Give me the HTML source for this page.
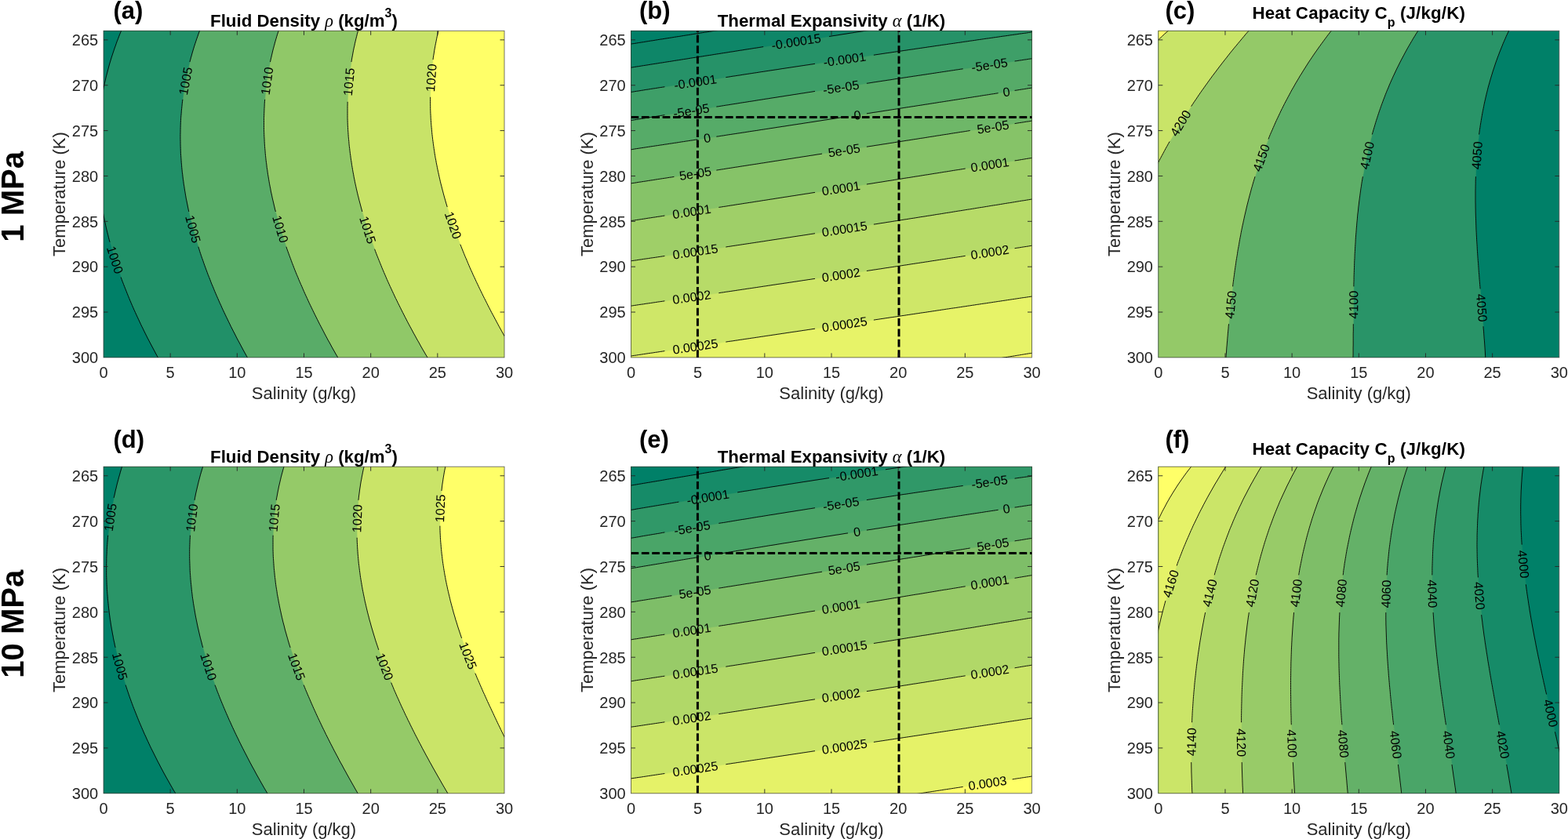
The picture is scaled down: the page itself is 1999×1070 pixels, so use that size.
<!DOCTYPE html>
<html><head><meta charset="utf-8"><title>Figure</title>
<style>html,body{margin:0;padding:0;background:#fff;overflow:hidden}svg{display:block}text{font-family:'Liberation Sans', Arial, Helvetica, sans-serif}</style>
</head><body>
<svg width="1999" height="1070" viewBox="0 0 1999 1070">
<rect width="1999" height="1070" fill="#fff"/>
<clipPath id="clipc00"><rect x="132.00" y="39.30" width="511.00" height="416.60"/></clipPath>
<g clip-path="url(#clipc00)">
<rect x="132.00" y="39.30" width="511.00" height="416.60" fill="#ffff68"/>
<path d="M560.9,31.3 L560.2,34.3 L559.4,37.3 L558.7,40.3 L558.0,43.2 L557.3,46.2 L556.7,49.2 L556.1,52.2 L555.5,55.2 L554.9,58.2 L554.4,61.1 L553.8,64.1 L553.4,67.1 L552.9,70.1 L552.4,73.1 L552.0,76.1 L551.6,79.0 L551.3,82.0 L550.9,85.0 L550.6,88.0 L550.3,91.0 L550.0,94.0 L549.8,96.9 L549.6,99.9 L549.4,102.9 L549.2,105.9 L549.0,108.9 L548.9,111.9 L548.8,114.8 L548.7,117.8 L548.6,120.8 L548.6,123.8 L548.6,126.8 L548.6,129.8 L548.6,132.7 L548.7,135.7 L548.7,138.7 L548.8,141.7 L548.9,144.7 L549.1,147.7 L549.2,150.6 L549.4,153.6 L549.6,156.6 L549.8,159.6 L550.1,162.6 L550.4,165.6 L550.6,168.5 L550.9,171.5 L551.3,174.5 L551.6,177.5 L552.0,180.5 L552.4,183.5 L552.8,186.4 L553.2,189.4 L553.7,192.4 L554.1,195.4 L554.6,198.4 L555.1,201.4 L555.7,204.3 L556.2,207.3 L556.8,210.3 L557.4,213.3 L558.0,216.3 L558.6,219.3 L559.3,222.2 L559.9,225.2 L560.6,228.2 L561.3,231.2 L562.0,234.2 L562.8,237.2 L563.5,240.1 L564.3,243.1 L565.1,246.1 L565.9,249.1 L566.7,252.1 L567.6,255.1 L568.4,258.0 L569.3,261.0 L570.2,264.0 L571.1,267.0 L572.1,270.0 L573.0,273.0 L574.0,275.9 L574.9,278.9 L575.9,281.9 L577.0,284.9 L578.0,287.9 L579.0,290.9 L580.1,293.8 L581.2,296.8 L582.3,299.8 L583.4,302.8 L584.5,305.8 L585.7,308.8 L586.8,311.7 L588.0,314.7 L589.2,317.7 L590.4,320.7 L591.6,323.7 L592.8,326.7 L594.1,329.6 L595.4,332.6 L596.6,335.6 L597.9,338.6 L599.2,341.6 L600.5,344.6 L601.9,347.5 L603.2,350.5 L604.6,353.5 L606.0,356.5 L607.4,359.5 L608.8,362.5 L610.2,365.4 L611.6,368.4 L613.1,371.4 L614.5,374.4 L616.0,377.4 L617.5,380.4 L619.0,383.3 L620.5,386.3 L622.0,389.3 L623.5,392.3 L625.1,395.3 L626.6,398.3 L628.2,401.2 L629.8,404.2 L631.4,407.2 L633.0,410.2 L634.6,413.2 L636.2,416.2 L637.8,419.1 L639.5,422.1 L641.1,425.1 L642.8,428.1 L644.5,431.1 L646.2,434.1 L647.9,437.0 L649.6,440.0 L651.3,443.0 L653.1,446.0 L654.8,449.0 L656.6,452.0 L658.3,454.9 L660.1,457.9 L661.9,460.9 L663.7,463.9 L72.0,463.9 L72.0,31.3 Z" fill="#c8e368" stroke="#c8e368" stroke-width="0.6"/>
<path d="M458.7,31.3 L457.9,34.3 L457.0,37.3 L456.2,40.3 L455.4,43.2 L454.7,46.2 L453.9,49.2 L453.2,52.2 L452.5,55.2 L451.9,58.2 L451.2,61.1 L450.6,64.1 L450.0,67.1 L449.5,70.1 L448.9,73.1 L448.4,76.1 L447.9,79.0 L447.5,82.0 L447.0,85.0 L446.6,88.0 L446.2,91.0 L445.8,94.0 L445.5,96.9 L445.1,99.9 L444.8,102.9 L444.6,105.9 L444.3,108.9 L444.1,111.9 L443.9,114.8 L443.7,117.8 L443.5,120.8 L443.4,123.8 L443.2,126.8 L443.1,129.8 L443.1,132.7 L443.0,135.7 L443.0,138.7 L443.0,141.7 L443.0,144.7 L443.0,147.7 L443.0,150.6 L443.1,153.6 L443.2,156.6 L443.3,159.6 L443.5,162.6 L443.6,165.6 L443.8,168.5 L444.0,171.5 L444.2,174.5 L444.5,177.5 L444.8,180.5 L445.0,183.5 L445.3,186.4 L445.7,189.4 L446.0,192.4 L446.4,195.4 L446.8,198.4 L447.2,201.4 L447.6,204.3 L448.1,207.3 L448.5,210.3 L449.0,213.3 L449.5,216.3 L450.0,219.3 L450.6,222.2 L451.1,225.2 L451.7,228.2 L452.3,231.2 L452.9,234.2 L453.6,237.2 L454.2,240.1 L454.9,243.1 L455.6,246.1 L456.3,249.1 L457.1,252.1 L457.8,255.1 L458.6,258.0 L459.4,261.0 L460.2,264.0 L461.0,267.0 L461.8,270.0 L462.7,273.0 L463.6,275.9 L464.4,278.9 L465.4,281.9 L466.3,284.9 L467.2,287.9 L468.2,290.9 L469.2,293.8 L470.2,296.8 L471.2,299.8 L472.2,302.8 L473.2,305.8 L474.3,308.8 L475.4,311.7 L476.5,314.7 L477.6,317.7 L478.7,320.7 L479.8,323.7 L481.0,326.7 L482.2,329.6 L483.4,332.6 L484.6,335.6 L485.8,338.6 L487.0,341.6 L488.3,344.6 L489.5,347.5 L490.8,350.5 L492.1,353.5 L493.4,356.5 L494.7,359.5 L496.1,362.5 L497.4,365.4 L498.8,368.4 L500.2,371.4 L501.6,374.4 L503.0,377.4 L504.4,380.4 L505.9,383.3 L507.3,386.3 L508.8,389.3 L510.3,392.3 L511.8,395.3 L513.3,398.3 L514.8,401.2 L516.3,404.2 L517.9,407.2 L519.4,410.2 L521.0,413.2 L522.6,416.2 L524.2,419.1 L525.8,422.1 L527.4,425.1 L529.1,428.1 L530.7,431.1 L532.4,434.1 L534.1,437.0 L535.7,440.0 L537.4,443.0 L539.1,446.0 L540.9,449.0 L542.6,452.0 L544.4,454.9 L546.1,457.9 L547.9,460.9 L549.7,463.9 L72.0,463.9 L72.0,31.3 Z" fill="#90c868" stroke="#90c868" stroke-width="0.6"/>
<path d="M357.8,31.3 L356.7,34.3 L355.7,37.3 L354.8,40.3 L353.8,43.2 L352.9,46.2 L352.0,49.2 L351.1,52.2 L350.3,55.2 L349.5,58.2 L348.7,61.1 L347.9,64.1 L347.2,67.1 L346.5,70.1 L345.8,73.1 L345.1,76.1 L344.5,79.0 L343.9,82.0 L343.3,85.0 L342.7,88.0 L342.2,91.0 L341.7,94.0 L341.2,96.9 L340.7,99.9 L340.3,102.9 L339.9,105.9 L339.5,108.9 L339.1,111.9 L338.8,114.8 L338.5,117.8 L338.2,120.8 L337.9,123.8 L337.7,126.8 L337.4,129.8 L337.2,132.7 L337.1,135.7 L336.9,138.7 L336.8,141.7 L336.7,144.7 L336.6,147.7 L336.5,150.6 L336.5,153.6 L336.5,156.6 L336.5,159.6 L336.5,162.6 L336.5,165.6 L336.6,168.5 L336.7,171.5 L336.8,174.5 L337.0,177.5 L337.1,180.5 L337.3,183.5 L337.5,186.4 L337.7,189.4 L338.0,192.4 L338.2,195.4 L338.5,198.4 L338.8,201.4 L339.1,204.3 L339.5,207.3 L339.9,210.3 L340.2,213.3 L340.7,216.3 L341.1,219.3 L341.5,222.2 L342.0,225.2 L342.5,228.2 L343.0,231.2 L343.5,234.2 L344.1,237.2 L344.7,240.1 L345.2,243.1 L345.8,246.1 L346.5,249.1 L347.1,252.1 L347.8,255.1 L348.5,258.0 L349.2,261.0 L349.9,264.0 L350.6,267.0 L351.4,270.0 L352.2,273.0 L353.0,275.9 L353.8,278.9 L354.6,281.9 L355.5,284.9 L356.3,287.9 L357.2,290.9 L358.1,293.8 L359.0,296.8 L360.0,299.8 L360.9,302.8 L361.9,305.8 L362.9,308.8 L363.9,311.7 L364.9,314.7 L365.9,317.7 L367.0,320.7 L368.1,323.7 L369.2,326.7 L370.3,329.6 L371.4,332.6 L372.5,335.6 L373.7,338.6 L374.8,341.6 L376.0,344.6 L377.2,347.5 L378.4,350.5 L379.7,353.5 L380.9,356.5 L382.2,359.5 L383.5,362.5 L384.8,365.4 L386.1,368.4 L387.4,371.4 L388.7,374.4 L390.1,377.4 L391.5,380.4 L392.8,383.3 L394.2,386.3 L395.6,389.3 L397.1,392.3 L398.5,395.3 L400.0,398.3 L401.4,401.2 L402.9,404.2 L404.4,407.2 L405.9,410.2 L407.4,413.2 L409.0,416.2 L410.5,419.1 L412.1,422.1 L413.6,425.1 L415.2,428.1 L416.8,431.1 L418.4,434.1 L420.1,437.0 L421.7,440.0 L423.3,443.0 L425.0,446.0 L426.7,449.0 L428.4,452.0 L430.1,454.9 L431.8,457.9 L433.5,460.9 L435.2,463.9 L72.0,463.9 L72.0,31.3 Z" fill="#59ac68" stroke="#59ac68" stroke-width="0.6"/>
<path d="M257.6,31.3 L256.4,34.3 L255.2,37.3 L254.1,40.3 L253.0,43.2 L252.0,46.2 L250.9,49.2 L249.9,52.2 L248.9,55.2 L247.9,58.2 L247.0,61.1 L246.1,64.1 L245.2,67.1 L244.4,70.1 L243.5,73.1 L242.7,76.1 L241.9,79.0 L241.2,82.0 L240.5,85.0 L239.8,88.0 L239.1,91.0 L238.4,94.0 L237.8,96.9 L237.2,99.9 L236.6,102.9 L236.1,105.9 L235.5,108.9 L235.0,111.9 L234.5,114.8 L234.1,117.8 L233.7,120.8 L233.3,123.8 L232.9,126.8 L232.5,129.8 L232.2,132.7 L231.9,135.7 L231.6,138.7 L231.3,141.7 L231.1,144.7 L230.8,147.7 L230.6,150.6 L230.5,153.6 L230.3,156.6 L230.2,159.6 L230.1,162.6 L230.0,165.6 L230.0,168.5 L229.9,171.5 L229.9,174.5 L229.9,177.5 L230.0,180.5 L230.0,183.5 L230.1,186.4 L230.2,189.4 L230.3,192.4 L230.4,195.4 L230.6,198.4 L230.8,201.4 L231.0,204.3 L231.2,207.3 L231.5,210.3 L231.7,213.3 L232.0,216.3 L232.3,219.3 L232.7,222.2 L233.0,225.2 L233.4,228.2 L233.8,231.2 L234.2,234.2 L234.7,237.2 L235.1,240.1 L235.6,243.1 L236.1,246.1 L236.6,249.1 L237.1,252.1 L237.7,255.1 L238.3,258.0 L238.9,261.0 L239.5,264.0 L240.1,267.0 L240.8,270.0 L241.4,273.0 L242.1,275.9 L242.8,278.9 L243.6,281.9 L244.3,284.9 L245.1,287.9 L245.9,290.9 L246.7,293.8 L247.5,296.8 L248.3,299.8 L249.2,302.8 L250.1,305.8 L251.0,308.8 L251.9,311.7 L252.8,314.7 L253.8,317.7 L254.7,320.7 L255.7,323.7 L256.7,326.7 L257.7,329.6 L258.8,332.6 L259.8,335.6 L260.9,338.6 L262.0,341.6 L263.1,344.6 L264.2,347.5 L265.3,350.5 L266.5,353.5 L267.7,356.5 L268.8,359.5 L270.0,362.5 L271.3,365.4 L272.5,368.4 L273.7,371.4 L275.0,374.4 L276.3,377.4 L277.6,380.4 L278.9,383.3 L280.2,386.3 L281.6,389.3 L282.9,392.3 L284.3,395.3 L285.7,398.3 L287.1,401.2 L288.5,404.2 L290.0,407.2 L291.4,410.2 L292.9,413.2 L294.3,416.2 L295.8,419.1 L297.3,422.1 L298.9,425.1 L300.4,428.1 L301.9,431.1 L303.5,434.1 L305.1,437.0 L306.7,440.0 L308.3,443.0 L309.9,446.0 L311.5,449.0 L313.2,452.0 L314.8,454.9 L316.5,457.9 L318.2,460.9 L319.9,463.9 L72.0,463.9 L72.0,31.3 Z" fill="#219068" stroke="#219068" stroke-width="0.6"/>
<path d="M157.9,31.3 L156.6,34.3 L155.3,37.3 L154.1,40.3 L152.9,43.2 L151.7,46.2 L150.6,49.2 L149.4,52.2 L148.3,55.2 L147.3,58.2 L146.2,61.1 L145.2,64.1 L144.2,67.1 L143.2,70.1 L142.2,73.1 L141.3,76.1 L140.4,79.0 L139.5,82.0 L138.7,85.0 L137.9,88.0 L137.1,91.0 L136.3,94.0 L135.5,96.9 L134.8,99.9 L134.1,102.9 L133.4,105.9 L132.8,108.9 L132.1,111.9 L131.5,114.8 L130.9,117.8 L130.4,120.8 L129.8,123.8 L129.3,126.8 L128.8,129.8 L128.4,132.7 L127.9,135.7 L127.5,138.7 L127.1,141.7 L126.7,144.7 L126.4,147.7 L126.1,150.6 L125.8,153.6 L125.5,156.6 L125.2,159.6 L125.0,162.6 L124.8,165.6 L124.6,168.5 L124.4,171.5 L124.3,174.5 L124.2,177.5 L124.1,180.5 L124.0,183.5 L123.9,186.4 L123.9,189.4 L123.9,192.4 L123.9,195.4 L124.0,198.4 L124.0,201.4 L124.1,204.3 L124.2,207.3 L124.3,210.3 L124.5,213.3 L124.6,216.3 L124.8,219.3 L125.0,222.2 L125.2,225.2 L125.5,228.2 L125.8,231.2 L126.1,234.2 L126.4,237.2 L126.7,240.1 L127.1,243.1 L127.4,246.1 L127.8,249.1 L128.2,252.1 L128.7,255.1 L129.1,258.0 L129.6,261.0 L130.1,264.0 L130.6,267.0 L131.2,270.0 L131.7,273.0 L132.3,275.9 L132.9,278.9 L133.5,281.9 L134.2,284.9 L134.8,287.9 L135.5,290.9 L136.2,293.8 L136.9,296.8 L137.7,299.8 L138.4,302.8 L139.2,305.8 L140.0,308.8 L140.8,311.7 L141.6,314.7 L142.5,317.7 L143.3,320.7 L144.2,323.7 L145.1,326.7 L146.1,329.6 L147.0,332.6 L148.0,335.6 L149.0,338.6 L150.0,341.6 L151.0,344.6 L152.0,347.5 L153.1,350.5 L154.1,353.5 L155.2,356.5 L156.3,359.5 L157.5,362.5 L158.6,365.4 L159.8,368.4 L161.0,371.4 L162.2,374.4 L163.4,377.4 L164.6,380.4 L165.8,383.3 L167.1,386.3 L168.4,389.3 L169.7,392.3 L171.0,395.3 L172.4,398.3 L173.7,401.2 L175.1,404.2 L176.5,407.2 L177.9,410.2 L179.3,413.2 L180.7,416.2 L182.2,419.1 L183.6,422.1 L185.1,425.1 L186.6,428.1 L188.1,431.1 L189.7,434.1 L191.2,437.0 L192.8,440.0 L194.4,443.0 L196.0,446.0 L197.6,449.0 L199.2,452.0 L200.8,454.9 L202.5,457.9 L204.2,460.9 L205.9,463.9 L72.0,463.9 L72.0,31.3 Z" fill="#008068" stroke="#008068" stroke-width="0.6"/>
<path d="M560.9,31.3 L560.2,34.3 L559.4,37.3 L558.7,40.3 L558.0,43.2 L557.3,46.2 L556.7,49.2 L556.1,52.2 L555.5,55.2 L554.9,58.2 L554.4,61.1 L553.8,64.1 L553.4,67.1 L552.9,70.1 L552.4,73.1 L552.0,76.1 M548.6,123.8 L548.6,126.8 L548.6,129.8 L548.6,132.7 L548.7,135.7 L548.7,138.7 L548.8,141.7 L548.9,144.7 L549.1,147.7 L549.2,150.6 L549.4,153.6 L549.6,156.6 L549.8,159.6 L550.1,162.6 L550.4,165.6 L550.6,168.5 L550.9,171.5 L551.3,174.5 L551.6,177.5 L552.0,180.5 L552.4,183.5 L552.8,186.4 L553.2,189.4 L553.7,192.4 L554.1,195.4 L554.6,198.4 L555.1,201.4 L555.7,204.3 L556.2,207.3 L556.8,210.3 L557.4,213.3 L558.0,216.3 L558.6,219.3 L559.3,222.2 L559.9,225.2 L560.6,228.2 L561.3,231.2 L562.0,234.2 L562.8,237.2 L563.5,240.1 L564.3,243.1 L565.1,246.1 L565.9,249.1 L566.7,252.1 L567.6,255.1 L568.4,258.0 L569.3,261.0 L570.2,264.0 M586.8,311.7 L588.0,314.7 L589.2,317.7 L590.4,320.7 L591.6,323.7 L592.8,326.7 L594.1,329.6 L595.4,332.6 L596.6,335.6 L597.9,338.6 L599.2,341.6 L600.5,344.6 L601.9,347.5 L603.2,350.5 L604.6,353.5 L606.0,356.5 L607.4,359.5 L608.8,362.5 L610.2,365.4 L611.6,368.4 L613.1,371.4 L614.5,374.4 L616.0,377.4 L617.5,380.4 L619.0,383.3 L620.5,386.3 L622.0,389.3 L623.5,392.3 L625.1,395.3 L626.6,398.3 L628.2,401.2 L629.8,404.2 L631.4,407.2 L633.0,410.2 L634.6,413.2 L636.2,416.2 L637.8,419.1 L639.5,422.1 L641.1,425.1 L642.8,428.1 L644.5,431.1 L646.2,434.1 L647.9,437.0 L649.6,440.0 L651.3,443.0 L653.1,446.0 L654.8,449.0 L656.6,452.0 L658.3,454.9 L660.1,457.9 L661.9,460.9 L663.7,463.9" fill="none" stroke="#000" stroke-width="0.9"/>
<path d="M458.7,31.3 L457.9,34.3 L457.0,37.3 L456.2,40.3 L455.4,43.2 L454.7,46.2 L453.9,49.2 L453.2,52.2 L452.5,55.2 L451.9,58.2 L451.2,61.1 L450.6,64.1 L450.0,67.1 L449.5,70.1 L448.9,73.1 L448.4,76.1 L447.9,79.0 M443.1,129.8 L443.1,132.7 L443.0,135.7 L443.0,138.7 L443.0,141.7 L443.0,144.7 L443.0,147.7 L443.0,150.6 L443.1,153.6 L443.2,156.6 L443.3,159.6 L443.5,162.6 L443.6,165.6 L443.8,168.5 L444.0,171.5 L444.2,174.5 L444.5,177.5 L444.8,180.5 L445.0,183.5 L445.3,186.4 L445.7,189.4 L446.0,192.4 L446.4,195.4 L446.8,198.4 L447.2,201.4 L447.6,204.3 L448.1,207.3 L448.5,210.3 L449.0,213.3 L449.5,216.3 L450.0,219.3 L450.6,222.2 L451.1,225.2 L451.7,228.2 L452.3,231.2 L452.9,234.2 L453.6,237.2 L454.2,240.1 L454.9,243.1 L455.6,246.1 L456.3,249.1 L457.1,252.1 L457.8,255.1 L458.6,258.0 L459.4,261.0 L460.2,264.0 L461.0,267.0 L461.8,270.0 M477.6,317.7 L478.7,320.7 L479.8,323.7 L481.0,326.7 L482.2,329.6 L483.4,332.6 L484.6,335.6 L485.8,338.6 L487.0,341.6 L488.3,344.6 L489.5,347.5 L490.8,350.5 L492.1,353.5 L493.4,356.5 L494.7,359.5 L496.1,362.5 L497.4,365.4 L498.8,368.4 L500.2,371.4 L501.6,374.4 L503.0,377.4 L504.4,380.4 L505.9,383.3 L507.3,386.3 L508.8,389.3 L510.3,392.3 L511.8,395.3 L513.3,398.3 L514.8,401.2 L516.3,404.2 L517.9,407.2 L519.4,410.2 L521.0,413.2 L522.6,416.2 L524.2,419.1 L525.8,422.1 L527.4,425.1 L529.1,428.1 L530.7,431.1 L532.4,434.1 L534.1,437.0 L535.7,440.0 L537.4,443.0 L539.1,446.0 L540.9,449.0 L542.6,452.0 L544.4,454.9 L546.1,457.9 L547.9,460.9 L549.7,463.9" fill="none" stroke="#000" stroke-width="0.9"/>
<path d="M357.8,31.3 L356.7,34.3 L355.7,37.3 L354.8,40.3 L353.8,43.2 L352.9,46.2 L352.0,49.2 L351.1,52.2 L350.3,55.2 L349.5,58.2 L348.7,61.1 L347.9,64.1 L347.2,67.1 L346.5,70.1 L345.8,73.1 L345.1,76.1 L344.5,79.0 M337.7,126.8 L337.4,129.8 L337.2,132.7 L337.1,135.7 L336.9,138.7 L336.8,141.7 L336.7,144.7 L336.6,147.7 L336.5,150.6 L336.5,153.6 L336.5,156.6 L336.5,159.6 L336.5,162.6 L336.5,165.6 L336.6,168.5 L336.7,171.5 L336.8,174.5 L337.0,177.5 L337.1,180.5 L337.3,183.5 L337.5,186.4 L337.7,189.4 L338.0,192.4 L338.2,195.4 L338.5,198.4 L338.8,201.4 L339.1,204.3 L339.5,207.3 L339.9,210.3 L340.2,213.3 L340.7,216.3 L341.1,219.3 L341.5,222.2 L342.0,225.2 L342.5,228.2 L343.0,231.2 L343.5,234.2 L344.1,237.2 L344.7,240.1 L345.2,243.1 L345.8,246.1 L346.5,249.1 L347.1,252.1 L347.8,255.1 L348.5,258.0 L349.2,261.0 L349.9,264.0 L350.6,267.0 L351.4,270.0 M364.9,314.7 L365.9,317.7 L367.0,320.7 L368.1,323.7 L369.2,326.7 L370.3,329.6 L371.4,332.6 L372.5,335.6 L373.7,338.6 L374.8,341.6 L376.0,344.6 L377.2,347.5 L378.4,350.5 L379.7,353.5 L380.9,356.5 L382.2,359.5 L383.5,362.5 L384.8,365.4 L386.1,368.4 L387.4,371.4 L388.7,374.4 L390.1,377.4 L391.5,380.4 L392.8,383.3 L394.2,386.3 L395.6,389.3 L397.1,392.3 L398.5,395.3 L400.0,398.3 L401.4,401.2 L402.9,404.2 L404.4,407.2 L405.9,410.2 L407.4,413.2 L409.0,416.2 L410.5,419.1 L412.1,422.1 L413.6,425.1 L415.2,428.1 L416.8,431.1 L418.4,434.1 L420.1,437.0 L421.7,440.0 L423.3,443.0 L425.0,446.0 L426.7,449.0 L428.4,452.0 L430.1,454.9 L431.8,457.9 L433.5,460.9 L435.2,463.9" fill="none" stroke="#000" stroke-width="0.9"/>
<path d="M257.6,31.3 L256.4,34.3 L255.2,37.3 L254.1,40.3 L253.0,43.2 L252.0,46.2 L250.9,49.2 L249.9,52.2 L248.9,55.2 L247.9,58.2 L247.0,61.1 L246.1,64.1 L245.2,67.1 L244.4,70.1 L243.5,73.1 L242.7,76.1 L241.9,79.0 M232.9,126.8 L232.5,129.8 L232.2,132.7 L231.9,135.7 L231.6,138.7 L231.3,141.7 L231.1,144.7 L230.8,147.7 L230.6,150.6 L230.5,153.6 L230.3,156.6 L230.2,159.6 L230.1,162.6 L230.0,165.6 L230.0,168.5 L229.9,171.5 L229.9,174.5 L229.9,177.5 L230.0,180.5 L230.0,183.5 L230.1,186.4 L230.2,189.4 L230.3,192.4 L230.4,195.4 L230.6,198.4 L230.8,201.4 L231.0,204.3 L231.2,207.3 L231.5,210.3 L231.7,213.3 L232.0,216.3 L232.3,219.3 L232.7,222.2 L233.0,225.2 L233.4,228.2 L233.8,231.2 L234.2,234.2 L234.7,237.2 L235.1,240.1 L235.6,243.1 L236.1,246.1 L236.6,249.1 L237.1,252.1 L237.7,255.1 L238.3,258.0 L238.9,261.0 L239.5,264.0 L240.1,267.0 L240.8,270.0 M252.8,314.7 L253.8,317.7 L254.7,320.7 L255.7,323.7 L256.7,326.7 L257.7,329.6 L258.8,332.6 L259.8,335.6 L260.9,338.6 L262.0,341.6 L263.1,344.6 L264.2,347.5 L265.3,350.5 L266.5,353.5 L267.7,356.5 L268.8,359.5 L270.0,362.5 L271.3,365.4 L272.5,368.4 L273.7,371.4 L275.0,374.4 L276.3,377.4 L277.6,380.4 L278.9,383.3 L280.2,386.3 L281.6,389.3 L282.9,392.3 L284.3,395.3 L285.7,398.3 L287.1,401.2 L288.5,404.2 L290.0,407.2 L291.4,410.2 L292.9,413.2 L294.3,416.2 L295.8,419.1 L297.3,422.1 L298.9,425.1 L300.4,428.1 L301.9,431.1 L303.5,434.1 L305.1,437.0 L306.7,440.0 L308.3,443.0 L309.9,446.0 L311.5,449.0 L313.2,452.0 L314.8,454.9 L316.5,457.9 L318.2,460.9 L319.9,463.9" fill="none" stroke="#000" stroke-width="0.9"/>
<path d="M157.9,31.3 L156.6,34.3 L155.3,37.3 L154.1,40.3 L152.9,43.2 L151.7,46.2 L150.6,49.2 L149.4,52.2 L148.3,55.2 L147.3,58.2 L146.2,61.1 L145.2,64.1 L144.2,67.1 L143.2,70.1 L142.2,73.1 L141.3,76.1 L140.4,79.0 L139.5,82.0 L138.7,85.0 L137.9,88.0 L137.1,91.0 L136.3,94.0 L135.5,96.9 L134.8,99.9 L134.1,102.9 L133.4,105.9 L132.8,108.9 L132.1,111.9 L131.5,114.8 L130.9,117.8 L130.4,120.8 L129.8,123.8 L129.3,126.8 L128.8,129.8 L128.4,132.7 L127.9,135.7 L127.5,138.7 L127.1,141.7 L126.7,144.7 L126.4,147.7 L126.1,150.6 L125.8,153.6 L125.5,156.6 L125.2,159.6 L125.0,162.6 L124.8,165.6 L124.6,168.5 L124.4,171.5 L124.3,174.5 L124.2,177.5 L124.1,180.5 L124.0,183.5 L123.9,186.4 L123.9,189.4 L123.9,192.4 L123.9,195.4 L124.0,198.4 L124.0,201.4 L124.1,204.3 L124.2,207.3 L124.3,210.3 L124.5,213.3 L124.6,216.3 L124.8,219.3 L125.0,222.2 L125.2,225.2 L125.5,228.2 L125.8,231.2 L126.1,234.2 L126.4,237.2 L126.7,240.1 L127.1,243.1 L127.4,246.1 L127.8,249.1 L128.2,252.1 L128.7,255.1 L129.1,258.0 L129.6,261.0 L130.1,264.0 L130.6,267.0 L131.2,270.0 L131.7,273.0 L132.3,275.9 L132.9,278.9 L133.5,281.9 L134.2,284.9 L134.8,287.9 L135.5,290.9 L136.2,293.8 L136.9,296.8 L137.7,299.8 L138.4,302.8 L139.2,305.8 L140.0,308.8 M154.1,353.5 L155.2,356.5 L156.3,359.5 L157.5,362.5 L158.6,365.4 L159.8,368.4 L161.0,371.4 L162.2,374.4 L163.4,377.4 L164.6,380.4 L165.8,383.3 L167.1,386.3 L168.4,389.3 L169.7,392.3 L171.0,395.3 L172.4,398.3 L173.7,401.2 L175.1,404.2 L176.5,407.2 L177.9,410.2 L179.3,413.2 L180.7,416.2 L182.2,419.1 L183.6,422.1 L185.1,425.1 L186.6,428.1 L188.1,431.1 L189.7,434.1 L191.2,437.0 L192.8,440.0 L194.4,443.0 L196.0,446.0 L197.6,449.0 L199.2,452.0 L200.8,454.9 L202.5,457.9 L204.2,460.9 L205.9,463.9" fill="none" stroke="#000" stroke-width="0.9"/>
</g>
<text x="549.61" y="105.02" transform="rotate(-85.82 549.61 99.30)" font-size="16.1" text-anchor="middle" fill="#000">1020</text>
<text x="577.76" y="292.92" transform="rotate(70.85 577.76 287.20)" font-size="16.1" text-anchor="middle" fill="#000">1020</text>
<text x="444.70" y="110.02" transform="rotate(-84.61 444.70 104.30)" font-size="16.1" text-anchor="middle" fill="#000">1015</text>
<text x="468.95" y="298.92" transform="rotate(71.78 468.95 293.20)" font-size="16.1" text-anchor="middle" fill="#000">1015</text>
<text x="340.25" y="109.02" transform="rotate(-81.93 340.25 103.30)" font-size="16.1" text-anchor="middle" fill="#000">1010</text>
<text x="357.59" y="297.87" transform="rotate(73.20 357.59 292.15)" font-size="16.1" text-anchor="middle" fill="#000">1010</text>
<text x="236.54" y="109.02" transform="rotate(-79.31 236.54 103.30)" font-size="16.1" text-anchor="middle" fill="#000">1005</text>
<text x="246.22" y="297.87" transform="rotate(74.94 246.22 292.15)" font-size="16.1" text-anchor="middle" fill="#000">1005</text>
<text x="146.62" y="337.12" transform="rotate(72.40 146.62 331.40)" font-size="16.1" text-anchor="middle" fill="#000">1000</text>
<path d="M217.17,455.90 V450.40 M217.17,39.30 V44.80 M302.33,455.90 V450.40 M302.33,39.30 V44.80 M387.50,455.90 V450.40 M387.50,39.30 V44.80 M472.67,455.90 V450.40 M472.67,39.30 V44.80 M557.83,455.90 V450.40 M557.83,39.30 V44.80 M132.00,50.87 H137.50 M643.00,50.87 H637.50 M132.00,108.73 H137.50 M643.00,108.73 H637.50 M132.00,166.59 H137.50 M643.00,166.59 H637.50 M132.00,224.46 H137.50 M643.00,224.46 H637.50 M132.00,282.32 H137.50 M643.00,282.32 H637.50 M132.00,340.18 H137.50 M643.00,340.18 H637.50 M132.00,398.04 H137.50 M643.00,398.04 H637.50" stroke="#262626" stroke-opacity="0.9" stroke-width="1" fill="none"/>
<rect x="132.00" y="39.30" width="511.00" height="416.60" fill="none" stroke="#262626" stroke-opacity="0.7" stroke-width="0.9"/>
<text x="132.00" y="482.20" font-size="20" text-anchor="middle" fill="#262626">0</text>
<text x="217.17" y="482.20" font-size="20" text-anchor="middle" fill="#262626">5</text>
<text x="302.33" y="482.20" font-size="20" text-anchor="middle" fill="#262626">10</text>
<text x="387.50" y="482.20" font-size="20" text-anchor="middle" fill="#262626">15</text>
<text x="472.67" y="482.20" font-size="20" text-anchor="middle" fill="#262626">20</text>
<text x="557.83" y="482.20" font-size="20" text-anchor="middle" fill="#262626">25</text>
<text x="643.00" y="482.20" font-size="20" text-anchor="middle" fill="#262626">30</text>
<text x="125.20" y="58.17" font-size="20" text-anchor="end" fill="#262626">265</text>
<text x="125.20" y="116.03" font-size="20" text-anchor="end" fill="#262626">270</text>
<text x="125.20" y="173.89" font-size="20" text-anchor="end" fill="#262626">275</text>
<text x="125.20" y="231.76" font-size="20" text-anchor="end" fill="#262626">280</text>
<text x="125.20" y="289.62" font-size="20" text-anchor="end" fill="#262626">285</text>
<text x="125.20" y="347.48" font-size="20" text-anchor="end" fill="#262626">290</text>
<text x="125.20" y="405.34" font-size="20" text-anchor="end" fill="#262626">295</text>
<text x="125.20" y="463.20" font-size="20" text-anchor="end" fill="#262626">300</text>
<text x="387.50" y="508.80" font-size="22" text-anchor="middle" fill="#262626">Salinity (g/kg)</text>
<text x="83.20" y="247.60" font-size="22" text-anchor="middle" fill="#262626" transform="rotate(-90 83.20 247.60)">Temperature (K)</text>
<text x="387.50" y="34.10" font-size="22.3" font-weight="bold" text-anchor="middle" fill="#000">Fluid Density <tspan font-family="'Liberation Serif', serif" font-style="italic" font-weight="normal">&#961;</tspan> (kg/m<tspan dy="-11.8" font-size="16">3</tspan><tspan dy="11.8">)</tspan></text>
<text x="144.40" y="23.60" font-size="31" font-weight="bold" fill="#000">(a)</text>
<clipPath id="clipc10"><rect x="804.50" y="39.30" width="511.00" height="416.60"/></clipPath>
<g clip-path="url(#clipc10)">
<rect x="804.50" y="39.30" width="511.00" height="416.60" fill="#ffff68"/>
<path d="M796.5,533.6 L799.5,533.2 L802.5,532.7 L805.5,532.2 L808.5,531.7 L811.5,531.2 L814.5,530.7 L817.5,530.3 L820.5,529.8 L823.4,529.3 L826.4,528.8 L829.4,528.3 L832.4,527.9 L835.4,527.4 L838.4,526.9 L841.4,526.4 L844.4,525.9 L847.4,525.5 L850.4,525.0 L853.4,524.5 L856.4,524.0 L859.4,523.5 L862.4,523.1 L865.4,522.6 L868.4,522.1 L871.4,521.6 L874.4,521.1 L877.3,520.7 L880.3,520.2 L883.3,519.7 L886.3,519.2 L889.3,518.7 L892.3,518.2 L895.3,517.8 L898.3,517.3 L901.3,516.8 L904.3,516.3 L907.3,515.8 L910.3,515.4 L913.3,514.9 L916.3,514.4 L919.3,513.9 L922.3,513.4 L925.3,513.0 L928.2,512.5 L931.2,512.0 L934.2,511.5 L937.2,511.0 L940.2,510.6 L943.2,510.1 L946.2,509.6 L949.2,509.1 L952.2,508.6 L955.2,508.2 L958.2,507.7 L961.2,507.2 L964.2,506.7 L967.2,506.2 L970.2,505.7 L973.2,505.3 L976.2,504.8 L979.2,504.3 L982.1,503.8 L985.1,503.3 L988.1,502.9 L991.1,502.4 L994.1,501.9 L997.1,501.4 L1000.1,500.9 L1003.1,500.5 L1006.1,500.0 L1009.1,499.5 L1012.1,499.0 L1015.1,498.5 L1018.1,498.1 L1021.1,497.6 L1024.1,497.1 L1027.1,496.6 L1030.1,496.1 L1033.1,495.7 L1036.0,495.2 L1039.0,494.7 L1042.0,494.2 L1045.0,493.7 L1048.0,493.2 L1051.0,492.8 L1054.0,492.3 L1057.0,491.8 L1060.0,491.3 L1063.0,490.8 L1066.0,490.4 L1069.0,489.9 L1072.0,489.4 L1075.0,488.9 L1078.0,488.4 L1081.0,488.0 L1084.0,487.5 L1086.9,487.0 L1089.9,486.5 L1092.9,486.0 L1095.9,485.6 L1098.9,485.1 L1101.9,484.6 L1104.9,484.1 L1107.9,483.6 L1110.9,483.2 L1113.9,482.7 L1116.9,482.2 L1119.9,481.7 L1122.9,481.2 L1125.9,480.7 L1128.9,480.3 L1131.9,479.8 L1134.9,479.3 L1137.9,478.8 L1140.8,478.3 L1143.8,477.9 L1146.8,477.4 L1149.8,476.9 L1152.8,476.4 L1155.8,475.9 L1158.8,475.5 L1161.8,475.0 L1164.8,474.5 L1167.8,474.0 L1170.8,473.5 L1173.8,473.1 L1176.8,472.6 L1179.8,472.1 L1182.8,471.6 L1185.8,471.1 L1188.8,470.7 L1191.8,470.2 L1194.7,469.7 L1197.7,469.2 L1200.7,468.7 L1203.7,468.2 L1206.7,467.8 L1209.7,467.3 L1212.7,466.8 L1215.7,466.3 L1218.7,465.8 L1221.7,465.4 L1224.7,464.9 L1227.7,464.4 L1230.7,463.9 L1233.7,463.4 L1236.7,463.0 L1239.7,462.5 L1242.7,462.0 L1245.6,461.5 L1248.6,461.0 L1251.6,460.6 L1254.6,460.1 L1257.6,459.6 L1260.6,459.1 L1263.6,458.6 L1266.6,458.2 L1269.6,457.7 L1272.6,457.2 L1275.6,456.7 L1278.6,456.2 L1281.6,455.7 L1284.6,455.3 L1287.6,454.8 L1290.6,454.3 L1293.6,453.8 L1296.6,453.3 L1299.5,452.9 L1302.5,452.4 L1305.5,451.9 L1308.5,451.4 L1311.5,450.9 L1314.5,450.5 L1317.5,450.0 L1320.5,449.5 L1323.5,449.0 L1323.5,-20.7 L796.5,-20.7 Z" fill="#e7f368" stroke="#e7f368" stroke-width="0.6"/>
<path d="M796.5,455.2 L799.5,454.7 L802.5,454.3 L805.5,453.8 L808.5,453.4 L811.5,453.0 L814.5,452.5 L817.5,452.1 L820.5,451.6 L823.4,451.2 L826.4,450.7 L829.4,450.3 L832.4,449.9 L835.4,449.4 L838.4,449.0 L841.4,448.5 L844.4,448.1 L847.4,447.6 L850.4,447.2 L853.4,446.7 L856.4,446.3 L859.4,445.9 L862.4,445.4 L865.4,445.0 L868.4,444.5 L871.4,444.1 L874.4,443.6 L877.3,443.2 L880.3,442.8 L883.3,442.3 L886.3,441.9 L889.3,441.4 L892.3,441.0 L895.3,440.5 L898.3,440.1 L901.3,439.6 L904.3,439.2 L907.3,438.8 L910.3,438.3 L913.3,437.9 L916.3,437.4 L919.3,437.0 L922.3,436.5 L925.3,436.1 L928.2,435.6 L931.2,435.2 L934.2,434.8 L937.2,434.3 L940.2,433.9 L943.2,433.4 L946.2,433.0 L949.2,432.5 L952.2,432.1 L955.2,431.7 L958.2,431.2 L961.2,430.8 L964.2,430.3 L967.2,429.9 L970.2,429.4 L973.2,429.0 L976.2,428.5 L979.2,428.1 L982.1,427.7 L985.1,427.2 L988.1,426.8 L991.1,426.3 L994.1,425.9 L997.1,425.4 L1000.1,425.0 L1003.1,424.5 L1006.1,424.1 L1009.1,423.6 L1012.1,423.2 L1015.1,422.8 L1018.1,422.3 L1021.1,421.9 L1024.1,421.4 L1027.1,421.0 L1030.1,420.5 L1033.1,420.1 L1036.0,419.6 L1039.0,419.2 L1042.0,418.8 L1045.0,418.3 L1048.0,417.9 L1051.0,417.4 L1054.0,417.0 L1057.0,416.5 L1060.0,416.1 L1063.0,415.6 L1066.0,415.2 L1069.0,414.7 L1072.0,414.3 L1075.0,413.9 L1078.0,413.4 L1081.0,413.0 L1084.0,412.5 L1086.9,412.1 L1089.9,411.6 L1092.9,411.2 L1095.9,410.7 L1098.9,410.3 L1101.9,409.8 L1104.9,409.4 L1107.9,409.0 L1110.9,408.5 L1113.9,408.1 L1116.9,407.6 L1119.9,407.2 L1122.9,406.7 L1125.9,406.3 L1128.9,405.8 L1131.9,405.4 L1134.9,404.9 L1137.9,404.5 L1140.8,404.1 L1143.8,403.6 L1146.8,403.2 L1149.8,402.7 L1152.8,402.3 L1155.8,401.8 L1158.8,401.4 L1161.8,400.9 L1164.8,400.5 L1167.8,400.0 L1170.8,399.6 L1173.8,399.1 L1176.8,398.7 L1179.8,398.3 L1182.8,397.8 L1185.8,397.4 L1188.8,396.9 L1191.8,396.5 L1194.7,396.0 L1197.7,395.6 L1200.7,395.1 L1203.7,394.7 L1206.7,394.2 L1209.7,393.8 L1212.7,393.3 L1215.7,392.9 L1218.7,392.5 L1221.7,392.0 L1224.7,391.6 L1227.7,391.1 L1230.7,390.7 L1233.7,390.2 L1236.7,389.8 L1239.7,389.3 L1242.7,388.9 L1245.6,388.4 L1248.6,388.0 L1251.6,387.5 L1254.6,387.1 L1257.6,386.7 L1260.6,386.2 L1263.6,385.8 L1266.6,385.3 L1269.6,384.9 L1272.6,384.4 L1275.6,384.0 L1278.6,383.5 L1281.6,383.1 L1284.6,382.6 L1287.6,382.2 L1290.6,381.7 L1293.6,381.3 L1296.6,380.8 L1299.5,380.4 L1302.5,379.9 L1305.5,379.5 L1308.5,379.1 L1311.5,378.6 L1314.5,378.2 L1317.5,377.7 L1320.5,377.3 L1323.5,376.8 L1323.5,-20.7 L796.5,-20.7 Z" fill="#cfe768" stroke="#cfe768" stroke-width="0.6"/>
<path d="M796.5,391.3 L799.5,390.8 L802.5,390.4 L805.5,390.0 L808.5,389.5 L811.5,389.1 L814.5,388.6 L817.5,388.2 L820.5,387.8 L823.4,387.3 L826.4,386.9 L829.4,386.5 L832.4,386.0 L835.4,385.6 L838.4,385.1 L841.4,384.7 L844.4,384.3 L847.4,383.8 L850.4,383.4 L853.4,382.9 L856.4,382.5 L859.4,382.1 L862.4,381.6 L865.4,381.2 L868.4,380.7 L871.4,380.3 L874.4,379.9 L877.3,379.4 L880.3,379.0 L883.3,378.5 L886.3,378.1 L889.3,377.7 L892.3,377.2 L895.3,376.8 L898.3,376.3 L901.3,375.9 L904.3,375.4 L907.3,375.0 L910.3,374.6 L913.3,374.1 L916.3,373.7 L919.3,373.2 L922.3,372.8 L925.3,372.3 L928.2,371.9 L931.2,371.5 L934.2,371.0 L937.2,370.6 L940.2,370.1 L943.2,369.7 L946.2,369.2 L949.2,368.8 L952.2,368.3 L955.2,367.9 L958.2,367.5 L961.2,367.0 L964.2,366.6 L967.2,366.1 L970.2,365.7 L973.2,365.2 L976.2,364.8 L979.2,364.3 L982.1,363.9 L985.1,363.4 L988.1,363.0 L991.1,362.5 L994.1,362.1 L997.1,361.7 L1000.1,361.2 L1003.1,360.8 L1006.1,360.3 L1009.1,359.9 L1012.1,359.4 L1015.1,359.0 L1018.1,358.5 L1021.1,358.1 L1024.1,357.6 L1027.1,357.2 L1030.1,356.7 L1033.1,356.3 L1036.0,355.8 L1039.0,355.4 L1042.0,354.9 L1045.0,354.5 L1048.0,354.0 L1051.0,353.6 L1054.0,353.1 L1057.0,352.7 L1060.0,352.2 L1063.0,351.8 L1066.0,351.3 L1069.0,350.9 L1072.0,350.4 L1075.0,350.0 L1078.0,349.5 L1081.0,349.1 L1084.0,348.6 L1086.9,348.2 L1089.9,347.7 L1092.9,347.3 L1095.9,346.8 L1098.9,346.4 L1101.9,345.9 L1104.9,345.5 L1107.9,345.0 L1110.9,344.6 L1113.9,344.1 L1116.9,343.7 L1119.9,343.2 L1122.9,342.8 L1125.9,342.3 L1128.9,341.8 L1131.9,341.4 L1134.9,340.9 L1137.9,340.5 L1140.8,340.0 L1143.8,339.6 L1146.8,339.1 L1149.8,338.7 L1152.8,338.2 L1155.8,337.8 L1158.8,337.3 L1161.8,336.8 L1164.8,336.4 L1167.8,335.9 L1170.8,335.5 L1173.8,335.0 L1176.8,334.6 L1179.8,334.1 L1182.8,333.7 L1185.8,333.2 L1188.8,332.7 L1191.8,332.3 L1194.7,331.8 L1197.7,331.4 L1200.7,330.9 L1203.7,330.5 L1206.7,330.0 L1209.7,329.5 L1212.7,329.1 L1215.7,328.6 L1218.7,328.2 L1221.7,327.7 L1224.7,327.3 L1227.7,326.8 L1230.7,326.3 L1233.7,325.9 L1236.7,325.4 L1239.7,325.0 L1242.7,324.5 L1245.6,324.0 L1248.6,323.6 L1251.6,323.1 L1254.6,322.7 L1257.6,322.2 L1260.6,321.8 L1263.6,321.3 L1266.6,320.8 L1269.6,320.4 L1272.6,319.9 L1275.6,319.4 L1278.6,319.0 L1281.6,318.5 L1284.6,318.1 L1287.6,317.6 L1290.6,317.1 L1293.6,316.7 L1296.6,316.2 L1299.5,315.8 L1302.5,315.3 L1305.5,314.8 L1308.5,314.4 L1311.5,313.9 L1314.5,313.4 L1317.5,313.0 L1320.5,312.5 L1323.5,312.1 L1323.5,-20.7 L796.5,-20.7 Z" fill="#b7db68" stroke="#b7db68" stroke-width="0.6"/>
<path d="M796.5,333.9 L799.5,333.5 L802.5,333.1 L805.5,332.6 L808.5,332.2 L811.5,331.8 L814.5,331.3 L817.5,330.9 L820.5,330.4 L823.4,330.0 L826.4,329.6 L829.4,329.1 L832.4,328.7 L835.4,328.3 L838.4,327.8 L841.4,327.4 L844.4,326.9 L847.4,326.5 L850.4,326.1 L853.4,325.6 L856.4,325.2 L859.4,324.7 L862.4,324.3 L865.4,323.9 L868.4,323.4 L871.4,323.0 L874.4,322.5 L877.3,322.1 L880.3,321.6 L883.3,321.2 L886.3,320.8 L889.3,320.3 L892.3,319.9 L895.3,319.4 L898.3,319.0 L901.3,318.5 L904.3,318.1 L907.3,317.6 L910.3,317.2 L913.3,316.7 L916.3,316.3 L919.3,315.9 L922.3,315.4 L925.3,315.0 L928.2,314.5 L931.2,314.1 L934.2,313.6 L937.2,313.2 L940.2,312.7 L943.2,312.3 L946.2,311.8 L949.2,311.4 L952.2,310.9 L955.2,310.5 L958.2,310.0 L961.2,309.6 L964.2,309.1 L967.2,308.7 L970.2,308.2 L973.2,307.8 L976.2,307.3 L979.2,306.8 L982.1,306.4 L985.1,305.9 L988.1,305.5 L991.1,305.0 L994.1,304.6 L997.1,304.1 L1000.1,303.7 L1003.1,303.2 L1006.1,302.8 L1009.1,302.3 L1012.1,301.8 L1015.1,301.4 L1018.1,300.9 L1021.1,300.5 L1024.1,300.0 L1027.1,299.6 L1030.1,299.1 L1033.1,298.6 L1036.0,298.2 L1039.0,297.7 L1042.0,297.3 L1045.0,296.8 L1048.0,296.3 L1051.0,295.9 L1054.0,295.4 L1057.0,295.0 L1060.0,294.5 L1063.0,294.0 L1066.0,293.6 L1069.0,293.1 L1072.0,292.6 L1075.0,292.2 L1078.0,291.7 L1081.0,291.3 L1084.0,290.8 L1086.9,290.3 L1089.9,289.9 L1092.9,289.4 L1095.9,288.9 L1098.9,288.5 L1101.9,288.0 L1104.9,287.5 L1107.9,287.1 L1110.9,286.6 L1113.9,286.1 L1116.9,285.7 L1119.9,285.2 L1122.9,284.7 L1125.9,284.3 L1128.9,283.8 L1131.9,283.3 L1134.9,282.9 L1137.9,282.4 L1140.8,281.9 L1143.8,281.5 L1146.8,281.0 L1149.8,280.5 L1152.8,280.0 L1155.8,279.6 L1158.8,279.1 L1161.8,278.6 L1164.8,278.2 L1167.8,277.7 L1170.8,277.2 L1173.8,276.7 L1176.8,276.3 L1179.8,275.8 L1182.8,275.3 L1185.8,274.9 L1188.8,274.4 L1191.8,273.9 L1194.7,273.4 L1197.7,273.0 L1200.7,272.5 L1203.7,272.0 L1206.7,271.5 L1209.7,271.1 L1212.7,270.6 L1215.7,270.1 L1218.7,269.6 L1221.7,269.1 L1224.7,268.7 L1227.7,268.2 L1230.7,267.7 L1233.7,267.2 L1236.7,266.8 L1239.7,266.3 L1242.7,265.8 L1245.6,265.3 L1248.6,264.8 L1251.6,264.4 L1254.6,263.9 L1257.6,263.4 L1260.6,262.9 L1263.6,262.4 L1266.6,261.9 L1269.6,261.5 L1272.6,261.0 L1275.6,260.5 L1278.6,260.0 L1281.6,259.5 L1284.6,259.0 L1287.6,258.6 L1290.6,258.1 L1293.6,257.6 L1296.6,257.1 L1299.5,256.6 L1302.5,256.1 L1305.5,255.7 L1308.5,255.2 L1311.5,254.7 L1314.5,254.2 L1317.5,253.7 L1320.5,253.2 L1323.5,252.7 L1323.5,-20.7 L796.5,-20.7 Z" fill="#9fcf68" stroke="#9fcf68" stroke-width="0.6"/>
<path d="M796.5,282.8 L799.5,282.4 L802.5,281.9 L805.5,281.4 L808.5,281.0 L811.5,280.5 L814.5,280.1 L817.5,279.6 L820.5,279.2 L823.4,278.7 L826.4,278.2 L829.4,277.8 L832.4,277.3 L835.4,276.9 L838.4,276.4 L841.4,276.0 L844.4,275.5 L847.4,275.0 L850.4,274.6 L853.4,274.1 L856.4,273.7 L859.4,273.2 L862.4,272.7 L865.4,272.3 L868.4,271.8 L871.4,271.4 L874.4,270.9 L877.3,270.4 L880.3,270.0 L883.3,269.5 L886.3,269.1 L889.3,268.6 L892.3,268.1 L895.3,267.7 L898.3,267.2 L901.3,266.8 L904.3,266.3 L907.3,265.8 L910.3,265.4 L913.3,264.9 L916.3,264.4 L919.3,264.0 L922.3,263.5 L925.3,263.1 L928.2,262.6 L931.2,262.1 L934.2,261.7 L937.2,261.2 L940.2,260.7 L943.2,260.3 L946.2,259.8 L949.2,259.3 L952.2,258.9 L955.2,258.4 L958.2,258.0 L961.2,257.5 L964.2,257.0 L967.2,256.6 L970.2,256.1 L973.2,255.6 L976.2,255.2 L979.2,254.7 L982.1,254.2 L985.1,253.8 L988.1,253.3 L991.1,252.8 L994.1,252.4 L997.1,251.9 L1000.1,251.4 L1003.1,251.0 L1006.1,250.5 L1009.1,250.0 L1012.1,249.6 L1015.1,249.1 L1018.1,248.6 L1021.1,248.2 L1024.1,247.7 L1027.1,247.2 L1030.1,246.8 L1033.1,246.3 L1036.0,245.8 L1039.0,245.4 L1042.0,244.9 L1045.0,244.4 L1048.0,243.9 L1051.0,243.5 L1054.0,243.0 L1057.0,242.5 L1060.0,242.1 L1063.0,241.6 L1066.0,241.1 L1069.0,240.7 L1072.0,240.2 L1075.0,239.7 L1078.0,239.2 L1081.0,238.8 L1084.0,238.3 L1086.9,237.8 L1089.9,237.4 L1092.9,236.9 L1095.9,236.4 L1098.9,235.9 L1101.9,235.5 L1104.9,235.0 L1107.9,234.5 L1110.9,234.1 L1113.9,233.6 L1116.9,233.1 L1119.9,232.6 L1122.9,232.2 L1125.9,231.7 L1128.9,231.2 L1131.9,230.7 L1134.9,230.3 L1137.9,229.8 L1140.8,229.3 L1143.8,228.8 L1146.8,228.4 L1149.8,227.9 L1152.8,227.4 L1155.8,226.9 L1158.8,226.5 L1161.8,226.0 L1164.8,225.5 L1167.8,225.0 L1170.8,224.6 L1173.8,224.1 L1176.8,223.6 L1179.8,223.1 L1182.8,222.7 L1185.8,222.2 L1188.8,221.7 L1191.8,221.2 L1194.7,220.8 L1197.7,220.3 L1200.7,219.8 L1203.7,219.3 L1206.7,218.9 L1209.7,218.4 L1212.7,217.9 L1215.7,217.4 L1218.7,216.9 L1221.7,216.5 L1224.7,216.0 L1227.7,215.5 L1230.7,215.0 L1233.7,214.6 L1236.7,214.1 L1239.7,213.6 L1242.7,213.1 L1245.6,212.6 L1248.6,212.2 L1251.6,211.7 L1254.6,211.2 L1257.6,210.7 L1260.6,210.2 L1263.6,209.8 L1266.6,209.3 L1269.6,208.8 L1272.6,208.3 L1275.6,207.8 L1278.6,207.3 L1281.6,206.9 L1284.6,206.4 L1287.6,205.9 L1290.6,205.4 L1293.6,204.9 L1296.6,204.5 L1299.5,204.0 L1302.5,203.5 L1305.5,203.0 L1308.5,202.5 L1311.5,202.0 L1314.5,201.6 L1317.5,201.1 L1320.5,200.6 L1323.5,200.1 L1323.5,-20.7 L796.5,-20.7 Z" fill="#86c368" stroke="#86c368" stroke-width="0.6"/>
<path d="M796.5,235.1 L799.5,234.7 L802.5,234.2 L805.5,233.7 L808.5,233.3 L811.5,232.8 L814.5,232.3 L817.5,231.9 L820.5,231.4 L823.4,231.0 L826.4,230.5 L829.4,230.0 L832.4,229.6 L835.4,229.1 L838.4,228.6 L841.4,228.2 L844.4,227.7 L847.4,227.3 L850.4,226.8 L853.4,226.3 L856.4,225.9 L859.4,225.4 L862.4,224.9 L865.4,224.5 L868.4,224.0 L871.4,223.5 L874.4,223.1 L877.3,222.6 L880.3,222.2 L883.3,221.7 L886.3,221.2 L889.3,220.8 L892.3,220.3 L895.3,219.8 L898.3,219.4 L901.3,218.9 L904.3,218.4 L907.3,218.0 L910.3,217.5 L913.3,217.1 L916.3,216.6 L919.3,216.1 L922.3,215.7 L925.3,215.2 L928.2,214.7 L931.2,214.3 L934.2,213.8 L937.2,213.3 L940.2,212.9 L943.2,212.4 L946.2,211.9 L949.2,211.5 L952.2,211.0 L955.2,210.5 L958.2,210.1 L961.2,209.6 L964.2,209.2 L967.2,208.7 L970.2,208.2 L973.2,207.8 L976.2,207.3 L979.2,206.8 L982.1,206.4 L985.1,205.9 L988.1,205.4 L991.1,205.0 L994.1,204.5 L997.1,204.0 L1000.1,203.6 L1003.1,203.1 L1006.1,202.6 L1009.1,202.2 L1012.1,201.7 L1015.1,201.2 L1018.1,200.8 L1021.1,200.3 L1024.1,199.8 L1027.1,199.4 L1030.1,198.9 L1033.1,198.4 L1036.0,198.0 L1039.0,197.5 L1042.0,197.0 L1045.0,196.6 L1048.0,196.1 L1051.0,195.6 L1054.0,195.2 L1057.0,194.7 L1060.0,194.2 L1063.0,193.8 L1066.0,193.3 L1069.0,192.8 L1072.0,192.4 L1075.0,191.9 L1078.0,191.4 L1081.0,191.0 L1084.0,190.5 L1086.9,190.0 L1089.9,189.6 L1092.9,189.1 L1095.9,188.6 L1098.9,188.1 L1101.9,187.7 L1104.9,187.2 L1107.9,186.7 L1110.9,186.3 L1113.9,185.8 L1116.9,185.3 L1119.9,184.9 L1122.9,184.4 L1125.9,183.9 L1128.9,183.5 L1131.9,183.0 L1134.9,182.5 L1137.9,182.1 L1140.8,181.6 L1143.8,181.1 L1146.8,180.7 L1149.8,180.2 L1152.8,179.7 L1155.8,179.2 L1158.8,178.8 L1161.8,178.3 L1164.8,177.8 L1167.8,177.4 L1170.8,176.9 L1173.8,176.4 L1176.8,176.0 L1179.8,175.5 L1182.8,175.0 L1185.8,174.5 L1188.8,174.1 L1191.8,173.6 L1194.7,173.1 L1197.7,172.7 L1200.7,172.2 L1203.7,171.7 L1206.7,171.3 L1209.7,170.8 L1212.7,170.3 L1215.7,169.8 L1218.7,169.4 L1221.7,168.9 L1224.7,168.4 L1227.7,168.0 L1230.7,167.5 L1233.7,167.0 L1236.7,166.5 L1239.7,166.1 L1242.7,165.6 L1245.6,165.1 L1248.6,164.7 L1251.6,164.2 L1254.6,163.7 L1257.6,163.2 L1260.6,162.8 L1263.6,162.3 L1266.6,161.8 L1269.6,161.4 L1272.6,160.9 L1275.6,160.4 L1278.6,159.9 L1281.6,159.5 L1284.6,159.0 L1287.6,158.5 L1290.6,158.1 L1293.6,157.6 L1296.6,157.1 L1299.5,156.6 L1302.5,156.2 L1305.5,155.7 L1308.5,155.2 L1311.5,154.8 L1314.5,154.3 L1317.5,153.8 L1320.5,153.3 L1323.5,152.9 L1323.5,-20.7 L796.5,-20.7 Z" fill="#6eb768" stroke="#6eb768" stroke-width="0.6"/>
<path d="M796.5,191.9 L799.5,191.5 L802.5,191.0 L805.5,190.6 L808.5,190.1 L811.5,189.6 L814.5,189.2 L817.5,188.7 L820.5,188.3 L823.4,187.8 L826.4,187.4 L829.4,186.9 L832.4,186.5 L835.4,186.0 L838.4,185.6 L841.4,185.1 L844.4,184.7 L847.4,184.2 L850.4,183.8 L853.4,183.3 L856.4,182.9 L859.4,182.4 L862.4,182.0 L865.4,181.5 L868.4,181.0 L871.4,180.6 L874.4,180.1 L877.3,179.7 L880.3,179.2 L883.3,178.8 L886.3,178.3 L889.3,177.9 L892.3,177.4 L895.3,177.0 L898.3,176.5 L901.3,176.0 L904.3,175.6 L907.3,175.1 L910.3,174.7 L913.3,174.2 L916.3,173.8 L919.3,173.3 L922.3,172.9 L925.3,172.4 L928.2,171.9 L931.2,171.5 L934.2,171.0 L937.2,170.6 L940.2,170.1 L943.2,169.7 L946.2,169.2 L949.2,168.8 L952.2,168.3 L955.2,167.8 L958.2,167.4 L961.2,166.9 L964.2,166.5 L967.2,166.0 L970.2,165.5 L973.2,165.1 L976.2,164.6 L979.2,164.2 L982.1,163.7 L985.1,163.3 L988.1,162.8 L991.1,162.3 L994.1,161.9 L997.1,161.4 L1000.1,161.0 L1003.1,160.5 L1006.1,160.0 L1009.1,159.6 L1012.1,159.1 L1015.1,158.7 L1018.1,158.2 L1021.1,157.8 L1024.1,157.3 L1027.1,156.8 L1030.1,156.4 L1033.1,155.9 L1036.0,155.5 L1039.0,155.0 L1042.0,154.5 L1045.0,154.1 L1048.0,153.6 L1051.0,153.1 L1054.0,152.7 L1057.0,152.2 L1060.0,151.8 L1063.0,151.3 L1066.0,150.8 L1069.0,150.4 L1072.0,149.9 L1075.0,149.5 L1078.0,149.0 L1081.0,148.5 L1084.0,148.1 L1086.9,147.6 L1089.9,147.1 L1092.9,146.7 L1095.9,146.2 L1098.9,145.8 L1101.9,145.3 L1104.9,144.8 L1107.9,144.4 L1110.9,143.9 L1113.9,143.4 L1116.9,143.0 L1119.9,142.5 L1122.9,142.1 L1125.9,141.6 L1128.9,141.1 L1131.9,140.7 L1134.9,140.2 L1137.9,139.7 L1140.8,139.3 L1143.8,138.8 L1146.8,138.3 L1149.8,137.9 L1152.8,137.4 L1155.8,136.9 L1158.8,136.5 L1161.8,136.0 L1164.8,135.6 L1167.8,135.1 L1170.8,134.6 L1173.8,134.2 L1176.8,133.7 L1179.8,133.2 L1182.8,132.8 L1185.8,132.3 L1188.8,131.8 L1191.8,131.4 L1194.7,130.9 L1197.7,130.4 L1200.7,130.0 L1203.7,129.5 L1206.7,129.0 L1209.7,128.6 L1212.7,128.1 L1215.7,127.6 L1218.7,127.2 L1221.7,126.7 L1224.7,126.2 L1227.7,125.8 L1230.7,125.3 L1233.7,124.8 L1236.7,124.4 L1239.7,123.9 L1242.7,123.4 L1245.6,123.0 L1248.6,122.5 L1251.6,122.0 L1254.6,121.5 L1257.6,121.1 L1260.6,120.6 L1263.6,120.1 L1266.6,119.7 L1269.6,119.2 L1272.6,118.7 L1275.6,118.3 L1278.6,117.8 L1281.6,117.3 L1284.6,116.9 L1287.6,116.4 L1290.6,115.9 L1293.6,115.4 L1296.6,115.0 L1299.5,114.5 L1302.5,114.0 L1305.5,113.6 L1308.5,113.1 L1311.5,112.6 L1314.5,112.2 L1317.5,111.7 L1320.5,111.2 L1323.5,110.7 L1323.5,-20.7 L796.5,-20.7 Z" fill="#56ab68" stroke="#56ab68" stroke-width="0.6"/>
<path d="M796.5,154.8 L799.5,154.3 L802.5,153.9 L805.5,153.4 L808.5,152.9 L811.5,152.4 L814.5,151.9 L817.5,151.4 L820.5,151.0 L823.4,150.5 L826.4,150.0 L829.4,149.5 L832.4,149.0 L835.4,148.6 L838.4,148.1 L841.4,147.6 L844.4,147.1 L847.4,146.6 L850.4,146.1 L853.4,145.7 L856.4,145.2 L859.4,144.7 L862.4,144.2 L865.4,143.8 L868.4,143.3 L871.4,142.8 L874.4,142.3 L877.3,141.8 L880.3,141.4 L883.3,140.9 L886.3,140.4 L889.3,139.9 L892.3,139.5 L895.3,139.0 L898.3,138.5 L901.3,138.0 L904.3,137.6 L907.3,137.1 L910.3,136.6 L913.3,136.1 L916.3,135.7 L919.3,135.2 L922.3,134.7 L925.3,134.2 L928.2,133.8 L931.2,133.3 L934.2,132.8 L937.2,132.4 L940.2,131.9 L943.2,131.4 L946.2,130.9 L949.2,130.5 L952.2,130.0 L955.2,129.5 L958.2,129.1 L961.2,128.6 L964.2,128.1 L967.2,127.6 L970.2,127.2 L973.2,126.7 L976.2,126.2 L979.2,125.8 L982.1,125.3 L985.1,124.8 L988.1,124.4 L991.1,123.9 L994.1,123.4 L997.1,123.0 L1000.1,122.5 L1003.1,122.0 L1006.1,121.6 L1009.1,121.1 L1012.1,120.6 L1015.1,120.2 L1018.1,119.7 L1021.1,119.2 L1024.1,118.8 L1027.1,118.3 L1030.1,117.8 L1033.1,117.4 L1036.0,116.9 L1039.0,116.4 L1042.0,116.0 L1045.0,115.5 L1048.0,115.1 L1051.0,114.6 L1054.0,114.1 L1057.0,113.7 L1060.0,113.2 L1063.0,112.7 L1066.0,112.3 L1069.0,111.8 L1072.0,111.4 L1075.0,110.9 L1078.0,110.4 L1081.0,110.0 L1084.0,109.5 L1086.9,109.1 L1089.9,108.6 L1092.9,108.1 L1095.9,107.7 L1098.9,107.2 L1101.9,106.8 L1104.9,106.3 L1107.9,105.9 L1110.9,105.4 L1113.9,104.9 L1116.9,104.5 L1119.9,104.0 L1122.9,103.6 L1125.9,103.1 L1128.9,102.7 L1131.9,102.2 L1134.9,101.8 L1137.9,101.3 L1140.8,100.8 L1143.8,100.4 L1146.8,99.9 L1149.8,99.5 L1152.8,99.0 L1155.8,98.6 L1158.8,98.1 L1161.8,97.7 L1164.8,97.2 L1167.8,96.8 L1170.8,96.3 L1173.8,95.9 L1176.8,95.4 L1179.8,95.0 L1182.8,94.5 L1185.8,94.1 L1188.8,93.6 L1191.8,93.2 L1194.7,92.7 L1197.7,92.3 L1200.7,91.8 L1203.7,91.4 L1206.7,90.9 L1209.7,90.5 L1212.7,90.0 L1215.7,89.6 L1218.7,89.1 L1221.7,88.7 L1224.7,88.2 L1227.7,87.8 L1230.7,87.3 L1233.7,86.9 L1236.7,86.4 L1239.7,86.0 L1242.7,85.5 L1245.6,85.1 L1248.6,84.6 L1251.6,84.2 L1254.6,83.8 L1257.6,83.3 L1260.6,82.9 L1263.6,82.4 L1266.6,82.0 L1269.6,81.5 L1272.6,81.1 L1275.6,80.6 L1278.6,80.2 L1281.6,79.8 L1284.6,79.3 L1287.6,78.9 L1290.6,78.4 L1293.6,78.0 L1296.6,77.6 L1299.5,77.1 L1302.5,76.7 L1305.5,76.2 L1308.5,75.8 L1311.5,75.3 L1314.5,74.9 L1317.5,74.5 L1320.5,74.0 L1323.5,73.6 L1323.5,-20.7 L796.5,-20.7 Z" fill="#3e9f68" stroke="#3e9f68" stroke-width="0.6"/>
<path d="M796.5,118.7 L799.5,118.2 L802.5,117.7 L805.5,117.3 L808.5,116.8 L811.5,116.3 L814.5,115.9 L817.5,115.4 L820.5,114.9 L823.4,114.4 L826.4,114.0 L829.4,113.5 L832.4,113.0 L835.4,112.6 L838.4,112.1 L841.4,111.6 L844.4,111.2 L847.4,110.7 L850.4,110.2 L853.4,109.8 L856.4,109.3 L859.4,108.8 L862.4,108.4 L865.4,107.9 L868.4,107.4 L871.4,107.0 L874.4,106.5 L877.3,106.0 L880.3,105.6 L883.3,105.1 L886.3,104.6 L889.3,104.2 L892.3,103.7 L895.3,103.2 L898.3,102.8 L901.3,102.3 L904.3,101.9 L907.3,101.4 L910.3,100.9 L913.3,100.5 L916.3,100.0 L919.3,99.5 L922.3,99.1 L925.3,98.6 L928.2,98.2 L931.2,97.7 L934.2,97.2 L937.2,96.8 L940.2,96.3 L943.2,95.9 L946.2,95.4 L949.2,94.9 L952.2,94.5 L955.2,94.0 L958.2,93.6 L961.2,93.1 L964.2,92.7 L967.2,92.2 L970.2,91.7 L973.2,91.3 L976.2,90.8 L979.2,90.4 L982.1,89.9 L985.1,89.5 L988.1,89.0 L991.1,88.6 L994.1,88.1 L997.1,87.6 L1000.1,87.2 L1003.1,86.7 L1006.1,86.3 L1009.1,85.8 L1012.1,85.4 L1015.1,84.9 L1018.1,84.5 L1021.1,84.0 L1024.1,83.6 L1027.1,83.1 L1030.1,82.7 L1033.1,82.2 L1036.0,81.8 L1039.0,81.3 L1042.0,80.9 L1045.0,80.4 L1048.0,80.0 L1051.0,79.5 L1054.0,79.1 L1057.0,78.6 L1060.0,78.2 L1063.0,77.7 L1066.0,77.3 L1069.0,76.8 L1072.0,76.4 L1075.0,75.9 L1078.0,75.5 L1081.0,75.0 L1084.0,74.6 L1086.9,74.2 L1089.9,73.7 L1092.9,73.3 L1095.9,72.8 L1098.9,72.4 L1101.9,71.9 L1104.9,71.5 L1107.9,71.0 L1110.9,70.6 L1113.9,70.2 L1116.9,69.7 L1119.9,69.3 L1122.9,68.8 L1125.9,68.4 L1128.9,67.9 L1131.9,67.5 L1134.9,67.1 L1137.9,66.6 L1140.8,66.2 L1143.8,65.7 L1146.8,65.3 L1149.8,64.9 L1152.8,64.4 L1155.8,64.0 L1158.8,63.5 L1161.8,63.1 L1164.8,62.7 L1167.8,62.2 L1170.8,61.8 L1173.8,61.4 L1176.8,60.9 L1179.8,60.5 L1182.8,60.0 L1185.8,59.6 L1188.8,59.2 L1191.8,58.7 L1194.7,58.3 L1197.7,57.9 L1200.7,57.4 L1203.7,57.0 L1206.7,56.6 L1209.7,56.1 L1212.7,55.7 L1215.7,55.3 L1218.7,54.8 L1221.7,54.4 L1224.7,54.0 L1227.7,53.5 L1230.7,53.1 L1233.7,52.7 L1236.7,52.2 L1239.7,51.8 L1242.7,51.4 L1245.6,50.9 L1248.6,50.5 L1251.6,50.1 L1254.6,49.6 L1257.6,49.2 L1260.6,48.8 L1263.6,48.4 L1266.6,47.9 L1269.6,47.5 L1272.6,47.1 L1275.6,46.6 L1278.6,46.2 L1281.6,45.8 L1284.6,45.4 L1287.6,44.9 L1290.6,44.5 L1293.6,44.1 L1296.6,43.7 L1299.5,43.2 L1302.5,42.8 L1305.5,42.4 L1308.5,42.0 L1311.5,41.5 L1314.5,41.1 L1317.5,40.7 L1320.5,40.3 L1323.5,39.8 L1323.5,-20.7 L796.5,-20.7 Z" fill="#269268" stroke="#269268" stroke-width="0.6"/>
<path d="M796.5,87.4 L799.5,86.9 L802.5,86.4 L805.5,86.0 L808.5,85.5 L811.5,85.0 L814.5,84.6 L817.5,84.1 L820.5,83.6 L823.4,83.2 L826.4,82.7 L829.4,82.2 L832.4,81.7 L835.4,81.3 L838.4,80.8 L841.4,80.3 L844.4,79.9 L847.4,79.4 L850.4,78.9 L853.4,78.5 L856.4,78.0 L859.4,77.5 L862.4,77.0 L865.4,76.6 L868.4,76.1 L871.4,75.6 L874.4,75.2 L877.3,74.7 L880.3,74.2 L883.3,73.7 L886.3,73.3 L889.3,72.8 L892.3,72.3 L895.3,71.9 L898.3,71.4 L901.3,70.9 L904.3,70.5 L907.3,70.0 L910.3,69.5 L913.3,69.0 L916.3,68.6 L919.3,68.1 L922.3,67.6 L925.3,67.2 L928.2,66.7 L931.2,66.2 L934.2,65.8 L937.2,65.3 L940.2,64.8 L943.2,64.3 L946.2,63.9 L949.2,63.4 L952.2,62.9 L955.2,62.5 L958.2,62.0 L961.2,61.5 L964.2,61.1 L967.2,60.6 L970.2,60.1 L973.2,59.6 L976.2,59.2 L979.2,58.7 L982.1,58.2 L985.1,57.8 L988.1,57.3 L991.1,56.8 L994.1,56.3 L997.1,55.9 L1000.1,55.4 L1003.1,54.9 L1006.1,54.5 L1009.1,54.0 L1012.1,53.5 L1015.1,53.1 L1018.1,52.6 L1021.1,52.1 L1024.1,51.6 L1027.1,51.2 L1030.1,50.7 L1033.1,50.2 L1036.0,49.8 L1039.0,49.3 L1042.0,48.8 L1045.0,48.4 L1048.0,47.9 L1051.0,47.4 L1054.0,46.9 L1057.0,46.5 L1060.0,46.0 L1063.0,45.5 L1066.0,45.1 L1069.0,44.6 L1072.0,44.1 L1075.0,43.6 L1078.0,43.2 L1081.0,42.7 L1084.0,42.2 L1086.9,41.8 L1089.9,41.3 L1092.9,40.8 L1095.9,40.4 L1098.9,39.9 L1101.9,39.4 L1104.9,38.9 L1107.9,38.5 L1110.9,38.0 L1113.9,37.5 L1116.9,37.1 L1119.9,36.6 L1122.9,36.1 L1125.9,35.7 L1128.9,35.2 L1131.9,34.7 L1134.9,34.2 L1137.9,33.8 L1140.8,33.3 L1143.8,32.8 L1146.8,32.4 L1149.8,31.9 L1152.8,31.4 L1155.8,31.0 L1158.8,30.5 L1161.8,30.0 L1164.8,29.5 L1167.8,29.1 L1170.8,28.6 L1173.8,28.1 L1176.8,27.7 L1179.8,27.2 L1182.8,26.7 L1185.8,26.2 L1188.8,25.8 L1191.8,25.3 L1194.7,24.8 L1197.7,24.4 L1200.7,23.9 L1203.7,23.4 L1206.7,23.0 L1209.7,22.5 L1212.7,22.0 L1215.7,21.5 L1218.7,21.1 L1221.7,20.6 L1224.7,20.1 L1227.7,19.7 L1230.7,19.2 L1233.7,18.7 L1236.7,18.3 L1239.7,17.8 L1242.7,17.3 L1245.6,16.8 L1248.6,16.4 L1251.6,15.9 L1254.6,15.4 L1257.6,15.0 L1260.6,14.5 L1263.6,14.0 L1266.6,13.5 L1269.6,13.1 L1272.6,12.6 L1275.6,12.1 L1278.6,11.7 L1281.6,11.2 L1284.6,10.7 L1287.6,10.3 L1290.6,9.8 L1293.6,9.3 L1296.6,8.8 L1299.5,8.4 L1302.5,7.9 L1305.5,7.4 L1308.5,7.0 L1311.5,6.5 L1314.5,6.0 L1317.5,5.6 L1320.5,5.1 L1323.5,4.6 L1323.5,-20.7 L796.5,-20.7 Z" fill="#0e8668" stroke="#0e8668" stroke-width="0.6"/>
<path d="M796.5,57.4 L799.5,56.9 L802.5,56.4 L805.5,55.9 L808.5,55.5 L811.5,55.0 L814.5,54.5 L817.5,54.0 L820.5,53.6 L823.4,53.1 L826.4,52.6 L829.4,52.1 L832.4,51.7 L835.4,51.2 L838.4,50.7 L841.4,50.2 L844.4,49.8 L847.4,49.3 L850.4,48.8 L853.4,48.4 L856.4,47.9 L859.4,47.4 L862.4,46.9 L865.4,46.5 L868.4,46.0 L871.4,45.5 L874.4,45.0 L877.3,44.6 L880.3,44.1 L883.3,43.6 L886.3,43.1 L889.3,42.7 L892.3,42.2 L895.3,41.7 L898.3,41.2 L901.3,40.8 L904.3,40.3 L907.3,39.8 L910.3,39.3 L913.3,38.9 L916.3,38.4 L919.3,37.9 L922.3,37.4 L925.3,37.0 L928.2,36.5 L931.2,36.0 L934.2,35.5 L937.2,35.1 L940.2,34.6 L943.2,34.1 L946.2,33.6 L949.2,33.2 L952.2,32.7 L955.2,32.2 L958.2,31.7 L961.2,31.3 L964.2,30.8 L967.2,30.3 L970.2,29.8 L973.2,29.4 L976.2,28.9 L979.2,28.4 L982.1,27.9 L985.1,27.5 L988.1,27.0 L991.1,26.5 L994.1,26.0 L997.1,25.6 L1000.1,25.1 L1003.1,24.6 L1006.1,24.1 L1009.1,23.7 L1012.1,23.2 L1015.1,22.7 L1018.1,22.2 L1021.1,21.8 L1024.1,21.3 L1027.1,20.8 L1030.1,20.4 L1033.1,19.9 L1036.0,19.4 L1039.0,18.9 L1042.0,18.5 L1045.0,18.0 L1048.0,17.5 L1051.0,17.0 L1054.0,16.6 L1057.0,16.1 L1060.0,15.6 L1063.0,15.1 L1066.0,14.7 L1069.0,14.2 L1072.0,13.7 L1075.0,13.2 L1078.0,12.8 L1081.0,12.3 L1084.0,11.8 L1086.9,11.3 L1089.9,10.9 L1092.9,10.4 L1095.9,9.9 L1098.9,9.4 L1101.9,9.0 L1104.9,8.5 L1107.9,8.0 L1110.9,7.5 L1113.9,7.1 L1116.9,6.6 L1119.9,6.1 L1122.9,5.6 L1125.9,5.2 L1128.9,4.7 L1131.9,4.2 L1134.9,3.7 L1137.9,3.3 L1140.8,2.8 L1143.8,2.3 L1146.8,1.8 L1149.8,1.4 L1152.8,0.9 L1155.8,0.4 L1158.8,-0.1 L1161.8,-0.5 L1164.8,-1.0 L1167.8,-1.5 L1170.8,-2.0 L1173.8,-2.4 L1176.8,-2.9 L1179.8,-3.4 L1182.8,-3.9 L1185.8,-4.3 L1188.8,-4.8 L1191.8,-5.3 L1194.7,-5.8 L1197.7,-6.2 L1200.7,-6.7 L1203.7,-7.2 L1206.7,-7.6 L1209.7,-8.1 L1212.7,-8.6 L1215.7,-9.1 L1218.7,-9.5 L1221.7,-10.0 L1224.7,-10.5 L1227.7,-11.0 L1230.7,-11.4 L1233.7,-11.9 L1236.7,-12.4 L1239.7,-12.9 L1242.7,-13.3 L1245.6,-13.8 L1248.6,-14.3 L1251.6,-14.8 L1254.6,-15.2 L1257.6,-15.7 L1260.6,-16.2 L1263.6,-16.7 L1266.6,-17.1 L1269.6,-17.6 L1272.6,-18.1 L1275.6,-18.6 L1278.6,-19.0 L1281.6,-19.5 L1284.6,-20.0 L1287.6,-20.5 L1290.6,-20.9 L1293.6,-21.4 L1296.6,-21.9 L1299.5,-22.4 L1302.5,-22.8 L1305.5,-23.3 L1308.5,-23.8 L1311.5,-24.3 L1314.5,-24.7 L1317.5,-25.2 L1320.5,-25.7 L1323.5,-26.2 L1323.5,-20.7 L796.5,-20.7 Z" fill="#008068" stroke="#008068" stroke-width="0.6"/>
<path d="M796.5,533.6 L799.5,533.2 L802.5,532.7 L805.5,532.2 L808.5,531.7 L811.5,531.2 L814.5,530.7 L817.5,530.3 L820.5,529.8 L823.4,529.3 L826.4,528.8 L829.4,528.3 L832.4,527.9 L835.4,527.4 L838.4,526.9 L841.4,526.4 L844.4,525.9 L847.4,525.5 L850.4,525.0 L853.4,524.5 L856.4,524.0 L859.4,523.5 L862.4,523.1 L865.4,522.6 L868.4,522.1 L871.4,521.6 L874.4,521.1 L877.3,520.7 L880.3,520.2 L883.3,519.7 L886.3,519.2 L889.3,518.7 L892.3,518.2 L895.3,517.8 L898.3,517.3 L901.3,516.8 L904.3,516.3 L907.3,515.8 L910.3,515.4 L913.3,514.9 L916.3,514.4 L919.3,513.9 L922.3,513.4 L925.3,513.0 L928.2,512.5 L931.2,512.0 L934.2,511.5 L937.2,511.0 L940.2,510.6 L943.2,510.1 L946.2,509.6 L949.2,509.1 L952.2,508.6 L955.2,508.2 L958.2,507.7 L961.2,507.2 L964.2,506.7 L967.2,506.2 L970.2,505.7 L973.2,505.3 L976.2,504.8 L979.2,504.3 L982.1,503.8 L985.1,503.3 L988.1,502.9 L991.1,502.4 L994.1,501.9 L997.1,501.4 L1000.1,500.9 L1003.1,500.5 L1006.1,500.0 L1009.1,499.5 L1012.1,499.0 L1015.1,498.5 L1018.1,498.1 L1021.1,497.6 L1024.1,497.1 L1027.1,496.6 L1030.1,496.1 L1033.1,495.7 L1036.0,495.2 L1039.0,494.7 L1042.0,494.2 L1045.0,493.7 L1048.0,493.2 L1051.0,492.8 L1054.0,492.3 L1057.0,491.8 L1060.0,491.3 L1063.0,490.8 L1066.0,490.4 L1069.0,489.9 L1072.0,489.4 L1075.0,488.9 L1078.0,488.4 L1081.0,488.0 L1084.0,487.5 L1086.9,487.0 L1089.9,486.5 L1092.9,486.0 L1095.9,485.6 L1098.9,485.1 L1101.9,484.6 L1104.9,484.1 L1107.9,483.6 L1110.9,483.2 L1113.9,482.7 L1116.9,482.2 L1119.9,481.7 L1122.9,481.2 L1125.9,480.7 L1128.9,480.3 L1131.9,479.8 L1134.9,479.3 L1137.9,478.8 L1140.8,478.3 L1143.8,477.9 L1146.8,477.4 L1149.8,476.9 L1152.8,476.4 L1155.8,475.9 L1158.8,475.5 L1161.8,475.0 L1164.8,474.5 L1167.8,474.0 L1170.8,473.5 L1173.8,473.1 L1176.8,472.6 L1179.8,472.1 L1182.8,471.6 L1185.8,471.1 L1188.8,470.7 L1191.8,470.2 L1194.7,469.7 L1197.7,469.2 L1200.7,468.7 L1203.7,468.2 L1206.7,467.8 L1209.7,467.3 L1212.7,466.8 L1215.7,466.3 L1218.7,465.8 L1221.7,465.4 L1224.7,464.9 L1227.7,464.4 L1230.7,463.9 L1233.7,463.4 L1236.7,463.0 L1239.7,462.5 L1242.7,462.0 L1245.6,461.5 L1248.6,461.0 L1251.6,460.6 L1254.6,460.1 L1257.6,459.6 L1260.6,459.1 L1263.6,458.6 L1266.6,458.2 L1269.6,457.7 L1272.6,457.2 L1275.6,456.7 L1278.6,456.2 L1281.6,455.7 L1284.6,455.3 L1287.6,454.8 L1290.6,454.3 L1293.6,453.8 L1296.6,453.3 L1299.5,452.9 L1302.5,452.4 L1305.5,451.9 L1308.5,451.4 L1311.5,450.9 L1314.5,450.5 L1317.5,450.0 L1320.5,449.5 L1323.5,449.0" fill="none" stroke="#000" stroke-width="0.9"/>
<path d="M796.5,455.2 L799.5,454.7 L802.5,454.3 L805.5,453.8 L808.5,453.4 L811.5,453.0 L814.5,452.5 L817.5,452.1 L820.5,451.6 L823.4,451.2 L826.4,450.7 L829.4,450.3 L832.4,449.9 L835.4,449.4 L838.4,449.0 L841.4,448.5 L844.4,448.1 L847.4,447.6 M925.3,436.1 L928.2,435.6 L931.2,435.2 L934.2,434.8 L937.2,434.3 L940.2,433.9 L943.2,433.4 L946.2,433.0 L949.2,432.5 L952.2,432.1 L955.2,431.7 L958.2,431.2 L961.2,430.8 L964.2,430.3 L967.2,429.9 L970.2,429.4 L973.2,429.0 L976.2,428.5 L979.2,428.1 L982.1,427.7 L985.1,427.2 L988.1,426.8 L991.1,426.3 L994.1,425.9 L997.1,425.4 L1000.1,425.0 L1003.1,424.5 L1006.1,424.1 L1009.1,423.6 L1012.1,423.2 L1015.1,422.8 L1018.1,422.3 L1021.1,421.9 L1024.1,421.4 L1027.1,421.0 L1030.1,420.5 L1033.1,420.1 L1036.0,419.6 L1039.0,419.2 M1113.9,408.1 L1116.9,407.6 L1119.9,407.2 L1122.9,406.7 L1125.9,406.3 L1128.9,405.8 L1131.9,405.4 L1134.9,404.9 L1137.9,404.5 L1140.8,404.1 L1143.8,403.6 L1146.8,403.2 L1149.8,402.7 L1152.8,402.3 L1155.8,401.8 L1158.8,401.4 L1161.8,400.9 L1164.8,400.5 L1167.8,400.0 L1170.8,399.6 L1173.8,399.1 L1176.8,398.7 L1179.8,398.3 L1182.8,397.8 L1185.8,397.4 L1188.8,396.9 L1191.8,396.5 L1194.7,396.0 L1197.7,395.6 L1200.7,395.1 L1203.7,394.7 L1206.7,394.2 L1209.7,393.8 L1212.7,393.3 L1215.7,392.9 L1218.7,392.5 L1221.7,392.0 L1224.7,391.6 L1227.7,391.1 L1230.7,390.7 L1233.7,390.2 L1236.7,389.8 L1239.7,389.3 L1242.7,388.9 L1245.6,388.4 L1248.6,388.0 L1251.6,387.5 L1254.6,387.1 L1257.6,386.7 L1260.6,386.2 L1263.6,385.8 L1266.6,385.3 L1269.6,384.9 L1272.6,384.4 L1275.6,384.0 L1278.6,383.5 L1281.6,383.1 L1284.6,382.6 L1287.6,382.2 L1290.6,381.7 L1293.6,381.3 L1296.6,380.8 L1299.5,380.4 L1302.5,379.9 L1305.5,379.5 L1308.5,379.1 L1311.5,378.6 L1314.5,378.2 L1317.5,377.7 L1320.5,377.3 L1323.5,376.8" fill="none" stroke="#000" stroke-width="0.9"/>
<path d="M796.5,391.3 L799.5,390.8 L802.5,390.4 L805.5,390.0 L808.5,389.5 L811.5,389.1 L814.5,388.6 L817.5,388.2 L820.5,387.8 L823.4,387.3 L826.4,386.9 L829.4,386.5 L832.4,386.0 L835.4,385.6 L838.4,385.1 L841.4,384.7 L844.4,384.3 L847.4,383.8 M916.3,373.7 L919.3,373.2 L922.3,372.8 L925.3,372.3 L928.2,371.9 L931.2,371.5 L934.2,371.0 L937.2,370.6 L940.2,370.1 L943.2,369.7 L946.2,369.2 L949.2,368.8 L952.2,368.3 L955.2,367.9 L958.2,367.5 L961.2,367.0 L964.2,366.6 L967.2,366.1 L970.2,365.7 L973.2,365.2 L976.2,364.8 L979.2,364.3 L982.1,363.9 L985.1,363.4 L988.1,363.0 L991.1,362.5 L994.1,362.1 L997.1,361.7 L1000.1,361.2 L1003.1,360.8 L1006.1,360.3 L1009.1,359.9 L1012.1,359.4 L1015.1,359.0 L1018.1,358.5 L1021.1,358.1 L1024.1,357.6 L1027.1,357.2 L1030.1,356.7 L1033.1,356.3 L1036.0,355.8 L1039.0,355.4 M1104.9,345.5 L1107.9,345.0 L1110.9,344.6 L1113.9,344.1 L1116.9,343.7 L1119.9,343.2 L1122.9,342.8 L1125.9,342.3 L1128.9,341.8 L1131.9,341.4 L1134.9,340.9 L1137.9,340.5 L1140.8,340.0 L1143.8,339.6 L1146.8,339.1 L1149.8,338.7 L1152.8,338.2 L1155.8,337.8 L1158.8,337.3 L1161.8,336.8 L1164.8,336.4 L1167.8,335.9 L1170.8,335.5 L1173.8,335.0 L1176.8,334.6 L1179.8,334.1 L1182.8,333.7 L1185.8,333.2 L1188.8,332.7 L1191.8,332.3 L1194.7,331.8 L1197.7,331.4 L1200.7,330.9 L1203.7,330.5 L1206.7,330.0 L1209.7,329.5 L1212.7,329.1 L1215.7,328.6 L1218.7,328.2 L1221.7,327.7 L1224.7,327.3 L1227.7,326.8 L1230.7,326.3 M1293.6,316.7 L1296.6,316.2 L1299.5,315.8 L1302.5,315.3 L1305.5,314.8 L1308.5,314.4 L1311.5,313.9 L1314.5,313.4 L1317.5,313.0 L1320.5,312.5 L1323.5,312.1" fill="none" stroke="#000" stroke-width="0.9"/>
<path d="M796.5,333.9 L799.5,333.5 L802.5,333.1 L805.5,332.6 L808.5,332.2 L811.5,331.8 L814.5,331.3 L817.5,330.9 L820.5,330.4 L823.4,330.0 L826.4,329.6 L829.4,329.1 L832.4,328.7 L835.4,328.3 L838.4,327.8 L841.4,327.4 L844.4,326.9 L847.4,326.5 M925.3,315.0 L928.2,314.5 L931.2,314.1 L934.2,313.6 L937.2,313.2 L940.2,312.7 L943.2,312.3 L946.2,311.8 L949.2,311.4 L952.2,310.9 L955.2,310.5 L958.2,310.0 L961.2,309.6 L964.2,309.1 L967.2,308.7 L970.2,308.2 L973.2,307.8 L976.2,307.3 L979.2,306.8 L982.1,306.4 L985.1,305.9 L988.1,305.5 L991.1,305.0 L994.1,304.6 L997.1,304.1 L1000.1,303.7 L1003.1,303.2 L1006.1,302.8 L1009.1,302.3 L1012.1,301.8 L1015.1,301.4 L1018.1,300.9 L1021.1,300.5 L1024.1,300.0 L1027.1,299.6 L1030.1,299.1 L1033.1,298.6 L1036.0,298.2 L1039.0,297.7 M1113.9,286.1 L1116.9,285.7 L1119.9,285.2 L1122.9,284.7 L1125.9,284.3 L1128.9,283.8 L1131.9,283.3 L1134.9,282.9 L1137.9,282.4 L1140.8,281.9 L1143.8,281.5 L1146.8,281.0 L1149.8,280.5 L1152.8,280.0 L1155.8,279.6 L1158.8,279.1 L1161.8,278.6 L1164.8,278.2 L1167.8,277.7 L1170.8,277.2 L1173.8,276.7 L1176.8,276.3 L1179.8,275.8 L1182.8,275.3 L1185.8,274.9 L1188.8,274.4 L1191.8,273.9 L1194.7,273.4 L1197.7,273.0 L1200.7,272.5 L1203.7,272.0 L1206.7,271.5 L1209.7,271.1 L1212.7,270.6 L1215.7,270.1 L1218.7,269.6 L1221.7,269.1 L1224.7,268.7 L1227.7,268.2 L1230.7,267.7 L1233.7,267.2 L1236.7,266.8 L1239.7,266.3 L1242.7,265.8 L1245.6,265.3 L1248.6,264.8 L1251.6,264.4 L1254.6,263.9 L1257.6,263.4 L1260.6,262.9 L1263.6,262.4 L1266.6,261.9 L1269.6,261.5 L1272.6,261.0 L1275.6,260.5 L1278.6,260.0 L1281.6,259.5 L1284.6,259.0 L1287.6,258.6 L1290.6,258.1 L1293.6,257.6 L1296.6,257.1 L1299.5,256.6 L1302.5,256.1 L1305.5,255.7 L1308.5,255.2 L1311.5,254.7 L1314.5,254.2 L1317.5,253.7 L1320.5,253.2 L1323.5,252.7" fill="none" stroke="#000" stroke-width="0.9"/>
<path d="M796.5,282.8 L799.5,282.4 L802.5,281.9 L805.5,281.4 L808.5,281.0 L811.5,280.5 L814.5,280.1 L817.5,279.6 L820.5,279.2 L823.4,278.7 L826.4,278.2 L829.4,277.8 L832.4,277.3 L835.4,276.9 L838.4,276.4 L841.4,276.0 L844.4,275.5 L847.4,275.0 M916.3,264.4 L919.3,264.0 L922.3,263.5 L925.3,263.1 L928.2,262.6 L931.2,262.1 L934.2,261.7 L937.2,261.2 L940.2,260.7 L943.2,260.3 L946.2,259.8 L949.2,259.3 L952.2,258.9 L955.2,258.4 L958.2,258.0 L961.2,257.5 L964.2,257.0 L967.2,256.6 L970.2,256.1 L973.2,255.6 L976.2,255.2 L979.2,254.7 L982.1,254.2 L985.1,253.8 L988.1,253.3 L991.1,252.8 L994.1,252.4 L997.1,251.9 L1000.1,251.4 L1003.1,251.0 L1006.1,250.5 L1009.1,250.0 L1012.1,249.6 L1015.1,249.1 L1018.1,248.6 L1021.1,248.2 L1024.1,247.7 L1027.1,247.2 L1030.1,246.8 L1033.1,246.3 L1036.0,245.8 L1039.0,245.4 M1104.9,235.0 L1107.9,234.5 L1110.9,234.1 L1113.9,233.6 L1116.9,233.1 L1119.9,232.6 L1122.9,232.2 L1125.9,231.7 L1128.9,231.2 L1131.9,230.7 L1134.9,230.3 L1137.9,229.8 L1140.8,229.3 L1143.8,228.8 L1146.8,228.4 L1149.8,227.9 L1152.8,227.4 L1155.8,226.9 L1158.8,226.5 L1161.8,226.0 L1164.8,225.5 L1167.8,225.0 L1170.8,224.6 L1173.8,224.1 L1176.8,223.6 L1179.8,223.1 L1182.8,222.7 L1185.8,222.2 L1188.8,221.7 L1191.8,221.2 L1194.7,220.8 L1197.7,220.3 L1200.7,219.8 L1203.7,219.3 L1206.7,218.9 L1209.7,218.4 L1212.7,217.9 L1215.7,217.4 L1218.7,216.9 L1221.7,216.5 L1224.7,216.0 L1227.7,215.5 L1230.7,215.0 M1293.6,204.9 L1296.6,204.5 L1299.5,204.0 L1302.5,203.5 L1305.5,203.0 L1308.5,202.5 L1311.5,202.0 L1314.5,201.6 L1317.5,201.1 L1320.5,200.6 L1323.5,200.1" fill="none" stroke="#000" stroke-width="0.9"/>
<path d="M796.5,235.1 L799.5,234.7 L802.5,234.2 L805.5,233.7 L808.5,233.3 L811.5,232.8 L814.5,232.3 L817.5,231.9 L820.5,231.4 L823.4,231.0 L826.4,230.5 L829.4,230.0 L832.4,229.6 L835.4,229.1 L838.4,228.6 L841.4,228.2 L844.4,227.7 L847.4,227.3 L850.4,226.8 L853.4,226.3 L856.4,225.9 L859.4,225.4 M913.3,217.1 L916.3,216.6 L919.3,216.1 L922.3,215.7 L925.3,215.2 L928.2,214.7 L931.2,214.3 L934.2,213.8 L937.2,213.3 L940.2,212.9 L943.2,212.4 L946.2,211.9 L949.2,211.5 L952.2,211.0 L955.2,210.5 L958.2,210.1 L961.2,209.6 L964.2,209.2 L967.2,208.7 L970.2,208.2 L973.2,207.8 L976.2,207.3 L979.2,206.8 L982.1,206.4 L985.1,205.9 L988.1,205.4 L991.1,205.0 L994.1,204.5 L997.1,204.0 L1000.1,203.6 L1003.1,203.1 L1006.1,202.6 L1009.1,202.2 L1012.1,201.7 L1015.1,201.2 L1018.1,200.8 L1021.1,200.3 L1024.1,199.8 L1027.1,199.4 L1030.1,198.9 L1033.1,198.4 L1036.0,198.0 L1039.0,197.5 L1042.0,197.0 L1045.0,196.6 L1048.0,196.1 M1104.9,187.2 L1107.9,186.7 L1110.9,186.3 L1113.9,185.8 L1116.9,185.3 L1119.9,184.9 L1122.9,184.4 L1125.9,183.9 L1128.9,183.5 L1131.9,183.0 L1134.9,182.5 L1137.9,182.1 L1140.8,181.6 L1143.8,181.1 L1146.8,180.7 L1149.8,180.2 L1152.8,179.7 L1155.8,179.2 L1158.8,178.8 L1161.8,178.3 L1164.8,177.8 L1167.8,177.4 L1170.8,176.9 L1173.8,176.4 L1176.8,176.0 L1179.8,175.5 L1182.8,175.0 L1185.8,174.5 L1188.8,174.1 L1191.8,173.6 L1194.7,173.1 L1197.7,172.7 L1200.7,172.2 L1203.7,171.7 L1206.7,171.3 L1209.7,170.8 L1212.7,170.3 L1215.7,169.8 L1218.7,169.4 L1221.7,168.9 L1224.7,168.4 L1227.7,168.0 L1230.7,167.5 L1233.7,167.0 L1236.7,166.5 M1293.6,157.6 L1296.6,157.1 L1299.5,156.6 L1302.5,156.2 L1305.5,155.7 L1308.5,155.2 L1311.5,154.8 L1314.5,154.3 L1317.5,153.8 L1320.5,153.3 L1323.5,152.9" fill="none" stroke="#000" stroke-width="0.9"/>
<path d="M796.5,191.9 L799.5,191.5 L802.5,191.0 L805.5,190.6 L808.5,190.1 L811.5,189.6 L814.5,189.2 L817.5,188.7 L820.5,188.3 L823.4,187.8 L826.4,187.4 L829.4,186.9 L832.4,186.5 L835.4,186.0 L838.4,185.6 L841.4,185.1 L844.4,184.7 L847.4,184.2 L850.4,183.8 L853.4,183.3 L856.4,182.9 L859.4,182.4 L862.4,182.0 L865.4,181.5 L868.4,181.0 L871.4,180.6 L874.4,180.1 L877.3,179.7 L880.3,179.2 L883.3,178.8 L886.3,178.3 L889.3,177.9 M913.3,174.2 L916.3,173.8 L919.3,173.3 L922.3,172.9 L925.3,172.4 L928.2,171.9 L931.2,171.5 L934.2,171.0 L937.2,170.6 L940.2,170.1 L943.2,169.7 L946.2,169.2 L949.2,168.8 L952.2,168.3 L955.2,167.8 L958.2,167.4 L961.2,166.9 L964.2,166.5 L967.2,166.0 L970.2,165.5 L973.2,165.1 L976.2,164.6 L979.2,164.2 L982.1,163.7 L985.1,163.3 L988.1,162.8 L991.1,162.3 L994.1,161.9 L997.1,161.4 L1000.1,161.0 L1003.1,160.5 L1006.1,160.0 L1009.1,159.6 L1012.1,159.1 L1015.1,158.7 L1018.1,158.2 L1021.1,157.8 L1024.1,157.3 L1027.1,156.8 L1030.1,156.4 L1033.1,155.9 L1036.0,155.5 L1039.0,155.0 L1042.0,154.5 L1045.0,154.1 L1048.0,153.6 L1051.0,153.1 L1054.0,152.7 L1057.0,152.2 L1060.0,151.8 L1063.0,151.3 L1066.0,150.8 L1069.0,150.4 L1072.0,149.9 L1075.0,149.5 L1078.0,149.0 L1081.0,148.5 M1104.9,144.8 L1107.9,144.4 L1110.9,143.9 L1113.9,143.4 L1116.9,143.0 L1119.9,142.5 L1122.9,142.1 L1125.9,141.6 L1128.9,141.1 L1131.9,140.7 L1134.9,140.2 L1137.9,139.7 L1140.8,139.3 L1143.8,138.8 L1146.8,138.3 L1149.8,137.9 L1152.8,137.4 L1155.8,136.9 L1158.8,136.5 L1161.8,136.0 L1164.8,135.6 L1167.8,135.1 L1170.8,134.6 L1173.8,134.2 L1176.8,133.7 L1179.8,133.2 L1182.8,132.8 L1185.8,132.3 L1188.8,131.8 L1191.8,131.4 L1194.7,130.9 L1197.7,130.4 L1200.7,130.0 L1203.7,129.5 L1206.7,129.0 L1209.7,128.6 L1212.7,128.1 L1215.7,127.6 L1218.7,127.2 L1221.7,126.7 L1224.7,126.2 L1227.7,125.8 L1230.7,125.3 L1233.7,124.8 L1236.7,124.4 L1239.7,123.9 L1242.7,123.4 L1245.6,123.0 L1248.6,122.5 L1251.6,122.0 L1254.6,121.5 L1257.6,121.1 L1260.6,120.6 L1263.6,120.1 L1266.6,119.7 L1269.6,119.2 L1272.6,118.7 M1293.6,115.4 L1296.6,115.0 L1299.5,114.5 L1302.5,114.0 L1305.5,113.6 L1308.5,113.1 L1311.5,112.6 L1314.5,112.2 L1317.5,111.7 L1320.5,111.2 L1323.5,110.7" fill="none" stroke="#000" stroke-width="0.9"/>
<path d="M796.5,154.8 L799.5,154.3 L802.5,153.9 L805.5,153.4 L808.5,152.9 L811.5,152.4 L814.5,151.9 L817.5,151.4 L820.5,151.0 L823.4,150.5 L826.4,150.0 L829.4,149.5 L832.4,149.0 L835.4,148.6 L838.4,148.1 L841.4,147.6 L844.4,147.1 L847.4,146.6 M913.3,136.1 L916.3,135.7 L919.3,135.2 L922.3,134.7 L925.3,134.2 L928.2,133.8 L931.2,133.3 L934.2,132.8 L937.2,132.4 L940.2,131.9 L943.2,131.4 L946.2,130.9 L949.2,130.5 L952.2,130.0 L955.2,129.5 L958.2,129.1 L961.2,128.6 L964.2,128.1 L967.2,127.6 L970.2,127.2 L973.2,126.7 L976.2,126.2 L979.2,125.8 L982.1,125.3 L985.1,124.8 L988.1,124.4 L991.1,123.9 L994.1,123.4 L997.1,123.0 L1000.1,122.5 L1003.1,122.0 L1006.1,121.6 L1009.1,121.1 L1012.1,120.6 L1015.1,120.2 L1018.1,119.7 L1021.1,119.2 L1024.1,118.8 L1027.1,118.3 L1030.1,117.8 L1033.1,117.4 L1036.0,116.9 L1039.0,116.4 M1104.9,106.3 L1107.9,105.9 L1110.9,105.4 L1113.9,104.9 L1116.9,104.5 L1119.9,104.0 L1122.9,103.6 L1125.9,103.1 L1128.9,102.7 L1131.9,102.2 L1134.9,101.8 L1137.9,101.3 L1140.8,100.8 L1143.8,100.4 L1146.8,99.9 L1149.8,99.5 L1152.8,99.0 L1155.8,98.6 L1158.8,98.1 L1161.8,97.7 L1164.8,97.2 L1167.8,96.8 L1170.8,96.3 L1173.8,95.9 L1176.8,95.4 L1179.8,95.0 L1182.8,94.5 L1185.8,94.1 L1188.8,93.6 L1191.8,93.2 L1194.7,92.7 L1197.7,92.3 L1200.7,91.8 L1203.7,91.4 L1206.7,90.9 L1209.7,90.5 L1212.7,90.0 L1215.7,89.6 L1218.7,89.1 L1221.7,88.7 L1224.7,88.2 L1227.7,87.8 M1293.6,78.0 L1296.6,77.6 L1299.5,77.1 L1302.5,76.7 L1305.5,76.2 L1308.5,75.8 L1311.5,75.3 L1314.5,74.9 L1317.5,74.5 L1320.5,74.0 L1323.5,73.6" fill="none" stroke="#000" stroke-width="0.9"/>
<path d="M796.5,118.7 L799.5,118.2 L802.5,117.7 L805.5,117.3 L808.5,116.8 L811.5,116.3 L814.5,115.9 L817.5,115.4 L820.5,114.9 L823.4,114.4 L826.4,114.0 L829.4,113.5 L832.4,113.0 L835.4,112.6 L838.4,112.1 L841.4,111.6 L844.4,111.2 L847.4,110.7 M925.3,98.6 L928.2,98.2 L931.2,97.7 L934.2,97.2 L937.2,96.8 L940.2,96.3 L943.2,95.9 L946.2,95.4 L949.2,94.9 L952.2,94.5 L955.2,94.0 L958.2,93.6 L961.2,93.1 L964.2,92.7 L967.2,92.2 L970.2,91.7 L973.2,91.3 L976.2,90.8 L979.2,90.4 L982.1,89.9 L985.1,89.5 L988.1,89.0 L991.1,88.6 L994.1,88.1 L997.1,87.6 L1000.1,87.2 L1003.1,86.7 L1006.1,86.3 L1009.1,85.8 L1012.1,85.4 L1015.1,84.9 L1018.1,84.5 L1021.1,84.0 L1024.1,83.6 L1027.1,83.1 L1030.1,82.7 L1033.1,82.2 L1036.0,81.8 L1039.0,81.3 M1113.9,70.2 L1116.9,69.7 L1119.9,69.3 L1122.9,68.8 L1125.9,68.4 L1128.9,67.9 L1131.9,67.5 L1134.9,67.1 L1137.9,66.6 L1140.8,66.2 L1143.8,65.7 L1146.8,65.3 L1149.8,64.9 L1152.8,64.4 L1155.8,64.0 L1158.8,63.5 L1161.8,63.1 L1164.8,62.7 L1167.8,62.2 L1170.8,61.8 L1173.8,61.4 L1176.8,60.9 L1179.8,60.5 L1182.8,60.0 L1185.8,59.6 L1188.8,59.2 L1191.8,58.7 L1194.7,58.3 L1197.7,57.9 L1200.7,57.4 L1203.7,57.0 L1206.7,56.6 L1209.7,56.1 L1212.7,55.7 L1215.7,55.3 L1218.7,54.8 L1221.7,54.4 L1224.7,54.0 L1227.7,53.5 L1230.7,53.1 L1233.7,52.7 L1236.7,52.2 L1239.7,51.8 L1242.7,51.4 L1245.6,50.9 L1248.6,50.5 L1251.6,50.1 L1254.6,49.6 L1257.6,49.2 L1260.6,48.8 L1263.6,48.4 L1266.6,47.9 L1269.6,47.5 L1272.6,47.1 L1275.6,46.6 L1278.6,46.2 L1281.6,45.8 L1284.6,45.4 L1287.6,44.9 L1290.6,44.5 L1293.6,44.1 L1296.6,43.7 L1299.5,43.2 L1302.5,42.8 L1305.5,42.4 L1308.5,42.0 L1311.5,41.5 L1314.5,41.1 L1317.5,40.7 L1320.5,40.3 L1323.5,39.8" fill="none" stroke="#000" stroke-width="0.9"/>
<path d="M796.5,87.4 L799.5,86.9 L802.5,86.4 L805.5,86.0 L808.5,85.5 L811.5,85.0 L814.5,84.6 L817.5,84.1 L820.5,83.6 L823.4,83.2 L826.4,82.7 L829.4,82.2 L832.4,81.7 L835.4,81.3 L838.4,80.8 L841.4,80.3 L844.4,79.9 L847.4,79.4 L850.4,78.9 L853.4,78.5 L856.4,78.0 L859.4,77.5 L862.4,77.0 L865.4,76.6 L868.4,76.1 L871.4,75.6 L874.4,75.2 L877.3,74.7 L880.3,74.2 L883.3,73.7 L886.3,73.3 L889.3,72.8 L892.3,72.3 L895.3,71.9 L898.3,71.4 L901.3,70.9 L904.3,70.5 L907.3,70.0 L910.3,69.5 L913.3,69.0 L916.3,68.6 L919.3,68.1 L922.3,67.6 L925.3,67.2 L928.2,66.7 L931.2,66.2 L934.2,65.8 L937.2,65.3 L940.2,64.8 L943.2,64.3 L946.2,63.9 L949.2,63.4 L952.2,62.9 L955.2,62.5 L958.2,62.0 L961.2,61.5 L964.2,61.1 L967.2,60.6 L970.2,60.1 L973.2,59.6 M1057.0,46.5 L1060.0,46.0 L1063.0,45.5 L1066.0,45.1 L1069.0,44.6 L1072.0,44.1 L1075.0,43.6 L1078.0,43.2 L1081.0,42.7 L1084.0,42.2 L1086.9,41.8 L1089.9,41.3 L1092.9,40.8 L1095.9,40.4 L1098.9,39.9 L1101.9,39.4 L1104.9,38.9 L1107.9,38.5 L1110.9,38.0 L1113.9,37.5 L1116.9,37.1 L1119.9,36.6 L1122.9,36.1 L1125.9,35.7 L1128.9,35.2 L1131.9,34.7 L1134.9,34.2 L1137.9,33.8 L1140.8,33.3 L1143.8,32.8 L1146.8,32.4 L1149.8,31.9 L1152.8,31.4 L1155.8,31.0 L1158.8,30.5 L1161.8,30.0 L1164.8,29.5 L1167.8,29.1 L1170.8,28.6 L1173.8,28.1 L1176.8,27.7 L1179.8,27.2 L1182.8,26.7 L1185.8,26.2 L1188.8,25.8 L1191.8,25.3 L1194.7,24.8 L1197.7,24.4 L1200.7,23.9 L1203.7,23.4 L1206.7,23.0 L1209.7,22.5 L1212.7,22.0 L1215.7,21.5 L1218.7,21.1 L1221.7,20.6 L1224.7,20.1 L1227.7,19.7 L1230.7,19.2 L1233.7,18.7 L1236.7,18.3 L1239.7,17.8 L1242.7,17.3 L1245.6,16.8 L1248.6,16.4 L1251.6,15.9 L1254.6,15.4 L1257.6,15.0 L1260.6,14.5 L1263.6,14.0 L1266.6,13.5 L1269.6,13.1 L1272.6,12.6 L1275.6,12.1 L1278.6,11.7 L1281.6,11.2 L1284.6,10.7 L1287.6,10.3 L1290.6,9.8 L1293.6,9.3 L1296.6,8.8 L1299.5,8.4 L1302.5,7.9 L1305.5,7.4 L1308.5,7.0 L1311.5,6.5 L1314.5,6.0 L1317.5,5.6 L1320.5,5.1 L1323.5,4.6" fill="none" stroke="#000" stroke-width="0.9"/>
<path d="M796.5,57.4 L799.5,56.9 L802.5,56.4 L805.5,55.9 L808.5,55.5 L811.5,55.0 L814.5,54.5 L817.5,54.0 L820.5,53.6 L823.4,53.1 L826.4,52.6 L829.4,52.1 L832.4,51.7 L835.4,51.2 L838.4,50.7 L841.4,50.2 L844.4,49.8 L847.4,49.3 L850.4,48.8 L853.4,48.4 L856.4,47.9 L859.4,47.4 L862.4,46.9 L865.4,46.5 L868.4,46.0 L871.4,45.5 L874.4,45.0 L877.3,44.6 L880.3,44.1 L883.3,43.6 L886.3,43.1 L889.3,42.7 L892.3,42.2 L895.3,41.7 L898.3,41.2 L901.3,40.8 L904.3,40.3 L907.3,39.8 L910.3,39.3 L913.3,38.9 L916.3,38.4 L919.3,37.9 L922.3,37.4 L925.3,37.0 L928.2,36.5 L931.2,36.0 L934.2,35.5 L937.2,35.1 L940.2,34.6 L943.2,34.1 L946.2,33.6 L949.2,33.2 L952.2,32.7 L955.2,32.2 L958.2,31.7 L961.2,31.3 L964.2,30.8 L967.2,30.3 L970.2,29.8 L973.2,29.4 L976.2,28.9 L979.2,28.4 L982.1,27.9 L985.1,27.5 L988.1,27.0 L991.1,26.5 L994.1,26.0 L997.1,25.6 L1000.1,25.1 L1003.1,24.6 L1006.1,24.1 L1009.1,23.7 L1012.1,23.2 L1015.1,22.7 L1018.1,22.2 L1021.1,21.8 L1024.1,21.3 L1027.1,20.8 L1030.1,20.4 L1033.1,19.9 L1036.0,19.4 L1039.0,18.9 L1042.0,18.5 L1045.0,18.0 L1048.0,17.5 L1051.0,17.0 L1054.0,16.6 L1057.0,16.1 L1060.0,15.6 L1063.0,15.1 L1066.0,14.7 L1069.0,14.2 L1072.0,13.7 L1075.0,13.2 L1078.0,12.8 L1081.0,12.3 L1084.0,11.8 L1086.9,11.3 L1089.9,10.9 L1092.9,10.4 L1095.9,9.9 L1098.9,9.4 L1101.9,9.0 L1104.9,8.5 L1107.9,8.0 L1110.9,7.5 L1113.9,7.1 L1116.9,6.6 L1119.9,6.1 L1122.9,5.6 L1125.9,5.2 L1128.9,4.7 L1131.9,4.2 L1134.9,3.7 L1137.9,3.3 L1140.8,2.8 L1143.8,2.3 L1146.8,1.8 L1149.8,1.4 L1152.8,0.9 L1155.8,0.4 L1158.8,-0.1 L1161.8,-0.5 L1164.8,-1.0 L1167.8,-1.5 L1170.8,-2.0 L1173.8,-2.4 L1176.8,-2.9 L1179.8,-3.4 L1182.8,-3.9 L1185.8,-4.3 L1188.8,-4.8 L1191.8,-5.3 L1194.7,-5.8 L1197.7,-6.2 L1200.7,-6.7 L1203.7,-7.2 L1206.7,-7.6 L1209.7,-8.1 L1212.7,-8.6 L1215.7,-9.1 L1218.7,-9.5 L1221.7,-10.0 L1224.7,-10.5 L1227.7,-11.0 L1230.7,-11.4 L1233.7,-11.9 L1236.7,-12.4 L1239.7,-12.9 L1242.7,-13.3 L1245.6,-13.8 L1248.6,-14.3 L1251.6,-14.8 L1254.6,-15.2 L1257.6,-15.7 L1260.6,-16.2 L1263.6,-16.7 L1266.6,-17.1 L1269.6,-17.6 L1272.6,-18.1 L1275.6,-18.6 L1278.6,-19.0 L1281.6,-19.5 L1284.6,-20.0 L1287.6,-20.5 L1290.6,-20.9 L1293.6,-21.4 L1296.6,-21.9 L1299.5,-22.4 L1302.5,-22.8 L1305.5,-23.3 L1308.5,-23.8 L1311.5,-24.3 L1314.5,-24.7 L1317.5,-25.2 L1320.5,-25.7 L1323.5,-26.2" fill="none" stroke="#000" stroke-width="0.9"/>
</g>
<text x="886.40" y="447.57" transform="rotate(-8.43 886.40 441.86)" font-size="16.1" text-anchor="middle" fill="#000">0.00025</text>
<text x="1076.70" y="419.32" transform="rotate(-8.46 1076.70 413.60)" font-size="16.1" text-anchor="middle" fill="#000">0.00025</text>
<text x="881.85" y="384.47" transform="rotate(-8.38 881.85 378.75)" font-size="16.1" text-anchor="middle" fill="#000">0.0002</text>
<text x="1072.15" y="356.12" transform="rotate(-8.56 1072.15 350.41)" font-size="16.1" text-anchor="middle" fill="#000">0.0002</text>
<text x="1261.95" y="327.26" transform="rotate(-8.73 1261.95 321.55)" font-size="16.1" text-anchor="middle" fill="#000">0.0002</text>
<text x="886.40" y="326.46" transform="rotate(-8.43 886.40 320.74)" font-size="16.1" text-anchor="middle" fill="#000">0.00015</text>
<text x="1076.70" y="297.63" transform="rotate(-8.79 1076.70 291.92)" font-size="16.1" text-anchor="middle" fill="#000">0.00015</text>
<text x="881.85" y="275.46" transform="rotate(-8.75 881.85 269.75)" font-size="16.1" text-anchor="middle" fill="#000">0.0001</text>
<text x="1072.15" y="245.87" transform="rotate(-8.93 1072.15 240.16)" font-size="16.1" text-anchor="middle" fill="#000">0.0001</text>
<text x="1261.95" y="215.74" transform="rotate(-9.11 1261.95 210.02)" font-size="16.1" text-anchor="middle" fill="#000">0.0001</text>
<text x="886.40" y="226.93" transform="rotate(-8.80 886.40 221.22)" font-size="16.1" text-anchor="middle" fill="#000">5e-05</text>
<text x="1076.20" y="197.42" transform="rotate(-8.88 1076.20 191.70)" font-size="16.1" text-anchor="middle" fill="#000">5e-05</text>
<text x="1265.95" y="167.65" transform="rotate(-8.95 1265.95 161.94)" font-size="16.1" text-anchor="middle" fill="#000">5e-05</text>
<text x="901.45" y="181.74" transform="rotate(-8.64 901.45 176.02)" font-size="16.1" text-anchor="middle" fill="#000">0</text>
<text x="1093.10" y="152.38" transform="rotate(-8.78 1093.10 146.66)" font-size="16.1" text-anchor="middle" fill="#000">0</text>
<text x="1283.05" y="122.81" transform="rotate(-8.91 1283.05 117.10)" font-size="16.1" text-anchor="middle" fill="#000">0</text>
<text x="881.35" y="146.92" transform="rotate(-9.05 881.35 141.21)" font-size="16.1" text-anchor="middle" fill="#000">-5e-05</text>
<text x="1072.15" y="117.05" transform="rotate(-8.74 1072.15 111.34)" font-size="16.1" text-anchor="middle" fill="#000">-5e-05</text>
<text x="1261.45" y="88.46" transform="rotate(-8.44 1261.45 82.74)" font-size="16.1" text-anchor="middle" fill="#000">-5e-05</text>
<text x="886.40" y="110.34" transform="rotate(-8.81 886.40 104.62)" font-size="16.1" text-anchor="middle" fill="#000">-0.0001</text>
<text x="1076.70" y="81.40" transform="rotate(-8.48 1076.70 75.68)" font-size="16.1" text-anchor="middle" fill="#000">-0.0001</text>
<text x="1015.00" y="58.78" transform="rotate(-8.93 1015.00 53.07)" font-size="16.1" text-anchor="middle" fill="#000">-0.00015</text>
<g clip-path="url(#clipc10)">
<path d="M804.50,149.50 H1320.50" stroke="#000" stroke-width="3" stroke-dasharray="9.7 3.68" fill="none"/>
<path d="M889.40,455.90 V34.30" stroke="#000" stroke-width="3" stroke-dasharray="9.7 3.68" fill="none"/>
<path d="M1146.00,455.90 V34.30" stroke="#000" stroke-width="3" stroke-dasharray="9.7 3.68" fill="none"/>
</g>
<path d="M889.67,455.90 V450.40 M889.67,39.30 V44.80 M974.83,455.90 V450.40 M974.83,39.30 V44.80 M1060.00,455.90 V450.40 M1060.00,39.30 V44.80 M1145.17,455.90 V450.40 M1145.17,39.30 V44.80 M1230.33,455.90 V450.40 M1230.33,39.30 V44.80 M804.50,50.87 H810.00 M1315.50,50.87 H1310.00 M804.50,108.73 H810.00 M1315.50,108.73 H1310.00 M804.50,166.59 H810.00 M1315.50,166.59 H1310.00 M804.50,224.46 H810.00 M1315.50,224.46 H1310.00 M804.50,282.32 H810.00 M1315.50,282.32 H1310.00 M804.50,340.18 H810.00 M1315.50,340.18 H1310.00 M804.50,398.04 H810.00 M1315.50,398.04 H1310.00" stroke="#262626" stroke-opacity="0.9" stroke-width="1" fill="none"/>
<rect x="804.50" y="39.30" width="511.00" height="416.60" fill="none" stroke="#262626" stroke-opacity="0.7" stroke-width="0.9"/>
<text x="804.50" y="482.20" font-size="20" text-anchor="middle" fill="#262626">0</text>
<text x="889.67" y="482.20" font-size="20" text-anchor="middle" fill="#262626">5</text>
<text x="974.83" y="482.20" font-size="20" text-anchor="middle" fill="#262626">10</text>
<text x="1060.00" y="482.20" font-size="20" text-anchor="middle" fill="#262626">15</text>
<text x="1145.17" y="482.20" font-size="20" text-anchor="middle" fill="#262626">20</text>
<text x="1230.33" y="482.20" font-size="20" text-anchor="middle" fill="#262626">25</text>
<text x="1315.50" y="482.20" font-size="20" text-anchor="middle" fill="#262626">30</text>
<text x="797.70" y="58.17" font-size="20" text-anchor="end" fill="#262626">265</text>
<text x="797.70" y="116.03" font-size="20" text-anchor="end" fill="#262626">270</text>
<text x="797.70" y="173.89" font-size="20" text-anchor="end" fill="#262626">275</text>
<text x="797.70" y="231.76" font-size="20" text-anchor="end" fill="#262626">280</text>
<text x="797.70" y="289.62" font-size="20" text-anchor="end" fill="#262626">285</text>
<text x="797.70" y="347.48" font-size="20" text-anchor="end" fill="#262626">290</text>
<text x="797.70" y="405.34" font-size="20" text-anchor="end" fill="#262626">295</text>
<text x="797.70" y="463.20" font-size="20" text-anchor="end" fill="#262626">300</text>
<text x="1060.00" y="508.80" font-size="22" text-anchor="middle" fill="#262626">Salinity (g/kg)</text>
<text x="755.70" y="247.60" font-size="22" text-anchor="middle" fill="#262626" transform="rotate(-90 755.70 247.60)">Temperature (K)</text>
<text x="1060.00" y="34.10" font-size="22.3" font-weight="bold" text-anchor="middle" fill="#000">Thermal Expansivity <tspan font-family="'Liberation Serif', serif" font-style="italic" font-weight="normal">&#945;</tspan> (1/K)</text>
<text x="814.90" y="23.60" font-size="31" font-weight="bold" fill="#000">(b)</text>
<clipPath id="clipc20"><rect x="1476.80" y="39.30" width="511.00" height="416.60"/></clipPath>
<g clip-path="url(#clipc20)">
<rect x="1476.80" y="39.30" width="511.00" height="416.60" fill="#008068"/>
<path d="M1927.4,31.3 L1925.9,34.3 L1924.5,37.3 L1923.1,40.3 L1921.7,43.2 L1920.3,46.2 L1919.0,49.2 L1917.7,52.2 L1916.4,55.2 L1915.2,58.2 L1914.0,61.1 L1912.8,64.1 L1911.6,67.1 L1910.5,70.1 L1909.3,73.1 L1908.3,76.1 L1907.2,79.0 L1906.2,82.0 L1905.2,85.0 L1904.2,88.0 L1903.2,91.0 L1902.3,94.0 L1901.4,96.9 L1900.5,99.9 L1899.6,102.9 L1898.8,105.9 L1897.9,108.9 L1897.1,111.9 L1896.4,114.8 L1895.6,117.8 L1894.9,120.8 L1894.2,123.8 L1893.5,126.8 L1892.8,129.8 L1892.2,132.7 L1891.6,135.7 L1891.0,138.7 L1890.4,141.7 L1889.8,144.7 L1889.3,147.7 L1888.8,150.6 L1888.3,153.6 L1887.8,156.6 L1887.3,159.6 L1886.9,162.6 L1886.4,165.6 L1886.0,168.5 L1885.6,171.5 L1885.3,174.5 L1884.9,177.5 L1884.6,180.5 L1884.3,183.5 L1884.0,186.4 L1883.7,189.4 L1883.4,192.4 L1883.1,195.4 L1882.9,198.4 L1882.7,201.4 L1882.5,204.3 L1882.3,207.3 L1882.1,210.3 L1881.9,213.3 L1881.8,216.3 L1881.6,219.3 L1881.5,222.2 L1881.4,225.2 L1881.3,228.2 L1881.2,231.2 L1881.2,234.2 L1881.1,237.2 L1881.1,240.1 L1881.0,243.1 L1881.0,246.1 L1881.0,249.1 L1881.0,252.1 L1881.0,255.1 L1881.0,258.0 L1881.1,261.0 L1881.1,264.0 L1881.2,267.0 L1881.2,270.0 L1881.3,273.0 L1881.4,275.9 L1881.5,278.9 L1881.6,281.9 L1881.7,284.9 L1881.8,287.9 L1881.9,290.9 L1882.0,293.8 L1882.2,296.8 L1882.3,299.8 L1882.5,302.8 L1882.6,305.8 L1882.8,308.8 L1883.0,311.7 L1883.2,314.7 L1883.3,317.7 L1883.5,320.7 L1883.7,323.7 L1883.9,326.7 L1884.1,329.6 L1884.3,332.6 L1884.6,335.6 L1884.8,338.6 L1885.0,341.6 L1885.2,344.6 L1885.4,347.5 L1885.7,350.5 L1885.9,353.5 L1886.1,356.5 L1886.4,359.5 L1886.6,362.5 L1886.9,365.4 L1887.1,368.4 L1887.4,371.4 L1887.6,374.4 L1887.8,377.4 L1888.1,380.4 L1888.3,383.3 L1888.6,386.3 L1888.8,389.3 L1889.1,392.3 L1889.3,395.3 L1889.6,398.3 L1889.8,401.2 L1890.1,404.2 L1890.3,407.2 L1890.5,410.2 L1890.8,413.2 L1891.0,416.2 L1891.2,419.1 L1891.5,422.1 L1891.7,425.1 L1891.9,428.1 L1892.1,431.1 L1892.4,434.1 L1892.6,437.0 L1892.8,440.0 L1893.0,443.0 L1893.2,446.0 L1893.4,449.0 L1893.5,452.0 L1893.7,454.9 L1893.9,457.9 L1894.1,460.9 L1894.2,463.9 L1416.8,463.9 L1416.8,31.3 Z" fill="#299468" stroke="#299468" stroke-width="0.6"/>
<path d="M1812.9,31.3 L1811.0,34.3 L1809.0,37.3 L1807.2,40.3 L1805.3,43.2 L1803.5,46.2 L1801.6,49.2 L1799.9,52.2 L1798.1,55.2 L1796.4,58.2 L1794.7,61.1 L1793.0,64.1 L1791.4,67.1 L1789.8,70.1 L1788.2,73.1 L1786.6,76.1 L1785.1,79.0 L1783.6,82.0 L1782.1,85.0 L1780.6,88.0 L1779.2,91.0 L1777.8,94.0 L1776.4,96.9 L1775.1,99.9 L1773.7,102.9 L1772.4,105.9 L1771.1,108.9 L1769.9,111.9 L1768.6,114.8 L1767.4,117.8 L1766.2,120.8 L1765.1,123.8 L1763.9,126.8 L1762.8,129.8 L1761.7,132.7 L1760.6,135.7 L1759.6,138.7 L1758.5,141.7 L1757.5,144.7 L1756.5,147.7 L1755.6,150.6 L1754.6,153.6 L1753.7,156.6 L1752.8,159.6 L1751.9,162.6 L1751.0,165.6 L1750.2,168.5 L1749.3,171.5 L1748.5,174.5 L1747.7,177.5 L1747.0,180.5 L1746.2,183.5 L1745.5,186.4 L1744.7,189.4 L1744.0,192.4 L1743.3,195.4 L1742.7,198.4 L1742.0,201.4 L1741.4,204.3 L1740.8,207.3 L1740.2,210.3 L1739.6,213.3 L1739.0,216.3 L1738.5,219.3 L1737.9,222.2 L1737.4,225.2 L1736.9,228.2 L1736.4,231.2 L1735.9,234.2 L1735.5,237.2 L1735.0,240.1 L1734.6,243.1 L1734.2,246.1 L1733.8,249.1 L1733.4,252.1 L1733.0,255.1 L1732.6,258.0 L1732.3,261.0 L1731.9,264.0 L1731.6,267.0 L1731.3,270.0 L1730.9,273.0 L1730.6,275.9 L1730.4,278.9 L1730.1,281.9 L1729.8,284.9 L1729.6,287.9 L1729.3,290.9 L1729.1,293.8 L1728.9,296.8 L1728.6,299.8 L1728.4,302.8 L1728.2,305.8 L1728.1,308.8 L1727.9,311.7 L1727.7,314.7 L1727.5,317.7 L1727.4,320.7 L1727.2,323.7 L1727.1,326.7 L1727.0,329.6 L1726.8,332.6 L1726.7,335.6 L1726.6,338.6 L1726.5,341.6 L1726.4,344.6 L1726.3,347.5 L1726.2,350.5 L1726.1,353.5 L1726.1,356.5 L1726.0,359.5 L1725.9,362.5 L1725.9,365.4 L1725.8,368.4 L1725.8,371.4 L1725.7,374.4 L1725.7,377.4 L1725.6,380.4 L1725.6,383.3 L1725.5,386.3 L1725.5,389.3 L1725.5,392.3 L1725.5,395.3 L1725.4,398.3 L1725.4,401.2 L1725.4,404.2 L1725.4,407.2 L1725.3,410.2 L1725.3,413.2 L1725.3,416.2 L1725.3,419.1 L1725.3,422.1 L1725.2,425.1 L1725.2,428.1 L1725.2,431.1 L1725.2,434.1 L1725.2,437.0 L1725.2,440.0 L1725.1,443.0 L1725.1,446.0 L1725.1,449.0 L1725.1,452.0 L1725.0,454.9 L1725.0,457.9 L1725.0,460.9 L1724.9,463.9 L1416.8,463.9 L1416.8,31.3 Z" fill="#5eaf68" stroke="#5eaf68" stroke-width="0.6"/>
<path d="M1703.5,31.3 L1701.1,34.3 L1698.7,37.3 L1696.4,40.3 L1694.1,43.2 L1691.8,46.2 L1689.6,49.2 L1687.4,52.2 L1685.2,55.2 L1683.0,58.2 L1680.9,61.1 L1678.8,64.1 L1676.7,67.1 L1674.6,70.1 L1672.6,73.1 L1670.6,76.1 L1668.6,79.0 L1666.7,82.0 L1664.8,85.0 L1662.9,88.0 L1661.0,91.0 L1659.2,94.0 L1657.3,96.9 L1655.6,99.9 L1653.8,102.9 L1652.0,105.9 L1650.3,108.9 L1648.6,111.9 L1646.9,114.8 L1645.3,117.8 L1643.7,120.8 L1642.1,123.8 L1640.5,126.8 L1638.9,129.8 L1637.4,132.7 L1635.9,135.7 L1634.4,138.7 L1632.9,141.7 L1631.5,144.7 L1630.1,147.7 L1628.7,150.6 L1627.3,153.6 L1625.9,156.6 L1624.6,159.6 L1623.3,162.6 L1622.0,165.6 L1620.7,168.5 L1619.4,171.5 L1618.2,174.5 L1617.0,177.5 L1615.8,180.5 L1614.6,183.5 L1613.4,186.4 L1612.3,189.4 L1611.2,192.4 L1610.1,195.4 L1609.0,198.4 L1607.9,201.4 L1606.9,204.3 L1605.9,207.3 L1604.8,210.3 L1603.8,213.3 L1602.9,216.3 L1601.9,219.3 L1601.0,222.2 L1600.0,225.2 L1599.1,228.2 L1598.2,231.2 L1597.3,234.2 L1596.5,237.2 L1595.6,240.1 L1594.8,243.1 L1594.0,246.1 L1593.2,249.1 L1592.4,252.1 L1591.6,255.1 L1590.9,258.0 L1590.1,261.0 L1589.4,264.0 L1588.7,267.0 L1588.0,270.0 L1587.3,273.0 L1586.6,275.9 L1586.0,278.9 L1585.3,281.9 L1584.7,284.9 L1584.0,287.9 L1583.4,290.9 L1582.8,293.8 L1582.2,296.8 L1581.7,299.8 L1581.1,302.8 L1580.5,305.8 L1580.0,308.8 L1579.5,311.7 L1579.0,314.7 L1578.4,317.7 L1577.9,320.7 L1577.5,323.7 L1577.0,326.7 L1576.5,329.6 L1576.0,332.6 L1575.6,335.6 L1575.2,338.6 L1574.7,341.6 L1574.3,344.6 L1573.9,347.5 L1573.5,350.5 L1573.1,353.5 L1572.7,356.5 L1572.3,359.5 L1571.9,362.5 L1571.6,365.4 L1571.2,368.4 L1570.8,371.4 L1570.5,374.4 L1570.2,377.4 L1569.8,380.4 L1569.5,383.3 L1569.2,386.3 L1568.9,389.3 L1568.5,392.3 L1568.2,395.3 L1567.9,398.3 L1567.6,401.2 L1567.4,404.2 L1567.1,407.2 L1566.8,410.2 L1566.5,413.2 L1566.2,416.2 L1566.0,419.1 L1565.7,422.1 L1565.4,425.1 L1565.2,428.1 L1564.9,431.1 L1564.7,434.1 L1564.4,437.0 L1564.2,440.0 L1563.9,443.0 L1563.7,446.0 L1563.5,449.0 L1563.2,452.0 L1563.0,454.9 L1562.7,457.9 L1562.5,460.9 L1562.3,463.9 L1416.8,463.9 L1416.8,31.3 Z" fill="#94c968" stroke="#94c968" stroke-width="0.6"/>
<path d="M1598.9,31.3 L1596.3,34.3 L1593.7,37.3 L1591.1,40.3 L1588.5,43.2 L1586.0,46.2 L1583.5,49.2 L1581.0,52.2 L1578.5,55.2 L1576.0,58.2 L1573.6,61.1 L1571.1,64.1 L1568.7,67.1 L1566.3,70.1 L1564.0,73.1 L1561.6,76.1 L1559.3,79.0 L1557.0,82.0 L1554.7,85.0 L1552.4,88.0 L1550.2,91.0 L1547.9,94.0 L1545.7,96.9 L1543.5,99.9 L1541.3,102.9 L1539.2,105.9 L1537.0,108.9 L1534.9,111.9 L1532.8,114.8 L1530.7,117.8 L1528.6,120.8 L1526.6,123.8 L1524.6,126.8 L1522.5,129.8 L1520.6,132.7 L1518.6,135.7 L1516.6,138.7 L1514.7,141.7 L1512.8,144.7 L1510.9,147.7 L1509.0,150.6 L1507.1,153.6 L1505.3,156.6 L1503.4,159.6 L1501.6,162.6 L1499.8,165.6 L1498.1,168.5 L1496.3,171.5 L1494.6,174.5 L1492.8,177.5 L1491.1,180.5 L1489.4,183.5 L1487.8,186.4 L1486.1,189.4 L1484.5,192.4 L1482.9,195.4 L1481.3,198.4 L1479.7,201.4 L1478.1,204.3 L1476.6,207.3 L1475.1,210.3 L1473.5,213.3 L1472.1,216.3 L1470.6,219.3 L1469.1,222.2 L1467.7,225.2 L1466.3,228.2 L1464.8,231.2 L1463.5,234.2 L1462.1,237.2 L1460.7,240.1 L1459.4,243.1 L1458.1,246.1 L1456.8,249.1 L1455.5,252.1 L1454.2,255.1 L1452.9,258.0 L1451.7,261.0 L1450.5,264.0 L1449.3,267.0 L1448.1,270.0 L1446.9,273.0 L1445.8,275.9 L1444.6,278.9 L1443.5,281.9 L1442.4,284.9 L1441.3,287.9 L1440.2,290.9 L1439.2,293.8 L1438.1,296.8 L1437.1,299.8 L1436.1,302.8 L1435.1,305.8 L1434.1,308.8 L1433.2,311.7 L1432.2,314.7 L1431.3,317.7 L1430.4,320.7 L1429.5,323.7 L1428.6,326.7 L1427.7,329.6 L1426.9,332.6 L1426.0,335.6 L1425.2,338.6 L1424.4,341.6 L1423.6,344.6 L1422.9,347.5 L1422.1,350.5 L1421.4,353.5 L1420.6,356.5 L1419.9,359.5 L1419.2,362.5 L1418.6,365.4 L1417.9,368.4 L1417.2,371.4 L1416.6,374.4 L1416.0,377.4 L1415.4,380.4 L1414.8,383.3 L1414.2,386.3 L1413.7,389.3 L1413.1,392.3 L1412.6,395.3 L1412.1,398.3 L1411.6,401.2 L1411.1,404.2 L1410.6,407.2 L1410.2,410.2 L1409.8,413.2 L1409.3,416.2 L1408.9,419.1 L1408.5,422.1 L1408.1,425.1 L1407.8,428.1 L1407.4,431.1 L1407.1,434.1 L1406.8,437.0 L1406.5,440.0 L1406.2,443.0 L1405.9,446.0 L1405.6,449.0 L1405.4,452.0 L1405.1,454.9 L1404.9,457.9 L1404.7,460.9 L1404.5,463.9 L1416.8,463.9 L1416.8,31.3 Z" fill="#c9e468" stroke="#c9e468" stroke-width="0.6"/>
<path d="M1497.7,31.3 L1494.5,34.3 L1491.3,37.3 L1488.1,40.3 L1484.8,43.2 L1481.6,46.2 L1478.4,49.2 L1475.2,52.2 L1472.0,55.2 L1468.8,58.2 L1465.6,61.1 L1462.4,64.1 L1459.2,67.1 L1456.0,70.1 L1452.8,73.1 L1449.6,76.1 L1446.4,79.0 L1443.2,82.0 L1440.0,85.0 L1436.8,88.0 L1433.6,91.0 L1430.4,94.0 L1427.2,96.9 L1424.0,99.9 L1420.8,102.9 L1417.6,105.9 L1414.4,108.9 L1411.2,111.9 L1408.0,114.8 L1404.8,117.8 L1401.6,120.8 L1398.4,123.8 L1395.2,126.8 L1392.0,129.8 L1388.8,132.7 L1385.6,135.7 L1382.4,138.7 L1379.2,141.7 L1376.0,144.7 L1372.8,147.7 L1369.6,150.6 L1366.4,153.6 L1363.2,156.6 L1360.0,159.6 L1356.8,162.6 L1353.6,165.6 L1350.4,168.5 L1347.2,171.5 L1343.9,174.5 L1340.7,177.5 L1337.5,180.5 L1334.3,183.5 L1331.1,186.4 L1327.9,189.4 L1324.7,192.4 L1321.5,195.4 L1318.3,198.4 L1315.1,201.4 L1311.9,204.3 L1308.7,207.3 L1305.5,210.3 L1302.3,213.3 L1299.1,216.3 L1295.9,219.3 L1292.7,222.2 L1289.5,225.2 L1286.3,228.2 L1283.1,231.2 L1279.9,234.2 L1276.7,237.2 L1273.5,240.1 L1270.3,243.1 L1267.1,246.1 L1263.9,249.1 L1260.7,252.1 L1257.5,255.1 L1254.3,258.0 L1251.1,261.0 L1247.9,264.0 L1244.7,267.0 L1241.5,270.0 L1238.3,273.0 L1235.1,275.9 L1231.9,278.9 L1228.7,281.9 L1225.5,284.9 L1222.3,287.9 L1219.1,290.9 L1215.9,293.8 L1212.7,296.8 L1209.5,299.8 L1206.3,302.8 L1203.1,305.8 L1199.8,308.8 L1196.6,311.7 L1193.4,314.7 L1190.2,317.7 L1187.0,320.7 L1183.8,323.7 L1180.6,326.7 L1177.4,329.6 L1174.2,332.6 L1171.0,335.6 L1167.8,338.6 L1164.6,341.6 L1161.4,344.6 L1158.2,347.5 L1155.0,350.5 L1151.8,353.5 L1148.6,356.5 L1145.4,359.5 L1142.2,362.5 L1139.0,365.4 L1135.8,368.4 L1132.6,371.4 L1129.4,374.4 L1126.2,377.4 L1123.0,380.4 L1119.8,383.3 L1116.6,386.3 L1113.4,389.3 L1110.2,392.3 L1107.0,395.3 L1103.8,398.3 L1100.6,401.2 L1097.4,404.2 L1094.2,407.2 L1091.0,410.2 L1087.8,413.2 L1084.6,416.2 L1081.4,419.1 L1078.2,422.1 L1075.0,425.1 L1071.8,428.1 L1068.6,431.1 L1065.4,434.1 L1062.2,437.0 L1058.9,440.0 L1055.7,443.0 L1052.5,446.0 L1049.3,449.0 L1046.1,452.0 L1042.9,454.9 L1039.7,457.9 L1036.5,460.9 L1033.3,463.9 L1416.8,463.9 L1416.8,31.3 Z" fill="#ffff68" stroke="#ffff68" stroke-width="0.6"/>
<path d="M1927.4,31.3 L1925.9,34.3 L1924.5,37.3 L1923.1,40.3 L1921.7,43.2 L1920.3,46.2 L1919.0,49.2 L1917.7,52.2 L1916.4,55.2 L1915.2,58.2 L1914.0,61.1 L1912.8,64.1 L1911.6,67.1 L1910.5,70.1 L1909.3,73.1 L1908.3,76.1 L1907.2,79.0 L1906.2,82.0 L1905.2,85.0 L1904.2,88.0 L1903.2,91.0 L1902.3,94.0 L1901.4,96.9 L1900.5,99.9 L1899.6,102.9 L1898.8,105.9 L1897.9,108.9 L1897.1,111.9 L1896.4,114.8 L1895.6,117.8 L1894.9,120.8 L1894.2,123.8 L1893.5,126.8 L1892.8,129.8 L1892.2,132.7 L1891.6,135.7 L1891.0,138.7 L1890.4,141.7 L1889.8,144.7 L1889.3,147.7 L1888.8,150.6 L1888.3,153.6 L1887.8,156.6 L1887.3,159.6 L1886.9,162.6 L1886.4,165.6 L1886.0,168.5 L1885.6,171.5 M1881.4,225.2 L1881.3,228.2 L1881.2,231.2 L1881.2,234.2 L1881.1,237.2 L1881.1,240.1 L1881.0,243.1 L1881.0,246.1 L1881.0,249.1 L1881.0,252.1 L1881.0,255.1 L1881.0,258.0 L1881.1,261.0 L1881.1,264.0 L1881.2,267.0 L1881.2,270.0 L1881.3,273.0 L1881.4,275.9 L1881.5,278.9 L1881.6,281.9 L1881.7,284.9 L1881.8,287.9 L1881.9,290.9 L1882.0,293.8 L1882.2,296.8 L1882.3,299.8 L1882.5,302.8 L1882.6,305.8 L1882.8,308.8 L1883.0,311.7 L1883.2,314.7 L1883.3,317.7 L1883.5,320.7 L1883.7,323.7 L1883.9,326.7 L1884.1,329.6 L1884.3,332.6 L1884.6,335.6 L1884.8,338.6 L1885.0,341.6 L1885.2,344.6 L1885.4,347.5 L1885.7,350.5 L1885.9,353.5 L1886.1,356.5 L1886.4,359.5 L1886.6,362.5 L1886.9,365.4 L1887.1,368.4 M1891.0,416.2 L1891.2,419.1 L1891.5,422.1 L1891.7,425.1 L1891.9,428.1 L1892.1,431.1 L1892.4,434.1 L1892.6,437.0 L1892.8,440.0 L1893.0,443.0 L1893.2,446.0 L1893.4,449.0 L1893.5,452.0 L1893.7,454.9 L1893.9,457.9 L1894.1,460.9 L1894.2,463.9" fill="none" stroke="#000" stroke-width="0.9"/>
<path d="M1812.9,31.3 L1811.0,34.3 L1809.0,37.3 L1807.2,40.3 L1805.3,43.2 L1803.5,46.2 L1801.6,49.2 L1799.9,52.2 L1798.1,55.2 L1796.4,58.2 L1794.7,61.1 L1793.0,64.1 L1791.4,67.1 L1789.8,70.1 L1788.2,73.1 L1786.6,76.1 L1785.1,79.0 L1783.6,82.0 L1782.1,85.0 L1780.6,88.0 L1779.2,91.0 L1777.8,94.0 L1776.4,96.9 L1775.1,99.9 L1773.7,102.9 L1772.4,105.9 L1771.1,108.9 L1769.9,111.9 L1768.6,114.8 L1767.4,117.8 L1766.2,120.8 L1765.1,123.8 L1763.9,126.8 L1762.8,129.8 L1761.7,132.7 L1760.6,135.7 L1759.6,138.7 L1758.5,141.7 L1757.5,144.7 L1756.5,147.7 L1755.6,150.6 L1754.6,153.6 L1753.7,156.6 L1752.8,159.6 L1751.9,162.6 L1751.0,165.6 L1750.2,168.5 L1749.3,171.5 M1737.4,225.2 L1736.9,228.2 L1736.4,231.2 L1735.9,234.2 L1735.5,237.2 L1735.0,240.1 L1734.6,243.1 L1734.2,246.1 L1733.8,249.1 L1733.4,252.1 L1733.0,255.1 L1732.6,258.0 L1732.3,261.0 L1731.9,264.0 L1731.6,267.0 L1731.3,270.0 L1730.9,273.0 L1730.6,275.9 L1730.4,278.9 L1730.1,281.9 L1729.8,284.9 L1729.6,287.9 L1729.3,290.9 L1729.1,293.8 L1728.9,296.8 L1728.6,299.8 L1728.4,302.8 L1728.2,305.8 L1728.1,308.8 L1727.9,311.7 L1727.7,314.7 L1727.5,317.7 L1727.4,320.7 L1727.2,323.7 L1727.1,326.7 L1727.0,329.6 L1726.8,332.6 L1726.7,335.6 L1726.6,338.6 L1726.5,341.6 L1726.4,344.6 L1726.3,347.5 L1726.2,350.5 L1726.1,353.5 L1726.1,356.5 L1726.0,359.5 L1725.9,362.5 L1725.9,365.4 M1725.3,413.2 L1725.3,416.2 L1725.3,419.1 L1725.3,422.1 L1725.2,425.1 L1725.2,428.1 L1725.2,431.1 L1725.2,434.1 L1725.2,437.0 L1725.2,440.0 L1725.1,443.0 L1725.1,446.0 L1725.1,449.0 L1725.1,452.0 L1725.0,454.9 L1725.0,457.9 L1725.0,460.9 L1724.9,463.9" fill="none" stroke="#000" stroke-width="0.9"/>
<path d="M1703.5,31.3 L1701.1,34.3 L1698.7,37.3 L1696.4,40.3 L1694.1,43.2 L1691.8,46.2 L1689.6,49.2 L1687.4,52.2 L1685.2,55.2 L1683.0,58.2 L1680.9,61.1 L1678.8,64.1 L1676.7,67.1 L1674.6,70.1 L1672.6,73.1 L1670.6,76.1 L1668.6,79.0 L1666.7,82.0 L1664.8,85.0 L1662.9,88.0 L1661.0,91.0 L1659.2,94.0 L1657.3,96.9 L1655.6,99.9 L1653.8,102.9 L1652.0,105.9 L1650.3,108.9 L1648.6,111.9 L1646.9,114.8 L1645.3,117.8 L1643.7,120.8 L1642.1,123.8 L1640.5,126.8 L1638.9,129.8 L1637.4,132.7 L1635.9,135.7 L1634.4,138.7 L1632.9,141.7 L1631.5,144.7 L1630.1,147.7 L1628.7,150.6 L1627.3,153.6 L1625.9,156.6 L1624.6,159.6 L1623.3,162.6 L1622.0,165.6 L1620.7,168.5 L1619.4,171.5 L1618.2,174.5 L1617.0,177.5 M1600.0,225.2 L1599.1,228.2 L1598.2,231.2 L1597.3,234.2 L1596.5,237.2 L1595.6,240.1 L1594.8,243.1 L1594.0,246.1 L1593.2,249.1 L1592.4,252.1 L1591.6,255.1 L1590.9,258.0 L1590.1,261.0 L1589.4,264.0 L1588.7,267.0 L1588.0,270.0 L1587.3,273.0 L1586.6,275.9 L1586.0,278.9 L1585.3,281.9 L1584.7,284.9 L1584.0,287.9 L1583.4,290.9 L1582.8,293.8 L1582.2,296.8 L1581.7,299.8 L1581.1,302.8 L1580.5,305.8 L1580.0,308.8 L1579.5,311.7 L1579.0,314.7 L1578.4,317.7 L1577.9,320.7 L1577.5,323.7 L1577.0,326.7 L1576.5,329.6 L1576.0,332.6 L1575.6,335.6 L1575.2,338.6 L1574.7,341.6 L1574.3,344.6 L1573.9,347.5 L1573.5,350.5 L1573.1,353.5 L1572.7,356.5 L1572.3,359.5 L1571.9,362.5 L1571.6,365.4 M1566.5,413.2 L1566.2,416.2 L1566.0,419.1 L1565.7,422.1 L1565.4,425.1 L1565.2,428.1 L1564.9,431.1 L1564.7,434.1 L1564.4,437.0 L1564.2,440.0 L1563.9,443.0 L1563.7,446.0 L1563.5,449.0 L1563.2,452.0 L1563.0,454.9 L1562.7,457.9 L1562.5,460.9 L1562.3,463.9" fill="none" stroke="#000" stroke-width="0.9"/>
<path d="M1598.9,31.3 L1596.3,34.3 L1593.7,37.3 L1591.1,40.3 L1588.5,43.2 L1586.0,46.2 L1583.5,49.2 L1581.0,52.2 L1578.5,55.2 L1576.0,58.2 L1573.6,61.1 L1571.1,64.1 L1568.7,67.1 L1566.3,70.1 L1564.0,73.1 L1561.6,76.1 L1559.3,79.0 L1557.0,82.0 L1554.7,85.0 L1552.4,88.0 L1550.2,91.0 L1547.9,94.0 L1545.7,96.9 L1543.5,99.9 L1541.3,102.9 L1539.2,105.9 L1537.0,108.9 L1534.9,111.9 L1532.8,114.8 L1530.7,117.8 L1528.6,120.8 L1526.6,123.8 L1524.6,126.8 L1522.5,129.8 L1520.6,132.7 L1518.6,135.7 M1491.1,180.5 L1489.4,183.5 L1487.8,186.4 L1486.1,189.4 L1484.5,192.4 L1482.9,195.4 L1481.3,198.4 L1479.7,201.4 L1478.1,204.3 L1476.6,207.3 L1475.1,210.3 L1473.5,213.3 L1472.1,216.3 L1470.6,219.3 L1469.1,222.2 L1467.7,225.2 L1466.3,228.2 L1464.8,231.2 L1463.5,234.2 L1462.1,237.2 L1460.7,240.1 L1459.4,243.1 L1458.1,246.1 L1456.8,249.1 L1455.5,252.1 L1454.2,255.1 L1452.9,258.0 L1451.7,261.0 L1450.5,264.0 L1449.3,267.0 L1448.1,270.0 L1446.9,273.0 L1445.8,275.9 L1444.6,278.9 L1443.5,281.9 L1442.4,284.9 L1441.3,287.9 L1440.2,290.9 L1439.2,293.8 L1438.1,296.8 L1437.1,299.8 L1436.1,302.8 L1435.1,305.8 L1434.1,308.8 L1433.2,311.7 L1432.2,314.7 L1431.3,317.7 L1430.4,320.7 L1429.5,323.7 L1428.6,326.7 L1427.7,329.6 L1426.9,332.6 L1426.0,335.6 L1425.2,338.6 L1424.4,341.6 L1423.6,344.6 L1422.9,347.5 L1422.1,350.5 L1421.4,353.5 L1420.6,356.5 L1419.9,359.5 L1419.2,362.5 L1418.6,365.4 L1417.9,368.4 L1417.2,371.4 L1416.6,374.4 L1416.0,377.4 L1415.4,380.4 L1414.8,383.3 L1414.2,386.3 L1413.7,389.3 L1413.1,392.3 L1412.6,395.3 L1412.1,398.3 L1411.6,401.2 L1411.1,404.2 L1410.6,407.2 L1410.2,410.2 L1409.8,413.2 L1409.3,416.2 L1408.9,419.1 L1408.5,422.1 L1408.1,425.1 L1407.8,428.1 L1407.4,431.1 L1407.1,434.1 L1406.8,437.0 L1406.5,440.0 L1406.2,443.0 L1405.9,446.0 L1405.6,449.0 L1405.4,452.0 L1405.1,454.9 L1404.9,457.9 L1404.7,460.9 L1404.5,463.9" fill="none" stroke="#000" stroke-width="0.9"/>
<path d="M1497.7,31.3 L1494.5,34.3 L1491.3,37.3 L1488.1,40.3 L1484.8,43.2 L1481.6,46.2 L1478.4,49.2 L1475.2,52.2 L1472.0,55.2 L1468.8,58.2 L1465.6,61.1 L1462.4,64.1 L1459.2,67.1 L1456.0,70.1 L1452.8,73.1 L1449.6,76.1 L1446.4,79.0 L1443.2,82.0 L1440.0,85.0 L1436.8,88.0 L1433.6,91.0 L1430.4,94.0 L1427.2,96.9 L1424.0,99.9 L1420.8,102.9 L1417.6,105.9 L1414.4,108.9 L1411.2,111.9 L1408.0,114.8 L1404.8,117.8 L1401.6,120.8 L1398.4,123.8 L1395.2,126.8 L1392.0,129.8 L1388.8,132.7 L1385.6,135.7 L1382.4,138.7 L1379.2,141.7 L1376.0,144.7 L1372.8,147.7 L1369.6,150.6 L1366.4,153.6 L1363.2,156.6 L1360.0,159.6 L1356.8,162.6 L1353.6,165.6 L1350.4,168.5 L1347.2,171.5 L1343.9,174.5 L1340.7,177.5 L1337.5,180.5 L1334.3,183.5 L1331.1,186.4 L1327.9,189.4 L1324.7,192.4 L1321.5,195.4 L1318.3,198.4 L1315.1,201.4 L1311.9,204.3 L1308.7,207.3 L1305.5,210.3 L1302.3,213.3 L1299.1,216.3 L1295.9,219.3 L1292.7,222.2 L1289.5,225.2 L1286.3,228.2 L1283.1,231.2 L1279.9,234.2 L1276.7,237.2 L1273.5,240.1 L1270.3,243.1 L1267.1,246.1 L1263.9,249.1 L1260.7,252.1 L1257.5,255.1 L1254.3,258.0 L1251.1,261.0 L1247.9,264.0 L1244.7,267.0 L1241.5,270.0 L1238.3,273.0 L1235.1,275.9 L1231.9,278.9 L1228.7,281.9 L1225.5,284.9 L1222.3,287.9 L1219.1,290.9 L1215.9,293.8 L1212.7,296.8 L1209.5,299.8 L1206.3,302.8 L1203.1,305.8 L1199.8,308.8 L1196.6,311.7 L1193.4,314.7 L1190.2,317.7 L1187.0,320.7 L1183.8,323.7 L1180.6,326.7 L1177.4,329.6 L1174.2,332.6 L1171.0,335.6 L1167.8,338.6 L1164.6,341.6 L1161.4,344.6 L1158.2,347.5 L1155.0,350.5 L1151.8,353.5 L1148.6,356.5 L1145.4,359.5 L1142.2,362.5 L1139.0,365.4 L1135.8,368.4 L1132.6,371.4 L1129.4,374.4 L1126.2,377.4 L1123.0,380.4 L1119.8,383.3 L1116.6,386.3 L1113.4,389.3 L1110.2,392.3 L1107.0,395.3 L1103.8,398.3 L1100.6,401.2 L1097.4,404.2 L1094.2,407.2 L1091.0,410.2 L1087.8,413.2 L1084.6,416.2 L1081.4,419.1 L1078.2,422.1 L1075.0,425.1 L1071.8,428.1 L1068.6,431.1 L1065.4,434.1 L1062.2,437.0 L1058.9,440.0 L1055.7,443.0 L1052.5,446.0 L1049.3,449.0 L1046.1,452.0 L1042.9,454.9 L1039.7,457.9 L1036.5,460.9 L1033.3,463.9" fill="none" stroke="#000" stroke-width="0.9"/>
</g>
<text x="1882.92" y="203.97" transform="rotate(-85.54 1882.92 198.25)" font-size="16.1" text-anchor="middle" fill="#000">4050</text>
<text x="1889.12" y="398.42" transform="rotate(85.27 1889.12 392.70)" font-size="16.1" text-anchor="middle" fill="#000">4050</text>
<text x="1742.71" y="203.97" transform="rotate(-77.53 1742.71 198.25)" font-size="16.1" text-anchor="middle" fill="#000">4100</text>
<text x="1725.52" y="394.42" transform="rotate(-89.37 1725.52 388.70)" font-size="16.1" text-anchor="middle" fill="#000">4100</text>
<text x="1607.95" y="207.02" transform="rotate(-70.48 1607.95 201.30)" font-size="16.1" text-anchor="middle" fill="#000">4150</text>
<text x="1568.92" y="394.42" transform="rotate(-83.98 1568.92 388.70)" font-size="16.1" text-anchor="middle" fill="#000">4150</text>
<text x="1504.96" y="162.82" transform="rotate(-58.40 1504.96 157.10)" font-size="16.1" text-anchor="middle" fill="#000">4200</text>
<path d="M1561.97,455.90 V450.40 M1561.97,39.30 V44.80 M1647.13,455.90 V450.40 M1647.13,39.30 V44.80 M1732.30,455.90 V450.40 M1732.30,39.30 V44.80 M1817.47,455.90 V450.40 M1817.47,39.30 V44.80 M1902.63,455.90 V450.40 M1902.63,39.30 V44.80 M1476.80,50.87 H1482.30 M1987.80,50.87 H1982.30 M1476.80,108.73 H1482.30 M1987.80,108.73 H1982.30 M1476.80,166.59 H1482.30 M1987.80,166.59 H1982.30 M1476.80,224.46 H1482.30 M1987.80,224.46 H1982.30 M1476.80,282.32 H1482.30 M1987.80,282.32 H1982.30 M1476.80,340.18 H1482.30 M1987.80,340.18 H1982.30 M1476.80,398.04 H1482.30 M1987.80,398.04 H1982.30" stroke="#262626" stroke-opacity="0.9" stroke-width="1" fill="none"/>
<rect x="1476.80" y="39.30" width="511.00" height="416.60" fill="none" stroke="#262626" stroke-opacity="0.7" stroke-width="0.9"/>
<text x="1476.80" y="482.20" font-size="20" text-anchor="middle" fill="#262626">0</text>
<text x="1561.97" y="482.20" font-size="20" text-anchor="middle" fill="#262626">5</text>
<text x="1647.13" y="482.20" font-size="20" text-anchor="middle" fill="#262626">10</text>
<text x="1732.30" y="482.20" font-size="20" text-anchor="middle" fill="#262626">15</text>
<text x="1817.47" y="482.20" font-size="20" text-anchor="middle" fill="#262626">20</text>
<text x="1902.63" y="482.20" font-size="20" text-anchor="middle" fill="#262626">25</text>
<text x="1987.80" y="482.20" font-size="20" text-anchor="middle" fill="#262626">30</text>
<text x="1470.00" y="58.17" font-size="20" text-anchor="end" fill="#262626">265</text>
<text x="1470.00" y="116.03" font-size="20" text-anchor="end" fill="#262626">270</text>
<text x="1470.00" y="173.89" font-size="20" text-anchor="end" fill="#262626">275</text>
<text x="1470.00" y="231.76" font-size="20" text-anchor="end" fill="#262626">280</text>
<text x="1470.00" y="289.62" font-size="20" text-anchor="end" fill="#262626">285</text>
<text x="1470.00" y="347.48" font-size="20" text-anchor="end" fill="#262626">290</text>
<text x="1470.00" y="405.34" font-size="20" text-anchor="end" fill="#262626">295</text>
<text x="1470.00" y="463.20" font-size="20" text-anchor="end" fill="#262626">300</text>
<text x="1732.30" y="508.80" font-size="22" text-anchor="middle" fill="#262626">Salinity (g/kg)</text>
<text x="1428.00" y="247.60" font-size="22" text-anchor="middle" fill="#262626" transform="rotate(-90 1428.00 247.60)">Temperature (K)</text>
<text x="1732.30" y="24.20" font-size="22.3" font-weight="bold" text-anchor="middle" fill="#000"><tspan letter-spacing="0.17">Heat Capacity C</tspan><tspan dy="9.8" font-size="16">p</tspan><tspan dy="-9.8" letter-spacing="0.17"> (J/kg/K)</tspan></text>
<text x="1485.40" y="23.60" font-size="31" font-weight="bold" fill="#000">(c)</text>
<clipPath id="clipc01"><rect x="132.00" y="595.20" width="511.00" height="416.60"/></clipPath>
<g clip-path="url(#clipc01)">
<rect x="132.00" y="595.20" width="511.00" height="416.60" fill="#ffff68"/>
<path d="M569.6,587.2 L568.9,590.2 L568.2,593.2 L567.6,596.2 L567.0,599.1 L566.4,602.1 L565.9,605.1 L565.4,608.1 L564.9,611.1 L564.5,614.1 L564.0,617.0 L563.6,620.0 L563.3,623.0 L562.9,626.0 L562.6,629.0 L562.3,632.0 L562.0,634.9 L561.8,637.9 L561.6,640.9 L561.4,643.9 L561.2,646.9 L561.1,649.9 L561.0,652.8 L560.9,655.8 L560.8,658.8 L560.8,661.8 L560.8,664.8 L560.8,667.8 L560.9,670.7 L560.9,673.7 L561.0,676.7 L561.1,679.7 L561.3,682.7 L561.4,685.7 L561.6,688.6 L561.8,691.6 L562.1,694.6 L562.3,697.6 L562.6,700.6 L562.9,703.6 L563.2,706.5 L563.6,709.5 L563.9,712.5 L564.3,715.5 L564.7,718.5 L565.2,721.5 L565.6,724.4 L566.1,727.4 L566.6,730.4 L567.1,733.4 L567.7,736.4 L568.2,739.4 L568.8,742.3 L569.4,745.3 L570.1,748.3 L570.7,751.3 L571.4,754.3 L572.1,757.3 L572.8,760.2 L573.5,763.2 L574.2,766.2 L575.0,769.2 L575.8,772.2 L576.6,775.2 L577.4,778.1 L578.2,781.1 L579.1,784.1 L580.0,787.1 L580.8,790.1 L581.8,793.1 L582.7,796.0 L583.6,799.0 L584.6,802.0 L585.6,805.0 L586.6,808.0 L587.6,811.0 L588.6,813.9 L589.7,816.9 L590.7,819.9 L591.8,822.9 L592.9,825.9 L594.0,828.9 L595.1,831.8 L596.2,834.8 L597.4,837.8 L598.6,840.8 L599.7,843.8 L600.9,846.8 L602.1,849.7 L603.3,852.7 L604.6,855.7 L605.8,858.7 L607.1,861.7 L608.3,864.7 L609.6,867.6 L610.9,870.6 L612.2,873.6 L613.5,876.6 L614.8,879.6 L616.1,882.6 L617.5,885.5 L618.8,888.5 L620.2,891.5 L621.5,894.5 L622.9,897.5 L624.3,900.5 L625.7,903.4 L627.1,906.4 L628.5,909.4 L629.9,912.4 L631.3,915.4 L632.7,918.4 L634.1,921.3 L635.5,924.3 L637.0,927.3 L638.4,930.3 L639.9,933.3 L641.3,936.3 L642.8,939.2 L644.2,942.2 L645.7,945.2 L647.2,948.2 L648.6,951.2 L650.1,954.2 L651.6,957.1 L653.0,960.1 L654.5,963.1 L656.0,966.1 L657.5,969.1 L659.0,972.1 L660.4,975.0 L661.9,978.0 L663.4,981.0 L664.9,984.0 L666.4,987.0 L667.8,990.0 L669.3,992.9 L670.8,995.9 L672.3,998.9 L673.7,1001.9 L675.2,1004.9 L676.7,1007.9 L678.1,1010.8 L679.6,1013.8 L681.1,1016.8 L682.5,1019.8 L72.0,1019.8 L72.0,587.2 Z" fill="#cae468" stroke="#cae468" stroke-width="0.6"/>
<path d="M466.0,587.2 L465.2,590.2 L464.5,593.2 L463.8,596.2 L463.1,599.1 L462.5,602.1 L461.9,605.1 L461.3,608.1 L460.8,611.1 L460.2,614.1 L459.7,617.0 L459.3,620.0 L458.8,623.0 L458.4,626.0 L458.0,629.0 L457.6,632.0 L457.3,634.9 L456.9,637.9 L456.6,640.9 L456.4,643.9 L456.1,646.9 L455.9,649.9 L455.7,652.8 L455.5,655.8 L455.4,658.8 L455.2,661.8 L455.1,664.8 L455.1,667.8 L455.0,670.7 L455.0,673.7 L455.0,676.7 L455.0,679.7 L455.1,682.7 L455.1,685.7 L455.2,688.6 L455.3,691.6 L455.5,694.6 L455.6,697.6 L455.8,700.6 L456.0,703.6 L456.2,706.5 L456.5,709.5 L456.7,712.5 L457.0,715.5 L457.3,718.5 L457.7,721.5 L458.0,724.4 L458.4,727.4 L458.8,730.4 L459.2,733.4 L459.6,736.4 L460.1,739.4 L460.6,742.3 L461.1,745.3 L461.6,748.3 L462.1,751.3 L462.7,754.3 L463.3,757.3 L463.9,760.2 L464.5,763.2 L465.1,766.2 L465.8,769.2 L466.5,772.2 L467.2,775.2 L467.9,778.1 L468.6,781.1 L469.4,784.1 L470.2,787.1 L470.9,790.1 L471.8,793.1 L472.6,796.0 L473.4,799.0 L474.3,802.0 L475.2,805.0 L476.1,808.0 L477.0,811.0 L477.9,813.9 L478.8,816.9 L479.8,819.9 L480.8,822.9 L481.8,825.9 L482.8,828.9 L483.8,831.8 L484.9,834.8 L485.9,837.8 L487.0,840.8 L488.1,843.8 L489.2,846.8 L490.4,849.7 L491.5,852.7 L492.7,855.7 L493.8,858.7 L495.0,861.7 L496.2,864.7 L497.4,867.6 L498.7,870.6 L499.9,873.6 L501.2,876.6 L502.4,879.6 L503.7,882.6 L505.0,885.5 L506.3,888.5 L507.7,891.5 L509.0,894.5 L510.4,897.5 L511.7,900.5 L513.1,903.4 L514.5,906.4 L515.9,909.4 L517.3,912.4 L518.8,915.4 L520.2,918.4 L521.7,921.3 L523.1,924.3 L524.6,927.3 L526.1,930.3 L527.6,933.3 L529.1,936.3 L530.6,939.2 L532.2,942.2 L533.7,945.2 L535.3,948.2 L536.9,951.2 L538.4,954.2 L540.0,957.1 L541.6,960.1 L543.2,963.1 L544.9,966.1 L546.5,969.1 L548.1,972.1 L549.8,975.0 L551.4,978.0 L553.1,981.0 L554.8,984.0 L556.5,987.0 L558.2,990.0 L559.9,992.9 L561.6,995.9 L563.3,998.9 L565.0,1001.9 L566.8,1004.9 L568.5,1007.9 L570.3,1010.8 L572.0,1013.8 L573.8,1016.8 L575.6,1019.8 L72.0,1019.8 L72.0,587.2 Z" fill="#95ca68" stroke="#95ca68" stroke-width="0.6"/>
<path d="M364.4,587.2 L363.5,590.2 L362.6,593.2 L361.7,596.2 L360.8,599.1 L360.0,602.1 L359.2,605.1 L358.4,608.1 L357.7,611.1 L357.0,614.1 L356.3,617.0 L355.6,620.0 L355.0,623.0 L354.4,626.0 L353.8,629.0 L353.3,632.0 L352.7,634.9 L352.2,637.9 L351.8,640.9 L351.3,643.9 L350.9,646.9 L350.6,649.9 L350.2,652.8 L349.9,655.8 L349.6,658.8 L349.3,661.8 L349.0,664.8 L348.8,667.8 L348.6,670.7 L348.5,673.7 L348.3,676.7 L348.2,679.7 L348.1,682.7 L348.0,685.7 L348.0,688.6 L348.0,691.6 L348.0,694.6 L348.0,697.6 L348.0,700.6 L348.1,703.6 L348.2,706.5 L348.3,709.5 L348.5,712.5 L348.7,715.5 L348.9,718.5 L349.1,721.5 L349.3,724.4 L349.6,727.4 L349.9,730.4 L350.2,733.4 L350.5,736.4 L350.9,739.4 L351.2,742.3 L351.6,745.3 L352.0,748.3 L352.5,751.3 L353.0,754.3 L353.4,757.3 L353.9,760.2 L354.5,763.2 L355.0,766.2 L355.6,769.2 L356.2,772.2 L356.8,775.2 L357.4,778.1 L358.1,781.1 L358.7,784.1 L359.4,787.1 L360.1,790.1 L360.8,793.1 L361.6,796.0 L362.4,799.0 L363.1,802.0 L363.9,805.0 L364.8,808.0 L365.6,811.0 L366.5,813.9 L367.3,816.9 L368.2,819.9 L369.1,822.9 L370.1,825.9 L371.0,828.9 L372.0,831.8 L373.0,834.8 L374.0,837.8 L375.0,840.8 L376.0,843.8 L377.1,846.8 L378.1,849.7 L379.2,852.7 L380.3,855.7 L381.4,858.7 L382.5,861.7 L383.7,864.7 L384.8,867.6 L386.0,870.6 L387.2,873.6 L388.4,876.6 L389.6,879.6 L390.9,882.6 L392.1,885.5 L393.4,888.5 L394.7,891.5 L396.0,894.5 L397.3,897.5 L398.6,900.5 L399.9,903.4 L401.3,906.4 L402.6,909.4 L404.0,912.4 L405.4,915.4 L406.8,918.4 L408.2,921.3 L409.6,924.3 L411.0,927.3 L412.5,930.3 L414.0,933.3 L415.4,936.3 L416.9,939.2 L418.4,942.2 L419.9,945.2 L421.4,948.2 L423.0,951.2 L424.5,954.2 L426.0,957.1 L427.6,960.1 L429.2,963.1 L430.8,966.1 L432.3,969.1 L433.9,972.1 L435.6,975.0 L437.2,978.0 L438.8,981.0 L440.5,984.0 L442.1,987.0 L443.8,990.0 L445.4,992.9 L447.1,995.9 L448.8,998.9 L450.5,1001.9 L452.2,1004.9 L453.9,1007.9 L455.6,1010.8 L457.3,1013.8 L459.1,1016.8 L460.8,1019.8 L72.0,1019.8 L72.0,587.2 Z" fill="#60af68" stroke="#60af68" stroke-width="0.6"/>
<path d="M261.1,587.2 L260.1,590.2 L259.2,593.2 L258.3,596.2 L257.4,599.1 L256.5,602.1 L255.6,605.1 L254.8,608.1 L254.0,611.1 L253.2,614.1 L252.5,617.0 L251.8,620.0 L251.1,623.0 L250.4,626.0 L249.7,629.0 L249.1,632.0 L248.5,634.9 L248.0,637.9 L247.4,640.9 L246.9,643.9 L246.4,646.9 L246.0,649.9 L245.5,652.8 L245.1,655.8 L244.7,658.8 L244.3,661.8 L244.0,664.8 L243.7,667.8 L243.4,670.7 L243.1,673.7 L242.9,676.7 L242.6,679.7 L242.4,682.7 L242.3,685.7 L242.1,688.6 L242.0,691.6 L241.9,694.6 L241.8,697.6 L241.7,700.6 L241.7,703.6 L241.7,706.5 L241.7,709.5 L241.7,712.5 L241.8,715.5 L241.9,718.5 L242.0,721.5 L242.1,724.4 L242.2,727.4 L242.4,730.4 L242.6,733.4 L242.8,736.4 L243.0,739.4 L243.3,742.3 L243.6,745.3 L243.9,748.3 L244.2,751.3 L244.5,754.3 L244.9,757.3 L245.2,760.2 L245.6,763.2 L246.1,766.2 L246.5,769.2 L247.0,772.2 L247.5,775.2 L248.0,778.1 L248.5,781.1 L249.0,784.1 L249.6,787.1 L250.2,790.1 L250.8,793.1 L251.4,796.0 L252.0,799.0 L252.7,802.0 L253.4,805.0 L254.1,808.0 L254.8,811.0 L255.5,813.9 L256.3,816.9 L257.1,819.9 L257.8,822.9 L258.7,825.9 L259.5,828.9 L260.3,831.8 L261.2,834.8 L262.1,837.8 L263.0,840.8 L263.9,843.8 L264.8,846.8 L265.8,849.7 L266.8,852.7 L267.8,855.7 L268.8,858.7 L269.8,861.7 L270.8,864.7 L271.9,867.6 L273.0,870.6 L274.0,873.6 L275.2,876.6 L276.3,879.6 L277.4,882.6 L278.6,885.5 L279.7,888.5 L280.9,891.5 L282.1,894.5 L283.4,897.5 L284.6,900.5 L285.8,903.4 L287.1,906.4 L288.4,909.4 L289.7,912.4 L291.0,915.4 L292.3,918.4 L293.7,921.3 L295.0,924.3 L296.4,927.3 L297.8,930.3 L299.2,933.3 L300.6,936.3 L302.0,939.2 L303.5,942.2 L304.9,945.2 L306.4,948.2 L307.9,951.2 L309.4,954.2 L310.9,957.1 L312.4,960.1 L314.0,963.1 L315.5,966.1 L317.1,969.1 L318.6,972.1 L320.2,975.0 L321.8,978.0 L323.5,981.0 L325.1,984.0 L326.7,987.0 L328.4,990.0 L330.0,992.9 L331.7,995.9 L333.4,998.9 L335.1,1001.9 L336.8,1004.9 L338.6,1007.9 L340.3,1010.8 L342.0,1013.8 L343.8,1016.8 L345.6,1019.8 L72.0,1019.8 L72.0,587.2 Z" fill="#2a9568" stroke="#2a9568" stroke-width="0.6"/>
<path d="M158.1,587.2 L157.1,590.2 L156.2,593.2 L155.2,596.2 L154.3,599.1 L153.4,602.1 L152.6,605.1 L151.7,608.1 L150.9,611.1 L150.1,614.1 L149.3,617.0 L148.6,620.0 L147.9,623.0 L147.1,626.0 L146.5,629.0 L145.8,632.0 L145.1,634.9 L144.5,637.9 L143.9,640.9 L143.3,643.9 L142.8,646.9 L142.2,649.9 L141.7,652.8 L141.2,655.8 L140.8,658.8 L140.3,661.8 L139.9,664.8 L139.5,667.8 L139.1,670.7 L138.7,673.7 L138.4,676.7 L138.0,679.7 L137.7,682.7 L137.4,685.7 L137.2,688.6 L136.9,691.6 L136.7,694.6 L136.5,697.6 L136.3,700.6 L136.2,703.6 L136.1,706.5 L135.9,709.5 L135.8,712.5 L135.8,715.5 L135.7,718.5 L135.7,721.5 L135.7,724.4 L135.7,727.4 L135.7,730.4 L135.7,733.4 L135.8,736.4 L135.9,739.4 L136.0,742.3 L136.1,745.3 L136.3,748.3 L136.4,751.3 L136.6,754.3 L136.8,757.3 L137.1,760.2 L137.3,763.2 L137.6,766.2 L137.9,769.2 L138.2,772.2 L138.5,775.2 L138.9,778.1 L139.2,781.1 L139.6,784.1 L140.0,787.1 L140.4,790.1 L140.9,793.1 L141.3,796.0 L141.8,799.0 L142.3,802.0 L142.9,805.0 L143.4,808.0 L144.0,811.0 L144.5,813.9 L145.1,816.9 L145.8,819.9 L146.4,822.9 L147.1,825.9 L147.7,828.9 L148.4,831.8 L149.1,834.8 L149.9,837.8 L150.6,840.8 L151.4,843.8 L152.2,846.8 L153.0,849.7 L153.8,852.7 L154.6,855.7 L155.5,858.7 L156.4,861.7 L157.3,864.7 L158.2,867.6 L159.1,870.6 L160.1,873.6 L161.1,876.6 L162.1,879.6 L163.1,882.6 L164.1,885.5 L165.1,888.5 L166.2,891.5 L167.3,894.5 L168.4,897.5 L169.5,900.5 L170.6,903.4 L171.8,906.4 L173.0,909.4 L174.2,912.4 L175.4,915.4 L176.6,918.4 L177.8,921.3 L179.1,924.3 L180.4,927.3 L181.7,930.3 L183.0,933.3 L184.3,936.3 L185.7,939.2 L187.0,942.2 L188.4,945.2 L189.8,948.2 L191.2,951.2 L192.6,954.2 L194.1,957.1 L195.6,960.1 L197.1,963.1 L198.6,966.1 L200.1,969.1 L201.6,972.1 L203.2,975.0 L204.7,978.0 L206.3,981.0 L207.9,984.0 L209.5,987.0 L211.2,990.0 L212.8,992.9 L214.5,995.9 L216.2,998.9 L217.9,1001.9 L219.6,1004.9 L221.3,1007.9 L223.1,1010.8 L224.9,1013.8 L226.7,1016.8 L228.5,1019.8 L72.0,1019.8 L72.0,587.2 Z" fill="#008068" stroke="#008068" stroke-width="0.6"/>
<path d="M569.6,587.2 L568.9,590.2 L568.2,593.2 L567.6,596.2 L567.0,599.1 L566.4,602.1 L565.9,605.1 L565.4,608.1 L564.9,611.1 L564.5,614.1 L564.0,617.0 L563.6,620.0 L563.3,623.0 L562.9,626.0 M560.9,670.7 L560.9,673.7 L561.0,676.7 L561.1,679.7 L561.3,682.7 L561.4,685.7 L561.6,688.6 L561.8,691.6 L562.1,694.6 L562.3,697.6 L562.6,700.6 L562.9,703.6 L563.2,706.5 L563.6,709.5 L563.9,712.5 L564.3,715.5 L564.7,718.5 L565.2,721.5 L565.6,724.4 L566.1,727.4 L566.6,730.4 L567.1,733.4 L567.7,736.4 L568.2,739.4 L568.8,742.3 L569.4,745.3 L570.1,748.3 L570.7,751.3 L571.4,754.3 L572.1,757.3 L572.8,760.2 L573.5,763.2 L574.2,766.2 L575.0,769.2 L575.8,772.2 L576.6,775.2 L577.4,778.1 L578.2,781.1 L579.1,784.1 L580.0,787.1 L580.8,790.1 L581.8,793.1 L582.7,796.0 L583.6,799.0 L584.6,802.0 L585.6,805.0 L586.6,808.0 L587.6,811.0 L588.6,813.9 M605.8,858.7 L607.1,861.7 L608.3,864.7 L609.6,867.6 L610.9,870.6 L612.2,873.6 L613.5,876.6 L614.8,879.6 L616.1,882.6 L617.5,885.5 L618.8,888.5 L620.2,891.5 L621.5,894.5 L622.9,897.5 L624.3,900.5 L625.7,903.4 L627.1,906.4 L628.5,909.4 L629.9,912.4 L631.3,915.4 L632.7,918.4 L634.1,921.3 L635.5,924.3 L637.0,927.3 L638.4,930.3 L639.9,933.3 L641.3,936.3 L642.8,939.2 L644.2,942.2 L645.7,945.2 L647.2,948.2 L648.6,951.2 L650.1,954.2 L651.6,957.1 L653.0,960.1 L654.5,963.1 L656.0,966.1 L657.5,969.1 L659.0,972.1 L660.4,975.0 L661.9,978.0 L663.4,981.0 L664.9,984.0 L666.4,987.0 L667.8,990.0 L669.3,992.9 L670.8,995.9 L672.3,998.9 L673.7,1001.9 L675.2,1004.9 L676.7,1007.9 L678.1,1010.8 L679.6,1013.8 L681.1,1016.8 L682.5,1019.8" fill="none" stroke="#000" stroke-width="0.9"/>
<path d="M466.0,587.2 L465.2,590.2 L464.5,593.2 L463.8,596.2 L463.1,599.1 L462.5,602.1 L461.9,605.1 L461.3,608.1 L460.8,611.1 L460.2,614.1 L459.7,617.0 L459.3,620.0 L458.8,623.0 L458.4,626.0 L458.0,629.0 L457.6,632.0 L457.3,634.9 L456.9,637.9 M455.1,685.7 L455.2,688.6 L455.3,691.6 L455.5,694.6 L455.6,697.6 L455.8,700.6 L456.0,703.6 L456.2,706.5 L456.5,709.5 L456.7,712.5 L457.0,715.5 L457.3,718.5 L457.7,721.5 L458.0,724.4 L458.4,727.4 L458.8,730.4 L459.2,733.4 L459.6,736.4 L460.1,739.4 L460.6,742.3 L461.1,745.3 L461.6,748.3 L462.1,751.3 L462.7,754.3 L463.3,757.3 L463.9,760.2 L464.5,763.2 L465.1,766.2 L465.8,769.2 L466.5,772.2 L467.2,775.2 L467.9,778.1 L468.6,781.1 L469.4,784.1 L470.2,787.1 L470.9,790.1 L471.8,793.1 L472.6,796.0 L473.4,799.0 L474.3,802.0 L475.2,805.0 L476.1,808.0 L477.0,811.0 L477.9,813.9 L478.8,816.9 L479.8,819.9 L480.8,822.9 L481.8,825.9 L482.8,828.9 M498.7,870.6 L499.9,873.6 L501.2,876.6 L502.4,879.6 L503.7,882.6 L505.0,885.5 L506.3,888.5 L507.7,891.5 L509.0,894.5 L510.4,897.5 L511.7,900.5 L513.1,903.4 L514.5,906.4 L515.9,909.4 L517.3,912.4 L518.8,915.4 L520.2,918.4 L521.7,921.3 L523.1,924.3 L524.6,927.3 L526.1,930.3 L527.6,933.3 L529.1,936.3 L530.6,939.2 L532.2,942.2 L533.7,945.2 L535.3,948.2 L536.9,951.2 L538.4,954.2 L540.0,957.1 L541.6,960.1 L543.2,963.1 L544.9,966.1 L546.5,969.1 L548.1,972.1 L549.8,975.0 L551.4,978.0 L553.1,981.0 L554.8,984.0 L556.5,987.0 L558.2,990.0 L559.9,992.9 L561.6,995.9 L563.3,998.9 L565.0,1001.9 L566.8,1004.9 L568.5,1007.9 L570.3,1010.8 L572.0,1013.8 L573.8,1016.8 L575.6,1019.8" fill="none" stroke="#000" stroke-width="0.9"/>
<path d="M364.4,587.2 L363.5,590.2 L362.6,593.2 L361.7,596.2 L360.8,599.1 L360.0,602.1 L359.2,605.1 L358.4,608.1 L357.7,611.1 L357.0,614.1 L356.3,617.0 L355.6,620.0 L355.0,623.0 L354.4,626.0 L353.8,629.0 L353.3,632.0 L352.7,634.9 L352.2,637.9 M348.1,682.7 L348.0,685.7 L348.0,688.6 L348.0,691.6 L348.0,694.6 L348.0,697.6 L348.0,700.6 L348.1,703.6 L348.2,706.5 L348.3,709.5 L348.5,712.5 L348.7,715.5 L348.9,718.5 L349.1,721.5 L349.3,724.4 L349.6,727.4 L349.9,730.4 L350.2,733.4 L350.5,736.4 L350.9,739.4 L351.2,742.3 L351.6,745.3 L352.0,748.3 L352.5,751.3 L353.0,754.3 L353.4,757.3 L353.9,760.2 L354.5,763.2 L355.0,766.2 L355.6,769.2 L356.2,772.2 L356.8,775.2 L357.4,778.1 L358.1,781.1 L358.7,784.1 L359.4,787.1 L360.1,790.1 L360.8,793.1 L361.6,796.0 L362.4,799.0 L363.1,802.0 L363.9,805.0 L364.8,808.0 L365.6,811.0 L366.5,813.9 L367.3,816.9 L368.2,819.9 L369.1,822.9 L370.1,825.9 M387.2,873.6 L388.4,876.6 L389.6,879.6 L390.9,882.6 L392.1,885.5 L393.4,888.5 L394.7,891.5 L396.0,894.5 L397.3,897.5 L398.6,900.5 L399.9,903.4 L401.3,906.4 L402.6,909.4 L404.0,912.4 L405.4,915.4 L406.8,918.4 L408.2,921.3 L409.6,924.3 L411.0,927.3 L412.5,930.3 L414.0,933.3 L415.4,936.3 L416.9,939.2 L418.4,942.2 L419.9,945.2 L421.4,948.2 L423.0,951.2 L424.5,954.2 L426.0,957.1 L427.6,960.1 L429.2,963.1 L430.8,966.1 L432.3,969.1 L433.9,972.1 L435.6,975.0 L437.2,978.0 L438.8,981.0 L440.5,984.0 L442.1,987.0 L443.8,990.0 L445.4,992.9 L447.1,995.9 L448.8,998.9 L450.5,1001.9 L452.2,1004.9 L453.9,1007.9 L455.6,1010.8 L457.3,1013.8 L459.1,1016.8 L460.8,1019.8" fill="none" stroke="#000" stroke-width="0.9"/>
<path d="M261.1,587.2 L260.1,590.2 L259.2,593.2 L258.3,596.2 L257.4,599.1 L256.5,602.1 L255.6,605.1 L254.8,608.1 L254.0,611.1 L253.2,614.1 L252.5,617.0 L251.8,620.0 L251.1,623.0 L250.4,626.0 L249.7,629.0 L249.1,632.0 L248.5,634.9 L248.0,637.9 M242.4,682.7 L242.3,685.7 L242.1,688.6 L242.0,691.6 L241.9,694.6 L241.8,697.6 L241.7,700.6 L241.7,703.6 L241.7,706.5 L241.7,709.5 L241.7,712.5 L241.8,715.5 L241.9,718.5 L242.0,721.5 L242.1,724.4 L242.2,727.4 L242.4,730.4 L242.6,733.4 L242.8,736.4 L243.0,739.4 L243.3,742.3 L243.6,745.3 L243.9,748.3 L244.2,751.3 L244.5,754.3 L244.9,757.3 L245.2,760.2 L245.6,763.2 L246.1,766.2 L246.5,769.2 L247.0,772.2 L247.5,775.2 L248.0,778.1 L248.5,781.1 L249.0,784.1 L249.6,787.1 L250.2,790.1 L250.8,793.1 L251.4,796.0 L252.0,799.0 L252.7,802.0 L253.4,805.0 L254.1,808.0 L254.8,811.0 L255.5,813.9 L256.3,816.9 L257.1,819.9 L257.8,822.9 L258.7,825.9 M274.0,873.6 L275.2,876.6 L276.3,879.6 L277.4,882.6 L278.6,885.5 L279.7,888.5 L280.9,891.5 L282.1,894.5 L283.4,897.5 L284.6,900.5 L285.8,903.4 L287.1,906.4 L288.4,909.4 L289.7,912.4 L291.0,915.4 L292.3,918.4 L293.7,921.3 L295.0,924.3 L296.4,927.3 L297.8,930.3 L299.2,933.3 L300.6,936.3 L302.0,939.2 L303.5,942.2 L304.9,945.2 L306.4,948.2 L307.9,951.2 L309.4,954.2 L310.9,957.1 L312.4,960.1 L314.0,963.1 L315.5,966.1 L317.1,969.1 L318.6,972.1 L320.2,975.0 L321.8,978.0 L323.5,981.0 L325.1,984.0 L326.7,987.0 L328.4,990.0 L330.0,992.9 L331.7,995.9 L333.4,998.9 L335.1,1001.9 L336.8,1004.9 L338.6,1007.9 L340.3,1010.8 L342.0,1013.8 L343.8,1016.8 L345.6,1019.8" fill="none" stroke="#000" stroke-width="0.9"/>
<path d="M158.1,587.2 L157.1,590.2 L156.2,593.2 L155.2,596.2 L154.3,599.1 L153.4,602.1 L152.6,605.1 L151.7,608.1 L150.9,611.1 L150.1,614.1 L149.3,617.0 L148.6,620.0 L147.9,623.0 L147.1,626.0 L146.5,629.0 L145.8,632.0 L145.1,634.9 M137.7,682.7 L137.4,685.7 L137.2,688.6 L136.9,691.6 L136.7,694.6 L136.5,697.6 L136.3,700.6 L136.2,703.6 L136.1,706.5 L135.9,709.5 L135.8,712.5 L135.8,715.5 L135.7,718.5 L135.7,721.5 L135.7,724.4 L135.7,727.4 L135.7,730.4 L135.7,733.4 L135.8,736.4 L135.9,739.4 L136.0,742.3 L136.1,745.3 L136.3,748.3 L136.4,751.3 L136.6,754.3 L136.8,757.3 L137.1,760.2 L137.3,763.2 L137.6,766.2 L137.9,769.2 L138.2,772.2 L138.5,775.2 L138.9,778.1 L139.2,781.1 L139.6,784.1 L140.0,787.1 L140.4,790.1 L140.9,793.1 L141.3,796.0 L141.8,799.0 L142.3,802.0 L142.9,805.0 L143.4,808.0 L144.0,811.0 L144.5,813.9 L145.1,816.9 L145.8,819.9 L146.4,822.9 L147.1,825.9 M160.1,873.6 L161.1,876.6 L162.1,879.6 L163.1,882.6 L164.1,885.5 L165.1,888.5 L166.2,891.5 L167.3,894.5 L168.4,897.5 L169.5,900.5 L170.6,903.4 L171.8,906.4 L173.0,909.4 L174.2,912.4 L175.4,915.4 L176.6,918.4 L177.8,921.3 L179.1,924.3 L180.4,927.3 L181.7,930.3 L183.0,933.3 L184.3,936.3 L185.7,939.2 L187.0,942.2 L188.4,945.2 L189.8,948.2 L191.2,951.2 L192.6,954.2 L194.1,957.1 L195.6,960.1 L197.1,963.1 L198.6,966.1 L200.1,969.1 L201.6,972.1 L203.2,975.0 L204.7,978.0 L206.3,981.0 L207.9,984.0 L209.5,987.0 L211.2,990.0 L212.8,992.9 L214.5,995.9 L216.2,998.9 L217.9,1001.9 L219.6,1004.9 L221.3,1007.9 L223.1,1010.8 L224.9,1013.8 L226.7,1016.8 L228.5,1019.8" fill="none" stroke="#000" stroke-width="0.9"/>
</g>
<text x="561.16" y="654.02" transform="rotate(-87.40 561.16 648.30)" font-size="16.1" text-anchor="middle" fill="#000">1025</text>
<text x="596.78" y="841.92" transform="rotate(68.93 596.78 836.20)" font-size="16.1" text-anchor="middle" fill="#000">1025</text>
<text x="455.27" y="667.02" transform="rotate(-87.78 455.27 661.30)" font-size="16.1" text-anchor="middle" fill="#000">1020</text>
<text x="490.53" y="855.92" transform="rotate(69.16 490.53 850.20)" font-size="16.1" text-anchor="middle" fill="#000">1020</text>
<text x="349.43" y="666.02" transform="rotate(-84.72 349.43 660.30)" font-size="16.1" text-anchor="middle" fill="#000">1015</text>
<text x="378.28" y="855.92" transform="rotate(70.18 378.28 850.20)" font-size="16.1" text-anchor="middle" fill="#000">1015</text>
<text x="244.51" y="666.02" transform="rotate(-82.98 244.51 660.30)" font-size="16.1" text-anchor="middle" fill="#000">1010</text>
<text x="265.94" y="855.92" transform="rotate(72.06 265.94 850.20)" font-size="16.1" text-anchor="middle" fill="#000">1010</text>
<text x="140.60" y="665.52" transform="rotate(-81.32 140.60 659.80)" font-size="16.1" text-anchor="middle" fill="#000">1005</text>
<text x="152.97" y="855.42" transform="rotate(74.71 152.97 849.70)" font-size="16.1" text-anchor="middle" fill="#000">1005</text>
<path d="M217.17,1011.80 V1006.30 M217.17,595.20 V600.70 M302.33,1011.80 V1006.30 M302.33,595.20 V600.70 M387.50,1011.80 V1006.30 M387.50,595.20 V600.70 M472.67,1011.80 V1006.30 M472.67,595.20 V600.70 M557.83,1011.80 V1006.30 M557.83,595.20 V600.70 M132.00,606.77 H137.50 M643.00,606.77 H637.50 M132.00,664.63 H137.50 M643.00,664.63 H637.50 M132.00,722.49 H137.50 M643.00,722.49 H637.50 M132.00,780.36 H137.50 M643.00,780.36 H637.50 M132.00,838.22 H137.50 M643.00,838.22 H637.50 M132.00,896.08 H137.50 M643.00,896.08 H637.50 M132.00,953.94 H137.50 M643.00,953.94 H637.50" stroke="#262626" stroke-opacity="0.9" stroke-width="1" fill="none"/>
<rect x="132.00" y="595.20" width="511.00" height="416.60" fill="none" stroke="#262626" stroke-opacity="0.7" stroke-width="0.9"/>
<text x="132.00" y="1038.10" font-size="20" text-anchor="middle" fill="#262626">0</text>
<text x="217.17" y="1038.10" font-size="20" text-anchor="middle" fill="#262626">5</text>
<text x="302.33" y="1038.10" font-size="20" text-anchor="middle" fill="#262626">10</text>
<text x="387.50" y="1038.10" font-size="20" text-anchor="middle" fill="#262626">15</text>
<text x="472.67" y="1038.10" font-size="20" text-anchor="middle" fill="#262626">20</text>
<text x="557.83" y="1038.10" font-size="20" text-anchor="middle" fill="#262626">25</text>
<text x="643.00" y="1038.10" font-size="20" text-anchor="middle" fill="#262626">30</text>
<text x="125.20" y="614.07" font-size="20" text-anchor="end" fill="#262626">265</text>
<text x="125.20" y="671.93" font-size="20" text-anchor="end" fill="#262626">270</text>
<text x="125.20" y="729.79" font-size="20" text-anchor="end" fill="#262626">275</text>
<text x="125.20" y="787.66" font-size="20" text-anchor="end" fill="#262626">280</text>
<text x="125.20" y="845.52" font-size="20" text-anchor="end" fill="#262626">285</text>
<text x="125.20" y="903.38" font-size="20" text-anchor="end" fill="#262626">290</text>
<text x="125.20" y="961.24" font-size="20" text-anchor="end" fill="#262626">295</text>
<text x="125.20" y="1019.10" font-size="20" text-anchor="end" fill="#262626">300</text>
<text x="387.50" y="1064.70" font-size="22" text-anchor="middle" fill="#262626">Salinity (g/kg)</text>
<text x="83.20" y="803.50" font-size="22" text-anchor="middle" fill="#262626" transform="rotate(-90 83.20 803.50)">Temperature (K)</text>
<text x="387.50" y="590.00" font-size="22.3" font-weight="bold" text-anchor="middle" fill="#000">Fluid Density <tspan font-family="'Liberation Serif', serif" font-style="italic" font-weight="normal">&#961;</tspan> (kg/m<tspan dy="-11.8" font-size="16">3</tspan><tspan dy="11.8">)</tspan></text>
<text x="144.40" y="570.60" font-size="31" font-weight="bold" fill="#000">(d)</text>
<clipPath id="clipc11"><rect x="804.50" y="595.20" width="511.00" height="416.60"/></clipPath>
<g clip-path="url(#clipc11)">
<rect x="804.50" y="595.20" width="511.00" height="416.60" fill="#ffff68"/>
<path d="M796.5,1069.4 L799.5,1068.9 L802.5,1068.5 L805.5,1068.0 L808.5,1067.6 L811.5,1067.1 L814.5,1066.7 L817.5,1066.2 L820.5,1065.7 L823.4,1065.3 L826.4,1064.8 L829.4,1064.4 L832.4,1063.9 L835.4,1063.4 L838.4,1063.0 L841.4,1062.5 L844.4,1062.1 L847.4,1061.6 L850.4,1061.2 L853.4,1060.7 L856.4,1060.2 L859.4,1059.8 L862.4,1059.3 L865.4,1058.9 L868.4,1058.4 L871.4,1058.0 L874.4,1057.5 L877.3,1057.0 L880.3,1056.6 L883.3,1056.1 L886.3,1055.7 L889.3,1055.2 L892.3,1054.8 L895.3,1054.3 L898.3,1053.8 L901.3,1053.4 L904.3,1052.9 L907.3,1052.5 L910.3,1052.0 L913.3,1051.5 L916.3,1051.1 L919.3,1050.6 L922.3,1050.2 L925.3,1049.7 L928.2,1049.3 L931.2,1048.8 L934.2,1048.3 L937.2,1047.9 L940.2,1047.4 L943.2,1047.0 L946.2,1046.5 L949.2,1046.1 L952.2,1045.6 L955.2,1045.1 L958.2,1044.7 L961.2,1044.2 L964.2,1043.8 L967.2,1043.3 L970.2,1042.8 L973.2,1042.4 L976.2,1041.9 L979.2,1041.5 L982.1,1041.0 L985.1,1040.6 L988.1,1040.1 L991.1,1039.6 L994.1,1039.2 L997.1,1038.7 L1000.1,1038.3 L1003.1,1037.8 L1006.1,1037.4 L1009.1,1036.9 L1012.1,1036.4 L1015.1,1036.0 L1018.1,1035.5 L1021.1,1035.1 L1024.1,1034.6 L1027.1,1034.1 L1030.1,1033.7 L1033.1,1033.2 L1036.0,1032.8 L1039.0,1032.3 L1042.0,1031.9 L1045.0,1031.4 L1048.0,1030.9 L1051.0,1030.5 L1054.0,1030.0 L1057.0,1029.6 L1060.0,1029.1 L1063.0,1028.7 L1066.0,1028.2 L1069.0,1027.7 L1072.0,1027.3 L1075.0,1026.8 L1078.0,1026.4 L1081.0,1025.9 L1084.0,1025.4 L1086.9,1025.0 L1089.9,1024.5 L1092.9,1024.1 L1095.9,1023.6 L1098.9,1023.2 L1101.9,1022.7 L1104.9,1022.2 L1107.9,1021.8 L1110.9,1021.3 L1113.9,1020.9 L1116.9,1020.4 L1119.9,1020.0 L1122.9,1019.5 L1125.9,1019.0 L1128.9,1018.6 L1131.9,1018.1 L1134.9,1017.7 L1137.9,1017.2 L1140.8,1016.8 L1143.8,1016.3 L1146.8,1015.8 L1149.8,1015.4 L1152.8,1014.9 L1155.8,1014.5 L1158.8,1014.0 L1161.8,1013.5 L1164.8,1013.1 L1167.8,1012.6 L1170.8,1012.2 L1173.8,1011.7 L1176.8,1011.3 L1179.8,1010.8 L1182.8,1010.3 L1185.8,1009.9 L1188.8,1009.4 L1191.8,1009.0 L1194.7,1008.5 L1197.7,1008.1 L1200.7,1007.6 L1203.7,1007.1 L1206.7,1006.7 L1209.7,1006.2 L1212.7,1005.8 L1215.7,1005.3 L1218.7,1004.8 L1221.7,1004.4 L1224.7,1003.9 L1227.7,1003.5 L1230.7,1003.0 L1233.7,1002.6 L1236.7,1002.1 L1239.7,1001.6 L1242.7,1001.2 L1245.6,1000.7 L1248.6,1000.3 L1251.6,999.8 L1254.6,999.4 L1257.6,998.9 L1260.6,998.4 L1263.6,998.0 L1266.6,997.5 L1269.6,997.1 L1272.6,996.6 L1275.6,996.1 L1278.6,995.7 L1281.6,995.2 L1284.6,994.8 L1287.6,994.3 L1290.6,993.9 L1293.6,993.4 L1296.6,992.9 L1299.5,992.5 L1302.5,992.0 L1305.5,991.6 L1308.5,991.1 L1311.5,990.7 L1314.5,990.2 L1317.5,989.7 L1320.5,989.3 L1323.5,988.8 L1323.5,535.2 L796.5,535.2 Z" fill="#e5f268" stroke="#e5f268" stroke-width="0.6"/>
<path d="M796.5,994.1 L799.5,993.6 L802.5,993.2 L805.5,992.7 L808.5,992.3 L811.5,991.8 L814.5,991.4 L817.5,991.0 L820.5,990.5 L823.4,990.1 L826.4,989.6 L829.4,989.2 L832.4,988.7 L835.4,988.3 L838.4,987.8 L841.4,987.4 L844.4,986.9 L847.4,986.5 L850.4,986.0 L853.4,985.6 L856.4,985.1 L859.4,984.7 L862.4,984.2 L865.4,983.8 L868.4,983.3 L871.4,982.9 L874.4,982.4 L877.3,982.0 L880.3,981.5 L883.3,981.1 L886.3,980.6 L889.3,980.2 L892.3,979.7 L895.3,979.3 L898.3,978.8 L901.3,978.4 L904.3,977.9 L907.3,977.5 L910.3,977.0 L913.3,976.6 L916.3,976.1 L919.3,975.7 L922.3,975.2 L925.3,974.8 L928.2,974.3 L931.2,973.9 L934.2,973.4 L937.2,973.0 L940.2,972.5 L943.2,972.1 L946.2,971.6 L949.2,971.2 L952.2,970.7 L955.2,970.3 L958.2,969.8 L961.2,969.4 L964.2,968.9 L967.2,968.5 L970.2,968.0 L973.2,967.6 L976.2,967.1 L979.2,966.7 L982.1,966.2 L985.1,965.8 L988.1,965.3 L991.1,964.9 L994.1,964.4 L997.1,964.0 L1000.1,963.5 L1003.1,963.1 L1006.1,962.6 L1009.1,962.2 L1012.1,961.7 L1015.1,961.3 L1018.1,960.8 L1021.1,960.4 L1024.1,959.9 L1027.1,959.5 L1030.1,959.0 L1033.1,958.6 L1036.0,958.1 L1039.0,957.7 L1042.0,957.2 L1045.0,956.8 L1048.0,956.3 L1051.0,955.9 L1054.0,955.4 L1057.0,955.0 L1060.0,954.5 L1063.0,954.1 L1066.0,953.6 L1069.0,953.2 L1072.0,952.7 L1075.0,952.3 L1078.0,951.8 L1081.0,951.4 L1084.0,950.9 L1086.9,950.5 L1089.9,950.0 L1092.9,949.6 L1095.9,949.1 L1098.9,948.7 L1101.9,948.2 L1104.9,947.7 L1107.9,947.3 L1110.9,946.8 L1113.9,946.4 L1116.9,945.9 L1119.9,945.5 L1122.9,945.0 L1125.9,944.6 L1128.9,944.1 L1131.9,943.7 L1134.9,943.2 L1137.9,942.8 L1140.8,942.3 L1143.8,941.9 L1146.8,941.4 L1149.8,941.0 L1152.8,940.5 L1155.8,940.1 L1158.8,939.6 L1161.8,939.2 L1164.8,938.7 L1167.8,938.3 L1170.8,937.8 L1173.8,937.4 L1176.8,936.9 L1179.8,936.4 L1182.8,936.0 L1185.8,935.5 L1188.8,935.1 L1191.8,934.6 L1194.7,934.2 L1197.7,933.7 L1200.7,933.3 L1203.7,932.8 L1206.7,932.4 L1209.7,931.9 L1212.7,931.5 L1215.7,931.0 L1218.7,930.6 L1221.7,930.1 L1224.7,929.7 L1227.7,929.2 L1230.7,928.8 L1233.7,928.3 L1236.7,927.8 L1239.7,927.4 L1242.7,926.9 L1245.6,926.5 L1248.6,926.0 L1251.6,925.6 L1254.6,925.1 L1257.6,924.7 L1260.6,924.2 L1263.6,923.8 L1266.6,923.3 L1269.6,922.9 L1272.6,922.4 L1275.6,922.0 L1278.6,921.5 L1281.6,921.0 L1284.6,920.6 L1287.6,920.1 L1290.6,919.7 L1293.6,919.2 L1296.6,918.8 L1299.5,918.3 L1302.5,917.9 L1305.5,917.4 L1308.5,917.0 L1311.5,916.5 L1314.5,916.1 L1317.5,915.6 L1320.5,915.2 L1323.5,914.7 L1323.5,535.2 L796.5,535.2 Z" fill="#cbe568" stroke="#cbe568" stroke-width="0.6"/>
<path d="M796.5,928.4 L799.5,927.9 L802.5,927.5 L805.5,927.0 L808.5,926.6 L811.5,926.2 L814.5,925.7 L817.5,925.3 L820.5,924.8 L823.4,924.4 L826.4,923.9 L829.4,923.5 L832.4,923.1 L835.4,922.6 L838.4,922.2 L841.4,921.7 L844.4,921.3 L847.4,920.8 L850.4,920.4 L853.4,919.9 L856.4,919.5 L859.4,919.0 L862.4,918.6 L865.4,918.2 L868.4,917.7 L871.4,917.3 L874.4,916.8 L877.3,916.4 L880.3,915.9 L883.3,915.5 L886.3,915.0 L889.3,914.6 L892.3,914.1 L895.3,913.7 L898.3,913.2 L901.3,912.8 L904.3,912.3 L907.3,911.9 L910.3,911.4 L913.3,911.0 L916.3,910.5 L919.3,910.1 L922.3,909.6 L925.3,909.2 L928.2,908.7 L931.2,908.3 L934.2,907.8 L937.2,907.4 L940.2,906.9 L943.2,906.5 L946.2,906.0 L949.2,905.5 L952.2,905.1 L955.2,904.6 L958.2,904.2 L961.2,903.7 L964.2,903.3 L967.2,902.8 L970.2,902.4 L973.2,901.9 L976.2,901.5 L979.2,901.0 L982.1,900.5 L985.1,900.1 L988.1,899.6 L991.1,899.2 L994.1,898.7 L997.1,898.3 L1000.1,897.8 L1003.1,897.3 L1006.1,896.9 L1009.1,896.4 L1012.1,896.0 L1015.1,895.5 L1018.1,895.0 L1021.1,894.6 L1024.1,894.1 L1027.1,893.7 L1030.1,893.2 L1033.1,892.7 L1036.0,892.3 L1039.0,891.8 L1042.0,891.4 L1045.0,890.9 L1048.0,890.4 L1051.0,890.0 L1054.0,889.5 L1057.0,889.1 L1060.0,888.6 L1063.0,888.1 L1066.0,887.7 L1069.0,887.2 L1072.0,886.7 L1075.0,886.3 L1078.0,885.8 L1081.0,885.3 L1084.0,884.9 L1086.9,884.4 L1089.9,884.0 L1092.9,883.5 L1095.9,883.0 L1098.9,882.6 L1101.9,882.1 L1104.9,881.6 L1107.9,881.2 L1110.9,880.7 L1113.9,880.2 L1116.9,879.8 L1119.9,879.3 L1122.9,878.8 L1125.9,878.4 L1128.9,877.9 L1131.9,877.4 L1134.9,876.9 L1137.9,876.5 L1140.8,876.0 L1143.8,875.5 L1146.8,875.1 L1149.8,874.6 L1152.8,874.1 L1155.8,873.7 L1158.8,873.2 L1161.8,872.7 L1164.8,872.2 L1167.8,871.8 L1170.8,871.3 L1173.8,870.8 L1176.8,870.4 L1179.8,869.9 L1182.8,869.4 L1185.8,868.9 L1188.8,868.5 L1191.8,868.0 L1194.7,867.5 L1197.7,867.0 L1200.7,866.6 L1203.7,866.1 L1206.7,865.6 L1209.7,865.1 L1212.7,864.7 L1215.7,864.2 L1218.7,863.7 L1221.7,863.2 L1224.7,862.8 L1227.7,862.3 L1230.7,861.8 L1233.7,861.3 L1236.7,860.9 L1239.7,860.4 L1242.7,859.9 L1245.6,859.4 L1248.6,859.0 L1251.6,858.5 L1254.6,858.0 L1257.6,857.5 L1260.6,857.0 L1263.6,856.6 L1266.6,856.1 L1269.6,855.6 L1272.6,855.1 L1275.6,854.6 L1278.6,854.2 L1281.6,853.7 L1284.6,853.2 L1287.6,852.7 L1290.6,852.2 L1293.6,851.8 L1296.6,851.3 L1299.5,850.8 L1302.5,850.3 L1305.5,849.8 L1308.5,849.3 L1311.5,848.9 L1314.5,848.4 L1317.5,847.9 L1320.5,847.4 L1323.5,846.9 L1323.5,535.2 L796.5,535.2 Z" fill="#b1d868" stroke="#b1d868" stroke-width="0.6"/>
<path d="M796.5,869.9 L799.5,869.5 L802.5,869.0 L805.5,868.6 L808.5,868.1 L811.5,867.6 L814.5,867.2 L817.5,866.7 L820.5,866.3 L823.4,865.8 L826.4,865.4 L829.4,864.9 L832.4,864.4 L835.4,864.0 L838.4,863.5 L841.4,863.1 L844.4,862.6 L847.4,862.2 L850.4,861.7 L853.4,861.2 L856.4,860.8 L859.4,860.3 L862.4,859.9 L865.4,859.4 L868.4,858.9 L871.4,858.5 L874.4,858.0 L877.3,857.6 L880.3,857.1 L883.3,856.6 L886.3,856.2 L889.3,855.7 L892.3,855.3 L895.3,854.8 L898.3,854.3 L901.3,853.9 L904.3,853.4 L907.3,852.9 L910.3,852.5 L913.3,852.0 L916.3,851.6 L919.3,851.1 L922.3,850.6 L925.3,850.2 L928.2,849.7 L931.2,849.2 L934.2,848.8 L937.2,848.3 L940.2,847.8 L943.2,847.4 L946.2,846.9 L949.2,846.4 L952.2,846.0 L955.2,845.5 L958.2,845.0 L961.2,844.6 L964.2,844.1 L967.2,843.6 L970.2,843.2 L973.2,842.7 L976.2,842.2 L979.2,841.8 L982.1,841.3 L985.1,840.8 L988.1,840.4 L991.1,839.9 L994.1,839.4 L997.1,839.0 L1000.1,838.5 L1003.1,838.0 L1006.1,837.6 L1009.1,837.1 L1012.1,836.6 L1015.1,836.1 L1018.1,835.7 L1021.1,835.2 L1024.1,834.7 L1027.1,834.3 L1030.1,833.8 L1033.1,833.3 L1036.0,832.8 L1039.0,832.4 L1042.0,831.9 L1045.0,831.4 L1048.0,831.0 L1051.0,830.5 L1054.0,830.0 L1057.0,829.5 L1060.0,829.1 L1063.0,828.6 L1066.0,828.1 L1069.0,827.6 L1072.0,827.2 L1075.0,826.7 L1078.0,826.2 L1081.0,825.7 L1084.0,825.3 L1086.9,824.8 L1089.9,824.3 L1092.9,823.8 L1095.9,823.4 L1098.9,822.9 L1101.9,822.4 L1104.9,821.9 L1107.9,821.5 L1110.9,821.0 L1113.9,820.5 L1116.9,820.0 L1119.9,819.5 L1122.9,819.1 L1125.9,818.6 L1128.9,818.1 L1131.9,817.6 L1134.9,817.2 L1137.9,816.7 L1140.8,816.2 L1143.8,815.7 L1146.8,815.2 L1149.8,814.8 L1152.8,814.3 L1155.8,813.8 L1158.8,813.3 L1161.8,812.8 L1164.8,812.4 L1167.8,811.9 L1170.8,811.4 L1173.8,810.9 L1176.8,810.4 L1179.8,810.0 L1182.8,809.5 L1185.8,809.0 L1188.8,808.5 L1191.8,808.0 L1194.7,807.5 L1197.7,807.1 L1200.7,806.6 L1203.7,806.1 L1206.7,805.6 L1209.7,805.1 L1212.7,804.6 L1215.7,804.2 L1218.7,803.7 L1221.7,803.2 L1224.7,802.7 L1227.7,802.2 L1230.7,801.7 L1233.7,801.2 L1236.7,800.8 L1239.7,800.3 L1242.7,799.8 L1245.6,799.3 L1248.6,798.8 L1251.6,798.3 L1254.6,797.8 L1257.6,797.3 L1260.6,796.9 L1263.6,796.4 L1266.6,795.9 L1269.6,795.4 L1272.6,794.9 L1275.6,794.4 L1278.6,793.9 L1281.6,793.4 L1284.6,793.0 L1287.6,792.5 L1290.6,792.0 L1293.6,791.5 L1296.6,791.0 L1299.5,790.5 L1302.5,790.0 L1305.5,789.5 L1308.5,789.0 L1311.5,788.5 L1314.5,788.1 L1317.5,787.6 L1320.5,787.1 L1323.5,786.6 L1323.5,535.2 L796.5,535.2 Z" fill="#98cb68" stroke="#98cb68" stroke-width="0.6"/>
<path d="M796.5,817.0 L799.5,816.5 L802.5,816.0 L805.5,815.6 L808.5,815.1 L811.5,814.7 L814.5,814.2 L817.5,813.7 L820.5,813.3 L823.4,812.8 L826.4,812.4 L829.4,811.9 L832.4,811.4 L835.4,811.0 L838.4,810.5 L841.4,810.0 L844.4,809.6 L847.4,809.1 L850.4,808.7 L853.4,808.2 L856.4,807.7 L859.4,807.3 L862.4,806.8 L865.4,806.3 L868.4,805.9 L871.4,805.4 L874.4,804.9 L877.3,804.5 L880.3,804.0 L883.3,803.5 L886.3,803.1 L889.3,802.6 L892.3,802.2 L895.3,801.7 L898.3,801.2 L901.3,800.7 L904.3,800.3 L907.3,799.8 L910.3,799.3 L913.3,798.9 L916.3,798.4 L919.3,797.9 L922.3,797.5 L925.3,797.0 L928.2,796.5 L931.2,796.1 L934.2,795.6 L937.2,795.1 L940.2,794.7 L943.2,794.2 L946.2,793.7 L949.2,793.2 L952.2,792.8 L955.2,792.3 L958.2,791.8 L961.2,791.4 L964.2,790.9 L967.2,790.4 L970.2,789.9 L973.2,789.5 L976.2,789.0 L979.2,788.5 L982.1,788.0 L985.1,787.6 L988.1,787.1 L991.1,786.6 L994.1,786.1 L997.1,785.7 L1000.1,785.2 L1003.1,784.7 L1006.1,784.2 L1009.1,783.8 L1012.1,783.3 L1015.1,782.8 L1018.1,782.3 L1021.1,781.8 L1024.1,781.4 L1027.1,780.9 L1030.1,780.4 L1033.1,779.9 L1036.0,779.5 L1039.0,779.0 L1042.0,778.5 L1045.0,778.0 L1048.0,777.5 L1051.0,777.1 L1054.0,776.6 L1057.0,776.1 L1060.0,775.6 L1063.0,775.1 L1066.0,774.7 L1069.0,774.2 L1072.0,773.7 L1075.0,773.2 L1078.0,772.7 L1081.0,772.2 L1084.0,771.8 L1086.9,771.3 L1089.9,770.8 L1092.9,770.3 L1095.9,769.8 L1098.9,769.3 L1101.9,768.9 L1104.9,768.4 L1107.9,767.9 L1110.9,767.4 L1113.9,766.9 L1116.9,766.4 L1119.9,766.0 L1122.9,765.5 L1125.9,765.0 L1128.9,764.5 L1131.9,764.0 L1134.9,763.5 L1137.9,763.0 L1140.8,762.5 L1143.8,762.1 L1146.8,761.6 L1149.8,761.1 L1152.8,760.6 L1155.8,760.1 L1158.8,759.6 L1161.8,759.1 L1164.8,758.6 L1167.8,758.1 L1170.8,757.7 L1173.8,757.2 L1176.8,756.7 L1179.8,756.2 L1182.8,755.7 L1185.8,755.2 L1188.8,754.7 L1191.8,754.2 L1194.7,753.7 L1197.7,753.2 L1200.7,752.7 L1203.7,752.2 L1206.7,751.8 L1209.7,751.3 L1212.7,750.8 L1215.7,750.3 L1218.7,749.8 L1221.7,749.3 L1224.7,748.8 L1227.7,748.3 L1230.7,747.8 L1233.7,747.3 L1236.7,746.8 L1239.7,746.3 L1242.7,745.8 L1245.6,745.3 L1248.6,744.8 L1251.6,744.3 L1254.6,743.8 L1257.6,743.3 L1260.6,742.8 L1263.6,742.3 L1266.6,741.8 L1269.6,741.3 L1272.6,740.8 L1275.6,740.3 L1278.6,739.8 L1281.6,739.3 L1284.6,738.8 L1287.6,738.3 L1290.6,737.8 L1293.6,737.3 L1296.6,736.8 L1299.5,736.3 L1302.5,735.8 L1305.5,735.3 L1308.5,734.8 L1311.5,734.3 L1314.5,733.8 L1317.5,733.3 L1320.5,732.8 L1323.5,732.3 L1323.5,535.2 L796.5,535.2 Z" fill="#7ebe68" stroke="#7ebe68" stroke-width="0.6"/>
<path d="M796.5,769.2 L799.5,768.7 L802.5,768.2 L805.5,767.7 L808.5,767.3 L811.5,766.8 L814.5,766.3 L817.5,765.8 L820.5,765.4 L823.4,764.9 L826.4,764.4 L829.4,763.9 L832.4,763.5 L835.4,763.0 L838.4,762.5 L841.4,762.0 L844.4,761.6 L847.4,761.1 L850.4,760.6 L853.4,760.1 L856.4,759.7 L859.4,759.2 L862.4,758.7 L865.4,758.2 L868.4,757.8 L871.4,757.3 L874.4,756.8 L877.3,756.3 L880.3,755.9 L883.3,755.4 L886.3,754.9 L889.3,754.4 L892.3,754.0 L895.3,753.5 L898.3,753.0 L901.3,752.5 L904.3,752.1 L907.3,751.6 L910.3,751.1 L913.3,750.6 L916.3,750.1 L919.3,749.7 L922.3,749.2 L925.3,748.7 L928.2,748.2 L931.2,747.8 L934.2,747.3 L937.2,746.8 L940.2,746.3 L943.2,745.9 L946.2,745.4 L949.2,744.9 L952.2,744.4 L955.2,744.0 L958.2,743.5 L961.2,743.0 L964.2,742.5 L967.2,742.1 L970.2,741.6 L973.2,741.1 L976.2,740.6 L979.2,740.1 L982.1,739.7 L985.1,739.2 L988.1,738.7 L991.1,738.2 L994.1,737.8 L997.1,737.3 L1000.1,736.8 L1003.1,736.3 L1006.1,735.9 L1009.1,735.4 L1012.1,734.9 L1015.1,734.4 L1018.1,733.9 L1021.1,733.5 L1024.1,733.0 L1027.1,732.5 L1030.1,732.0 L1033.1,731.6 L1036.0,731.1 L1039.0,730.6 L1042.0,730.1 L1045.0,729.7 L1048.0,729.2 L1051.0,728.7 L1054.0,728.2 L1057.0,727.7 L1060.0,727.3 L1063.0,726.8 L1066.0,726.3 L1069.0,725.8 L1072.0,725.4 L1075.0,724.9 L1078.0,724.4 L1081.0,723.9 L1084.0,723.4 L1086.9,723.0 L1089.9,722.5 L1092.9,722.0 L1095.9,721.5 L1098.9,721.1 L1101.9,720.6 L1104.9,720.1 L1107.9,719.6 L1110.9,719.1 L1113.9,718.7 L1116.9,718.2 L1119.9,717.7 L1122.9,717.2 L1125.9,716.8 L1128.9,716.3 L1131.9,715.8 L1134.9,715.3 L1137.9,714.8 L1140.8,714.4 L1143.8,713.9 L1146.8,713.4 L1149.8,712.9 L1152.8,712.4 L1155.8,712.0 L1158.8,711.5 L1161.8,711.0 L1164.8,710.5 L1167.8,710.1 L1170.8,709.6 L1173.8,709.1 L1176.8,708.6 L1179.8,708.1 L1182.8,707.7 L1185.8,707.2 L1188.8,706.7 L1191.8,706.2 L1194.7,705.7 L1197.7,705.3 L1200.7,704.8 L1203.7,704.3 L1206.7,703.8 L1209.7,703.3 L1212.7,702.9 L1215.7,702.4 L1218.7,701.9 L1221.7,701.4 L1224.7,701.0 L1227.7,700.5 L1230.7,700.0 L1233.7,699.5 L1236.7,699.0 L1239.7,698.6 L1242.7,698.1 L1245.6,697.6 L1248.6,697.1 L1251.6,696.6 L1254.6,696.2 L1257.6,695.7 L1260.6,695.2 L1263.6,694.7 L1266.6,694.2 L1269.6,693.8 L1272.6,693.3 L1275.6,692.8 L1278.6,692.3 L1281.6,691.8 L1284.6,691.4 L1287.6,690.9 L1290.6,690.4 L1293.6,689.9 L1296.6,689.4 L1299.5,689.0 L1302.5,688.5 L1305.5,688.0 L1308.5,687.5 L1311.5,687.0 L1314.5,686.6 L1317.5,686.1 L1320.5,685.6 L1323.5,685.1 L1323.5,535.2 L796.5,535.2 Z" fill="#64b168" stroke="#64b168" stroke-width="0.6"/>
<path d="M796.5,726.2 L799.5,725.7 L802.5,725.2 L805.5,724.7 L808.5,724.2 L811.5,723.7 L814.5,723.2 L817.5,722.7 L820.5,722.2 L823.4,721.7 L826.4,721.2 L829.4,720.7 L832.4,720.2 L835.4,719.7 L838.4,719.2 L841.4,718.7 L844.4,718.2 L847.4,717.7 L850.4,717.2 L853.4,716.7 L856.4,716.2 L859.4,715.7 L862.4,715.2 L865.4,714.7 L868.4,714.2 L871.4,713.7 L874.4,713.2 L877.3,712.7 L880.3,712.2 L883.3,711.8 L886.3,711.3 L889.3,710.8 L892.3,710.3 L895.3,709.8 L898.3,709.3 L901.3,708.8 L904.3,708.3 L907.3,707.8 L910.3,707.3 L913.3,706.8 L916.3,706.3 L919.3,705.9 L922.3,705.4 L925.3,704.9 L928.2,704.4 L931.2,703.9 L934.2,703.4 L937.2,702.9 L940.2,702.4 L943.2,701.9 L946.2,701.5 L949.2,701.0 L952.2,700.5 L955.2,700.0 L958.2,699.5 L961.2,699.0 L964.2,698.5 L967.2,698.1 L970.2,697.6 L973.2,697.1 L976.2,696.6 L979.2,696.1 L982.1,695.6 L985.1,695.2 L988.1,694.7 L991.1,694.2 L994.1,693.7 L997.1,693.2 L1000.1,692.7 L1003.1,692.3 L1006.1,691.8 L1009.1,691.3 L1012.1,690.8 L1015.1,690.3 L1018.1,689.9 L1021.1,689.4 L1024.1,688.9 L1027.1,688.4 L1030.1,687.9 L1033.1,687.5 L1036.0,687.0 L1039.0,686.5 L1042.0,686.0 L1045.0,685.6 L1048.0,685.1 L1051.0,684.6 L1054.0,684.1 L1057.0,683.7 L1060.0,683.2 L1063.0,682.7 L1066.0,682.2 L1069.0,681.8 L1072.0,681.3 L1075.0,680.8 L1078.0,680.3 L1081.0,679.9 L1084.0,679.4 L1086.9,678.9 L1089.9,678.5 L1092.9,678.0 L1095.9,677.5 L1098.9,677.0 L1101.9,676.6 L1104.9,676.1 L1107.9,675.6 L1110.9,675.2 L1113.9,674.7 L1116.9,674.2 L1119.9,673.8 L1122.9,673.3 L1125.9,672.8 L1128.9,672.3 L1131.9,671.9 L1134.9,671.4 L1137.9,670.9 L1140.8,670.5 L1143.8,670.0 L1146.8,669.6 L1149.8,669.1 L1152.8,668.6 L1155.8,668.2 L1158.8,667.7 L1161.8,667.2 L1164.8,666.8 L1167.8,666.3 L1170.8,665.8 L1173.8,665.4 L1176.8,664.9 L1179.8,664.4 L1182.8,664.0 L1185.8,663.5 L1188.8,663.1 L1191.8,662.6 L1194.7,662.1 L1197.7,661.7 L1200.7,661.2 L1203.7,660.8 L1206.7,660.3 L1209.7,659.8 L1212.7,659.4 L1215.7,658.9 L1218.7,658.5 L1221.7,658.0 L1224.7,657.6 L1227.7,657.1 L1230.7,656.6 L1233.7,656.2 L1236.7,655.7 L1239.7,655.3 L1242.7,654.8 L1245.6,654.4 L1248.6,653.9 L1251.6,653.5 L1254.6,653.0 L1257.6,652.5 L1260.6,652.1 L1263.6,651.6 L1266.6,651.2 L1269.6,650.7 L1272.6,650.3 L1275.6,649.8 L1278.6,649.4 L1281.6,648.9 L1284.6,648.5 L1287.6,648.0 L1290.6,647.6 L1293.6,647.1 L1296.6,646.7 L1299.5,646.2 L1302.5,645.8 L1305.5,645.3 L1308.5,644.9 L1311.5,644.4 L1314.5,644.0 L1317.5,643.5 L1320.5,643.1 L1323.5,642.6 L1323.5,535.2 L796.5,535.2 Z" fill="#4aa568" stroke="#4aa568" stroke-width="0.6"/>
<path d="M796.5,687.6 L799.5,687.1 L802.5,686.6 L805.5,686.1 L808.5,685.6 L811.5,685.1 L814.5,684.6 L817.5,684.0 L820.5,683.5 L823.4,683.0 L826.4,682.5 L829.4,682.0 L832.4,681.5 L835.4,681.0 L838.4,680.5 L841.4,680.0 L844.4,679.4 L847.4,678.9 L850.4,678.4 L853.4,677.9 L856.4,677.4 L859.4,676.9 L862.4,676.4 L865.4,675.9 L868.4,675.4 L871.4,674.9 L874.4,674.4 L877.3,673.9 L880.3,673.4 L883.3,672.9 L886.3,672.4 L889.3,671.9 L892.3,671.4 L895.3,670.9 L898.3,670.4 L901.3,669.9 L904.3,669.4 L907.3,668.9 L910.3,668.4 L913.3,667.9 L916.3,667.4 L919.3,666.9 L922.3,666.5 L925.3,666.0 L928.2,665.5 L931.2,665.0 L934.2,664.5 L937.2,664.0 L940.2,663.5 L943.2,663.0 L946.2,662.5 L949.2,662.1 L952.2,661.6 L955.2,661.1 L958.2,660.6 L961.2,660.1 L964.2,659.6 L967.2,659.1 L970.2,658.7 L973.2,658.2 L976.2,657.7 L979.2,657.2 L982.1,656.7 L985.1,656.3 L988.1,655.8 L991.1,655.3 L994.1,654.8 L997.1,654.4 L1000.1,653.9 L1003.1,653.4 L1006.1,652.9 L1009.1,652.5 L1012.1,652.0 L1015.1,651.5 L1018.1,651.0 L1021.1,650.6 L1024.1,650.1 L1027.1,649.6 L1030.1,649.1 L1033.1,648.7 L1036.0,648.2 L1039.0,647.7 L1042.0,647.3 L1045.0,646.8 L1048.0,646.3 L1051.0,645.9 L1054.0,645.4 L1057.0,644.9 L1060.0,644.5 L1063.0,644.0 L1066.0,643.6 L1069.0,643.1 L1072.0,642.6 L1075.0,642.2 L1078.0,641.7 L1081.0,641.3 L1084.0,640.8 L1086.9,640.3 L1089.9,639.9 L1092.9,639.4 L1095.9,639.0 L1098.9,638.5 L1101.9,638.0 L1104.9,637.6 L1107.9,637.1 L1110.9,636.7 L1113.9,636.2 L1116.9,635.8 L1119.9,635.3 L1122.9,634.9 L1125.9,634.4 L1128.9,634.0 L1131.9,633.5 L1134.9,633.1 L1137.9,632.6 L1140.8,632.2 L1143.8,631.7 L1146.8,631.3 L1149.8,630.8 L1152.8,630.4 L1155.8,630.0 L1158.8,629.5 L1161.8,629.1 L1164.8,628.6 L1167.8,628.2 L1170.8,627.7 L1173.8,627.3 L1176.8,626.9 L1179.8,626.4 L1182.8,626.0 L1185.8,625.5 L1188.8,625.1 L1191.8,624.7 L1194.7,624.2 L1197.7,623.8 L1200.7,623.4 L1203.7,622.9 L1206.7,622.5 L1209.7,622.1 L1212.7,621.6 L1215.7,621.2 L1218.7,620.8 L1221.7,620.3 L1224.7,619.9 L1227.7,619.5 L1230.7,619.0 L1233.7,618.6 L1236.7,618.2 L1239.7,617.8 L1242.7,617.3 L1245.6,616.9 L1248.6,616.5 L1251.6,616.0 L1254.6,615.6 L1257.6,615.2 L1260.6,614.8 L1263.6,614.4 L1266.6,613.9 L1269.6,613.5 L1272.6,613.1 L1275.6,612.7 L1278.6,612.2 L1281.6,611.8 L1284.6,611.4 L1287.6,611.0 L1290.6,610.6 L1293.6,610.2 L1296.6,609.7 L1299.5,609.3 L1302.5,608.9 L1305.5,608.5 L1308.5,608.1 L1311.5,607.7 L1314.5,607.3 L1317.5,606.8 L1320.5,606.4 L1323.5,606.0 L1323.5,535.2 L796.5,535.2 Z" fill="#309868" stroke="#309868" stroke-width="0.6"/>
<path d="M796.5,651.7 L799.5,651.2 L802.5,650.7 L805.5,650.2 L808.5,649.7 L811.5,649.1 L814.5,648.6 L817.5,648.1 L820.5,647.6 L823.4,647.1 L826.4,646.6 L829.4,646.1 L832.4,645.6 L835.4,645.1 L838.4,644.6 L841.4,644.1 L844.4,643.6 L847.4,643.1 L850.4,642.6 L853.4,642.1 L856.4,641.6 L859.4,641.1 L862.4,640.6 L865.4,640.1 L868.4,639.6 L871.4,639.1 L874.4,638.6 L877.3,638.1 L880.3,637.6 L883.3,637.1 L886.3,636.7 L889.3,636.2 L892.3,635.7 L895.3,635.2 L898.3,634.7 L901.3,634.2 L904.3,633.7 L907.3,633.2 L910.3,632.7 L913.3,632.2 L916.3,631.8 L919.3,631.3 L922.3,630.8 L925.3,630.3 L928.2,629.8 L931.2,629.3 L934.2,628.9 L937.2,628.4 L940.2,627.9 L943.2,627.4 L946.2,626.9 L949.2,626.4 L952.2,626.0 L955.2,625.5 L958.2,625.0 L961.2,624.5 L964.2,624.1 L967.2,623.6 L970.2,623.1 L973.2,622.6 L976.2,622.2 L979.2,621.7 L982.1,621.2 L985.1,620.7 L988.1,620.3 L991.1,619.8 L994.1,619.3 L997.1,618.9 L1000.1,618.4 L1003.1,617.9 L1006.1,617.4 L1009.1,617.0 L1012.1,616.5 L1015.1,616.0 L1018.1,615.6 L1021.1,615.1 L1024.1,614.6 L1027.1,614.2 L1030.1,613.7 L1033.1,613.3 L1036.0,612.8 L1039.0,612.3 L1042.0,611.9 L1045.0,611.4 L1048.0,611.0 L1051.0,610.5 L1054.0,610.0 L1057.0,609.6 L1060.0,609.1 L1063.0,608.7 L1066.0,608.2 L1069.0,607.7 L1072.0,607.3 L1075.0,606.8 L1078.0,606.4 L1081.0,605.9 L1084.0,605.5 L1086.9,605.0 L1089.9,604.6 L1092.9,604.1 L1095.9,603.7 L1098.9,603.2 L1101.9,602.8 L1104.9,602.3 L1107.9,601.9 L1110.9,601.4 L1113.9,601.0 L1116.9,600.5 L1119.9,600.1 L1122.9,599.6 L1125.9,599.2 L1128.9,598.8 L1131.9,598.3 L1134.9,597.9 L1137.9,597.4 L1140.8,597.0 L1143.8,596.5 L1146.8,596.1 L1149.8,595.7 L1152.8,595.2 L1155.8,594.8 L1158.8,594.4 L1161.8,593.9 L1164.8,593.5 L1167.8,593.0 L1170.8,592.6 L1173.8,592.2 L1176.8,591.7 L1179.8,591.3 L1182.8,590.9 L1185.8,590.4 L1188.8,590.0 L1191.8,589.6 L1194.7,589.1 L1197.7,588.7 L1200.7,588.3 L1203.7,587.9 L1206.7,587.4 L1209.7,587.0 L1212.7,586.6 L1215.7,586.2 L1218.7,585.7 L1221.7,585.3 L1224.7,584.9 L1227.7,584.5 L1230.7,584.0 L1233.7,583.6 L1236.7,583.2 L1239.7,582.8 L1242.7,582.3 L1245.6,581.9 L1248.6,581.5 L1251.6,581.1 L1254.6,580.7 L1257.6,580.2 L1260.6,579.8 L1263.6,579.4 L1266.6,579.0 L1269.6,578.6 L1272.6,578.2 L1275.6,577.8 L1278.6,577.3 L1281.6,576.9 L1284.6,576.5 L1287.6,576.1 L1290.6,575.7 L1293.6,575.3 L1296.6,574.9 L1299.5,574.5 L1302.5,574.0 L1305.5,573.6 L1308.5,573.2 L1311.5,572.8 L1314.5,572.4 L1317.5,572.0 L1320.5,571.6 L1323.5,571.2 L1323.5,535.2 L796.5,535.2 Z" fill="#168b68" stroke="#168b68" stroke-width="0.6"/>
<path d="M796.5,620.5 L799.5,619.9 L802.5,619.4 L805.5,618.9 L808.5,618.4 L811.5,617.9 L814.5,617.4 L817.5,616.9 L820.5,616.4 L823.4,615.9 L826.4,615.4 L829.4,614.9 L832.4,614.4 L835.4,613.9 L838.4,613.4 L841.4,612.9 L844.4,612.4 L847.4,611.8 L850.4,611.3 L853.4,610.8 L856.4,610.3 L859.4,609.8 L862.4,609.3 L865.4,608.8 L868.4,608.3 L871.4,607.8 L874.4,607.3 L877.3,606.8 L880.3,606.3 L883.3,605.8 L886.3,605.3 L889.3,604.8 L892.3,604.3 L895.3,603.7 L898.3,603.2 L901.3,602.7 L904.3,602.2 L907.3,601.7 L910.3,601.2 L913.3,600.7 L916.3,600.2 L919.3,599.7 L922.3,599.2 L925.3,598.7 L928.2,598.2 L931.2,597.7 L934.2,597.2 L937.2,596.7 L940.2,596.2 L943.2,595.6 L946.2,595.1 L949.2,594.6 L952.2,594.1 L955.2,593.6 L958.2,593.1 L961.2,592.6 L964.2,592.1 L967.2,591.6 L970.2,591.1 L973.2,590.6 L976.2,590.1 L979.2,589.6 L982.1,589.1 L985.1,588.6 L988.1,588.1 L991.1,587.6 L994.1,587.0 L997.1,586.5 L1000.1,586.0 L1003.1,585.5 L1006.1,585.0 L1009.1,584.5 L1012.1,584.0 L1015.1,583.5 L1018.1,583.0 L1021.1,582.5 L1024.1,582.0 L1027.1,581.5 L1030.1,581.0 L1033.1,580.5 L1036.0,580.0 L1039.0,579.5 L1042.0,578.9 L1045.0,578.4 L1048.0,577.9 L1051.0,577.4 L1054.0,576.9 L1057.0,576.4 L1060.0,575.9 L1063.0,575.4 L1066.0,574.9 L1069.0,574.4 L1072.0,573.9 L1075.0,573.4 L1078.0,572.9 L1081.0,572.4 L1084.0,571.9 L1086.9,571.4 L1089.9,570.8 L1092.9,570.3 L1095.9,569.8 L1098.9,569.3 L1101.9,568.8 L1104.9,568.3 L1107.9,567.8 L1110.9,567.3 L1113.9,566.8 L1116.9,566.3 L1119.9,565.8 L1122.9,565.3 L1125.9,564.8 L1128.9,564.3 L1131.9,563.8 L1134.9,563.3 L1137.9,562.7 L1140.8,562.2 L1143.8,561.7 L1146.8,561.2 L1149.8,560.7 L1152.8,560.2 L1155.8,559.7 L1158.8,559.2 L1161.8,558.7 L1164.8,558.2 L1167.8,557.7 L1170.8,557.2 L1173.8,556.7 L1176.8,556.2 L1179.8,555.7 L1182.8,555.2 L1185.8,554.6 L1188.8,554.1 L1191.8,553.6 L1194.7,553.1 L1197.7,552.6 L1200.7,552.1 L1203.7,551.6 L1206.7,551.1 L1209.7,550.6 L1212.7,550.1 L1215.7,549.6 L1218.7,549.1 L1221.7,548.6 L1224.7,548.1 L1227.7,547.6 L1230.7,547.1 L1233.7,546.6 L1236.7,546.0 L1239.7,545.5 L1242.7,545.0 L1245.6,544.5 L1248.6,544.0 L1251.6,543.5 L1254.6,543.0 L1257.6,542.5 L1260.6,542.0 L1263.6,541.5 L1266.6,541.0 L1269.6,540.5 L1272.6,540.0 L1275.6,539.5 L1278.6,539.0 L1281.6,538.5 L1284.6,537.9 L1287.6,537.4 L1290.6,536.9 L1293.6,536.4 L1296.6,535.9 L1299.5,535.4 L1302.5,534.9 L1305.5,534.4 L1308.5,533.9 L1311.5,533.4 L1314.5,532.9 L1317.5,532.4 L1320.5,531.9 L1323.5,531.4 L1323.5,535.2 L796.5,535.2 Z" fill="#008068" stroke="#008068" stroke-width="0.6"/>
<path d="M796.5,1069.4 L799.5,1068.9 L802.5,1068.5 L805.5,1068.0 L808.5,1067.6 L811.5,1067.1 L814.5,1066.7 L817.5,1066.2 L820.5,1065.7 L823.4,1065.3 L826.4,1064.8 L829.4,1064.4 L832.4,1063.9 L835.4,1063.4 L838.4,1063.0 L841.4,1062.5 L844.4,1062.1 L847.4,1061.6 L850.4,1061.2 L853.4,1060.7 L856.4,1060.2 L859.4,1059.8 L862.4,1059.3 L865.4,1058.9 L868.4,1058.4 L871.4,1058.0 L874.4,1057.5 L877.3,1057.0 L880.3,1056.6 L883.3,1056.1 L886.3,1055.7 L889.3,1055.2 L892.3,1054.8 L895.3,1054.3 L898.3,1053.8 L901.3,1053.4 L904.3,1052.9 L907.3,1052.5 L910.3,1052.0 L913.3,1051.5 L916.3,1051.1 L919.3,1050.6 L922.3,1050.2 L925.3,1049.7 L928.2,1049.3 L931.2,1048.8 L934.2,1048.3 L937.2,1047.9 L940.2,1047.4 L943.2,1047.0 L946.2,1046.5 L949.2,1046.1 L952.2,1045.6 L955.2,1045.1 L958.2,1044.7 L961.2,1044.2 L964.2,1043.8 L967.2,1043.3 L970.2,1042.8 L973.2,1042.4 L976.2,1041.9 L979.2,1041.5 L982.1,1041.0 L985.1,1040.6 L988.1,1040.1 L991.1,1039.6 L994.1,1039.2 L997.1,1038.7 L1000.1,1038.3 L1003.1,1037.8 L1006.1,1037.4 L1009.1,1036.9 L1012.1,1036.4 L1015.1,1036.0 L1018.1,1035.5 L1021.1,1035.1 L1024.1,1034.6 L1027.1,1034.1 L1030.1,1033.7 L1033.1,1033.2 L1036.0,1032.8 L1039.0,1032.3 L1042.0,1031.9 L1045.0,1031.4 L1048.0,1030.9 L1051.0,1030.5 L1054.0,1030.0 L1057.0,1029.6 L1060.0,1029.1 L1063.0,1028.7 L1066.0,1028.2 L1069.0,1027.7 L1072.0,1027.3 L1075.0,1026.8 L1078.0,1026.4 L1081.0,1025.9 L1084.0,1025.4 L1086.9,1025.0 L1089.9,1024.5 L1092.9,1024.1 L1095.9,1023.6 L1098.9,1023.2 L1101.9,1022.7 L1104.9,1022.2 L1107.9,1021.8 L1110.9,1021.3 L1113.9,1020.9 L1116.9,1020.4 L1119.9,1020.0 L1122.9,1019.5 L1125.9,1019.0 L1128.9,1018.6 L1131.9,1018.1 L1134.9,1017.7 L1137.9,1017.2 L1140.8,1016.8 L1143.8,1016.3 L1146.8,1015.8 L1149.8,1015.4 L1152.8,1014.9 L1155.8,1014.5 L1158.8,1014.0 L1161.8,1013.5 L1164.8,1013.1 L1167.8,1012.6 L1170.8,1012.2 L1173.8,1011.7 L1176.8,1011.3 L1179.8,1010.8 L1182.8,1010.3 L1185.8,1009.9 L1188.8,1009.4 L1191.8,1009.0 L1194.7,1008.5 L1197.7,1008.1 L1200.7,1007.6 L1203.7,1007.1 L1206.7,1006.7 L1209.7,1006.2 L1212.7,1005.8 L1215.7,1005.3 L1218.7,1004.8 L1221.7,1004.4 L1224.7,1003.9 L1227.7,1003.5 M1290.6,993.9 L1293.6,993.4 L1296.6,992.9 L1299.5,992.5 L1302.5,992.0 L1305.5,991.6 L1308.5,991.1 L1311.5,990.7 L1314.5,990.2 L1317.5,989.7 L1320.5,989.3 L1323.5,988.8" fill="none" stroke="#000" stroke-width="0.9"/>
<path d="M796.5,994.1 L799.5,993.6 L802.5,993.2 L805.5,992.7 L808.5,992.3 L811.5,991.8 L814.5,991.4 L817.5,991.0 L820.5,990.5 L823.4,990.1 L826.4,989.6 L829.4,989.2 L832.4,988.7 L835.4,988.3 L838.4,987.8 L841.4,987.4 L844.4,986.9 L847.4,986.5 M925.3,974.8 L928.2,974.3 L931.2,973.9 L934.2,973.4 L937.2,973.0 L940.2,972.5 L943.2,972.1 L946.2,971.6 L949.2,971.2 L952.2,970.7 L955.2,970.3 L958.2,969.8 L961.2,969.4 L964.2,968.9 L967.2,968.5 L970.2,968.0 L973.2,967.6 L976.2,967.1 L979.2,966.7 L982.1,966.2 L985.1,965.8 L988.1,965.3 L991.1,964.9 L994.1,964.4 L997.1,964.0 L1000.1,963.5 L1003.1,963.1 L1006.1,962.6 L1009.1,962.2 L1012.1,961.7 L1015.1,961.3 L1018.1,960.8 L1021.1,960.4 L1024.1,959.9 L1027.1,959.5 L1030.1,959.0 L1033.1,958.6 L1036.0,958.1 L1039.0,957.7 M1113.9,946.4 L1116.9,945.9 L1119.9,945.5 L1122.9,945.0 L1125.9,944.6 L1128.9,944.1 L1131.9,943.7 L1134.9,943.2 L1137.9,942.8 L1140.8,942.3 L1143.8,941.9 L1146.8,941.4 L1149.8,941.0 L1152.8,940.5 L1155.8,940.1 L1158.8,939.6 L1161.8,939.2 L1164.8,938.7 L1167.8,938.3 L1170.8,937.8 L1173.8,937.4 L1176.8,936.9 L1179.8,936.4 L1182.8,936.0 L1185.8,935.5 L1188.8,935.1 L1191.8,934.6 L1194.7,934.2 L1197.7,933.7 L1200.7,933.3 L1203.7,932.8 L1206.7,932.4 L1209.7,931.9 L1212.7,931.5 L1215.7,931.0 L1218.7,930.6 L1221.7,930.1 L1224.7,929.7 L1227.7,929.2 L1230.7,928.8 L1233.7,928.3 L1236.7,927.8 L1239.7,927.4 L1242.7,926.9 L1245.6,926.5 L1248.6,926.0 L1251.6,925.6 L1254.6,925.1 L1257.6,924.7 L1260.6,924.2 L1263.6,923.8 L1266.6,923.3 L1269.6,922.9 L1272.6,922.4 L1275.6,922.0 L1278.6,921.5 L1281.6,921.0 L1284.6,920.6 L1287.6,920.1 L1290.6,919.7 L1293.6,919.2 L1296.6,918.8 L1299.5,918.3 L1302.5,917.9 L1305.5,917.4 L1308.5,917.0 L1311.5,916.5 L1314.5,916.1 L1317.5,915.6 L1320.5,915.2 L1323.5,914.7" fill="none" stroke="#000" stroke-width="0.9"/>
<path d="M796.5,928.4 L799.5,927.9 L802.5,927.5 L805.5,927.0 L808.5,926.6 L811.5,926.2 L814.5,925.7 L817.5,925.3 L820.5,924.8 L823.4,924.4 L826.4,923.9 L829.4,923.5 L832.4,923.1 L835.4,922.6 L838.4,922.2 L841.4,921.7 L844.4,921.3 L847.4,920.8 M916.3,910.5 L919.3,910.1 L922.3,909.6 L925.3,909.2 L928.2,908.7 L931.2,908.3 L934.2,907.8 L937.2,907.4 L940.2,906.9 L943.2,906.5 L946.2,906.0 L949.2,905.5 L952.2,905.1 L955.2,904.6 L958.2,904.2 L961.2,903.7 L964.2,903.3 L967.2,902.8 L970.2,902.4 L973.2,901.9 L976.2,901.5 L979.2,901.0 L982.1,900.5 L985.1,900.1 L988.1,899.6 L991.1,899.2 L994.1,898.7 L997.1,898.3 L1000.1,897.8 L1003.1,897.3 L1006.1,896.9 L1009.1,896.4 L1012.1,896.0 L1015.1,895.5 L1018.1,895.0 L1021.1,894.6 L1024.1,894.1 L1027.1,893.7 L1030.1,893.2 L1033.1,892.7 L1036.0,892.3 L1039.0,891.8 M1104.9,881.6 L1107.9,881.2 L1110.9,880.7 L1113.9,880.2 L1116.9,879.8 L1119.9,879.3 L1122.9,878.8 L1125.9,878.4 L1128.9,877.9 L1131.9,877.4 L1134.9,876.9 L1137.9,876.5 L1140.8,876.0 L1143.8,875.5 L1146.8,875.1 L1149.8,874.6 L1152.8,874.1 L1155.8,873.7 L1158.8,873.2 L1161.8,872.7 L1164.8,872.2 L1167.8,871.8 L1170.8,871.3 L1173.8,870.8 L1176.8,870.4 L1179.8,869.9 L1182.8,869.4 L1185.8,868.9 L1188.8,868.5 L1191.8,868.0 L1194.7,867.5 L1197.7,867.0 L1200.7,866.6 L1203.7,866.1 L1206.7,865.6 L1209.7,865.1 L1212.7,864.7 L1215.7,864.2 L1218.7,863.7 L1221.7,863.2 L1224.7,862.8 L1227.7,862.3 L1230.7,861.8 M1293.6,851.8 L1296.6,851.3 L1299.5,850.8 L1302.5,850.3 L1305.5,849.8 L1308.5,849.3 L1311.5,848.9 L1314.5,848.4 L1317.5,847.9 L1320.5,847.4 L1323.5,846.9" fill="none" stroke="#000" stroke-width="0.9"/>
<path d="M796.5,869.9 L799.5,869.5 L802.5,869.0 L805.5,868.6 L808.5,868.1 L811.5,867.6 L814.5,867.2 L817.5,866.7 L820.5,866.3 L823.4,865.8 L826.4,865.4 L829.4,864.9 L832.4,864.4 L835.4,864.0 L838.4,863.5 L841.4,863.1 L844.4,862.6 L847.4,862.2 M925.3,850.2 L928.2,849.7 L931.2,849.2 L934.2,848.8 L937.2,848.3 L940.2,847.8 L943.2,847.4 L946.2,846.9 L949.2,846.4 L952.2,846.0 L955.2,845.5 L958.2,845.0 L961.2,844.6 L964.2,844.1 L967.2,843.6 L970.2,843.2 L973.2,842.7 L976.2,842.2 L979.2,841.8 L982.1,841.3 L985.1,840.8 L988.1,840.4 L991.1,839.9 L994.1,839.4 L997.1,839.0 L1000.1,838.5 L1003.1,838.0 L1006.1,837.6 L1009.1,837.1 L1012.1,836.6 L1015.1,836.1 L1018.1,835.7 L1021.1,835.2 L1024.1,834.7 L1027.1,834.3 L1030.1,833.8 L1033.1,833.3 L1036.0,832.8 L1039.0,832.4 M1113.9,820.5 L1116.9,820.0 L1119.9,819.5 L1122.9,819.1 L1125.9,818.6 L1128.9,818.1 L1131.9,817.6 L1134.9,817.2 L1137.9,816.7 L1140.8,816.2 L1143.8,815.7 L1146.8,815.2 L1149.8,814.8 L1152.8,814.3 L1155.8,813.8 L1158.8,813.3 L1161.8,812.8 L1164.8,812.4 L1167.8,811.9 L1170.8,811.4 L1173.8,810.9 L1176.8,810.4 L1179.8,810.0 L1182.8,809.5 L1185.8,809.0 L1188.8,808.5 L1191.8,808.0 L1194.7,807.5 L1197.7,807.1 L1200.7,806.6 L1203.7,806.1 L1206.7,805.6 L1209.7,805.1 L1212.7,804.6 L1215.7,804.2 L1218.7,803.7 L1221.7,803.2 L1224.7,802.7 L1227.7,802.2 L1230.7,801.7 L1233.7,801.2 L1236.7,800.8 L1239.7,800.3 L1242.7,799.8 L1245.6,799.3 L1248.6,798.8 L1251.6,798.3 L1254.6,797.8 L1257.6,797.3 L1260.6,796.9 L1263.6,796.4 L1266.6,795.9 L1269.6,795.4 L1272.6,794.9 L1275.6,794.4 L1278.6,793.9 L1281.6,793.4 L1284.6,793.0 L1287.6,792.5 L1290.6,792.0 L1293.6,791.5 L1296.6,791.0 L1299.5,790.5 L1302.5,790.0 L1305.5,789.5 L1308.5,789.0 L1311.5,788.5 L1314.5,788.1 L1317.5,787.6 L1320.5,787.1 L1323.5,786.6" fill="none" stroke="#000" stroke-width="0.9"/>
<path d="M796.5,817.0 L799.5,816.5 L802.5,816.0 L805.5,815.6 L808.5,815.1 L811.5,814.7 L814.5,814.2 L817.5,813.7 L820.5,813.3 L823.4,812.8 L826.4,812.4 L829.4,811.9 L832.4,811.4 L835.4,811.0 L838.4,810.5 L841.4,810.0 L844.4,809.6 L847.4,809.1 M916.3,798.4 L919.3,797.9 L922.3,797.5 L925.3,797.0 L928.2,796.5 L931.2,796.1 L934.2,795.6 L937.2,795.1 L940.2,794.7 L943.2,794.2 L946.2,793.7 L949.2,793.2 L952.2,792.8 L955.2,792.3 L958.2,791.8 L961.2,791.4 L964.2,790.9 L967.2,790.4 L970.2,789.9 L973.2,789.5 L976.2,789.0 L979.2,788.5 L982.1,788.0 L985.1,787.6 L988.1,787.1 L991.1,786.6 L994.1,786.1 L997.1,785.7 L1000.1,785.2 L1003.1,784.7 L1006.1,784.2 L1009.1,783.8 L1012.1,783.3 L1015.1,782.8 L1018.1,782.3 L1021.1,781.8 L1024.1,781.4 L1027.1,780.9 L1030.1,780.4 L1033.1,779.9 L1036.0,779.5 L1039.0,779.0 M1104.9,768.4 L1107.9,767.9 L1110.9,767.4 L1113.9,766.9 L1116.9,766.4 L1119.9,766.0 L1122.9,765.5 L1125.9,765.0 L1128.9,764.5 L1131.9,764.0 L1134.9,763.5 L1137.9,763.0 L1140.8,762.5 L1143.8,762.1 L1146.8,761.6 L1149.8,761.1 L1152.8,760.6 L1155.8,760.1 L1158.8,759.6 L1161.8,759.1 L1164.8,758.6 L1167.8,758.1 L1170.8,757.7 L1173.8,757.2 L1176.8,756.7 L1179.8,756.2 L1182.8,755.7 L1185.8,755.2 L1188.8,754.7 L1191.8,754.2 L1194.7,753.7 L1197.7,753.2 L1200.7,752.7 L1203.7,752.2 L1206.7,751.8 L1209.7,751.3 L1212.7,750.8 L1215.7,750.3 L1218.7,749.8 L1221.7,749.3 L1224.7,748.8 L1227.7,748.3 L1230.7,747.8 M1293.6,737.3 L1296.6,736.8 L1299.5,736.3 L1302.5,735.8 L1305.5,735.3 L1308.5,734.8 L1311.5,734.3 L1314.5,733.8 L1317.5,733.3 L1320.5,732.8 L1323.5,732.3" fill="none" stroke="#000" stroke-width="0.9"/>
<path d="M796.5,769.2 L799.5,768.7 L802.5,768.2 L805.5,767.7 L808.5,767.3 L811.5,766.8 L814.5,766.3 L817.5,765.8 L820.5,765.4 L823.4,764.9 L826.4,764.4 L829.4,763.9 L832.4,763.5 L835.4,763.0 L838.4,762.5 L841.4,762.0 L844.4,761.6 L847.4,761.1 L850.4,760.6 L853.4,760.1 L856.4,759.7 M916.3,750.1 L919.3,749.7 L922.3,749.2 L925.3,748.7 L928.2,748.2 L931.2,747.8 L934.2,747.3 L937.2,746.8 L940.2,746.3 L943.2,745.9 L946.2,745.4 L949.2,744.9 L952.2,744.4 L955.2,744.0 L958.2,743.5 L961.2,743.0 L964.2,742.5 L967.2,742.1 L970.2,741.6 L973.2,741.1 L976.2,740.6 L979.2,740.1 L982.1,739.7 L985.1,739.2 L988.1,738.7 L991.1,738.2 L994.1,737.8 L997.1,737.3 L1000.1,736.8 L1003.1,736.3 L1006.1,735.9 L1009.1,735.4 L1012.1,734.9 L1015.1,734.4 L1018.1,733.9 L1021.1,733.5 L1024.1,733.0 L1027.1,732.5 L1030.1,732.0 L1033.1,731.6 L1036.0,731.1 L1039.0,730.6 L1042.0,730.1 L1045.0,729.7 L1048.0,729.2 M1104.9,720.1 L1107.9,719.6 L1110.9,719.1 L1113.9,718.7 L1116.9,718.2 L1119.9,717.7 L1122.9,717.2 L1125.9,716.8 L1128.9,716.3 L1131.9,715.8 L1134.9,715.3 L1137.9,714.8 L1140.8,714.4 L1143.8,713.9 L1146.8,713.4 L1149.8,712.9 L1152.8,712.4 L1155.8,712.0 L1158.8,711.5 L1161.8,711.0 L1164.8,710.5 L1167.8,710.1 L1170.8,709.6 L1173.8,709.1 L1176.8,708.6 L1179.8,708.1 L1182.8,707.7 L1185.8,707.2 L1188.8,706.7 L1191.8,706.2 L1194.7,705.7 L1197.7,705.3 L1200.7,704.8 L1203.7,704.3 L1206.7,703.8 L1209.7,703.3 L1212.7,702.9 L1215.7,702.4 L1218.7,701.9 L1221.7,701.4 L1224.7,701.0 L1227.7,700.5 L1230.7,700.0 L1233.7,699.5 L1236.7,699.0 M1293.6,689.9 L1296.6,689.4 L1299.5,689.0 L1302.5,688.5 L1305.5,688.0 L1308.5,687.5 L1311.5,687.0 L1314.5,686.6 L1317.5,686.1 L1320.5,685.6 L1323.5,685.1" fill="none" stroke="#000" stroke-width="0.9"/>
<path d="M796.5,726.2 L799.5,725.7 L802.5,725.2 L805.5,724.7 L808.5,724.2 L811.5,723.7 L814.5,723.2 L817.5,722.7 L820.5,722.2 L823.4,721.7 L826.4,721.2 L829.4,720.7 L832.4,720.2 L835.4,719.7 L838.4,719.2 L841.4,718.7 L844.4,718.2 L847.4,717.7 L850.4,717.2 L853.4,716.7 L856.4,716.2 L859.4,715.7 L862.4,715.2 L865.4,714.7 L868.4,714.2 L871.4,713.7 L874.4,713.2 L877.3,712.7 L880.3,712.2 L883.3,711.8 L886.3,711.3 L889.3,710.8 M913.3,706.8 L916.3,706.3 L919.3,705.9 L922.3,705.4 L925.3,704.9 L928.2,704.4 L931.2,703.9 L934.2,703.4 L937.2,702.9 L940.2,702.4 L943.2,701.9 L946.2,701.5 L949.2,701.0 L952.2,700.5 L955.2,700.0 L958.2,699.5 L961.2,699.0 L964.2,698.5 L967.2,698.1 L970.2,697.6 L973.2,697.1 L976.2,696.6 L979.2,696.1 L982.1,695.6 L985.1,695.2 L988.1,694.7 L991.1,694.2 L994.1,693.7 L997.1,693.2 L1000.1,692.7 L1003.1,692.3 L1006.1,691.8 L1009.1,691.3 L1012.1,690.8 L1015.1,690.3 L1018.1,689.9 L1021.1,689.4 L1024.1,688.9 L1027.1,688.4 L1030.1,687.9 L1033.1,687.5 L1036.0,687.0 L1039.0,686.5 L1042.0,686.0 L1045.0,685.6 L1048.0,685.1 L1051.0,684.6 L1054.0,684.1 L1057.0,683.7 L1060.0,683.2 L1063.0,682.7 L1066.0,682.2 L1069.0,681.8 L1072.0,681.3 L1075.0,680.8 L1078.0,680.3 L1081.0,679.9 M1104.9,676.1 L1107.9,675.6 L1110.9,675.2 L1113.9,674.7 L1116.9,674.2 L1119.9,673.8 L1122.9,673.3 L1125.9,672.8 L1128.9,672.3 L1131.9,671.9 L1134.9,671.4 L1137.9,670.9 L1140.8,670.5 L1143.8,670.0 L1146.8,669.6 L1149.8,669.1 L1152.8,668.6 L1155.8,668.2 L1158.8,667.7 L1161.8,667.2 L1164.8,666.8 L1167.8,666.3 L1170.8,665.8 L1173.8,665.4 L1176.8,664.9 L1179.8,664.4 L1182.8,664.0 L1185.8,663.5 L1188.8,663.1 L1191.8,662.6 L1194.7,662.1 L1197.7,661.7 L1200.7,661.2 L1203.7,660.8 L1206.7,660.3 L1209.7,659.8 L1212.7,659.4 L1215.7,658.9 L1218.7,658.5 L1221.7,658.0 L1224.7,657.6 L1227.7,657.1 L1230.7,656.6 L1233.7,656.2 L1236.7,655.7 L1239.7,655.3 L1242.7,654.8 L1245.6,654.4 L1248.6,653.9 L1251.6,653.5 L1254.6,653.0 L1257.6,652.5 L1260.6,652.1 L1263.6,651.6 L1266.6,651.2 L1269.6,650.7 L1272.6,650.3 M1293.6,647.1 L1296.6,646.7 L1299.5,646.2 L1302.5,645.8 L1305.5,645.3 L1308.5,644.9 L1311.5,644.4 L1314.5,644.0 L1317.5,643.5 L1320.5,643.1 L1323.5,642.6" fill="none" stroke="#000" stroke-width="0.9"/>
<path d="M796.5,687.6 L799.5,687.1 L802.5,686.6 L805.5,686.1 L808.5,685.6 L811.5,685.1 L814.5,684.6 L817.5,684.0 L820.5,683.5 L823.4,683.0 L826.4,682.5 L829.4,682.0 L832.4,681.5 L835.4,681.0 L838.4,680.5 L841.4,680.0 L844.4,679.4 L847.4,678.9 M916.3,667.4 L919.3,666.9 L922.3,666.5 L925.3,666.0 L928.2,665.5 L931.2,665.0 L934.2,664.5 L937.2,664.0 L940.2,663.5 L943.2,663.0 L946.2,662.5 L949.2,662.1 L952.2,661.6 L955.2,661.1 L958.2,660.6 L961.2,660.1 L964.2,659.6 L967.2,659.1 L970.2,658.7 L973.2,658.2 L976.2,657.7 L979.2,657.2 L982.1,656.7 L985.1,656.3 L988.1,655.8 L991.1,655.3 L994.1,654.8 L997.1,654.4 L1000.1,653.9 L1003.1,653.4 L1006.1,652.9 L1009.1,652.5 L1012.1,652.0 L1015.1,651.5 L1018.1,651.0 L1021.1,650.6 L1024.1,650.1 L1027.1,649.6 L1030.1,649.1 L1033.1,648.7 L1036.0,648.2 L1039.0,647.7 M1104.9,637.6 L1107.9,637.1 L1110.9,636.7 L1113.9,636.2 L1116.9,635.8 L1119.9,635.3 L1122.9,634.9 L1125.9,634.4 L1128.9,634.0 L1131.9,633.5 L1134.9,633.1 L1137.9,632.6 L1140.8,632.2 L1143.8,631.7 L1146.8,631.3 L1149.8,630.8 L1152.8,630.4 L1155.8,630.0 L1158.8,629.5 L1161.8,629.1 L1164.8,628.6 L1167.8,628.2 L1170.8,627.7 L1173.8,627.3 L1176.8,626.9 L1179.8,626.4 L1182.8,626.0 L1185.8,625.5 L1188.8,625.1 L1191.8,624.7 L1194.7,624.2 L1197.7,623.8 L1200.7,623.4 L1203.7,622.9 L1206.7,622.5 L1209.7,622.1 L1212.7,621.6 L1215.7,621.2 L1218.7,620.8 L1221.7,620.3 L1224.7,619.9 L1227.7,619.5 M1293.6,610.2 L1296.6,609.7 L1299.5,609.3 L1302.5,608.9 L1305.5,608.5 L1308.5,608.1 L1311.5,607.7 L1314.5,607.3 L1317.5,606.8 L1320.5,606.4 L1323.5,606.0" fill="none" stroke="#000" stroke-width="0.9"/>
<path d="M796.5,651.7 L799.5,651.2 L802.5,650.7 L805.5,650.2 L808.5,649.7 L811.5,649.1 L814.5,648.6 L817.5,648.1 L820.5,647.6 L823.4,647.1 L826.4,646.6 L829.4,646.1 L832.4,645.6 L835.4,645.1 L838.4,644.6 L841.4,644.1 L844.4,643.6 L847.4,643.1 L850.4,642.6 L853.4,642.1 L856.4,641.6 L859.4,641.1 L862.4,640.6 L865.4,640.1 M940.2,627.9 L943.2,627.4 L946.2,626.9 L949.2,626.4 L952.2,626.0 L955.2,625.5 L958.2,625.0 L961.2,624.5 L964.2,624.1 L967.2,623.6 L970.2,623.1 L973.2,622.6 L976.2,622.2 L979.2,621.7 L982.1,621.2 L985.1,620.7 L988.1,620.3 L991.1,619.8 L994.1,619.3 L997.1,618.9 L1000.1,618.4 L1003.1,617.9 L1006.1,617.4 L1009.1,617.0 L1012.1,616.5 L1015.1,616.0 L1018.1,615.6 L1021.1,615.1 L1024.1,614.6 L1027.1,614.2 L1030.1,613.7 L1033.1,613.3 L1036.0,612.8 L1039.0,612.3 L1042.0,611.9 L1045.0,611.4 L1048.0,611.0 L1051.0,610.5 L1054.0,610.0 L1057.0,609.6 M1128.9,598.8 L1131.9,598.3 L1134.9,597.9 L1137.9,597.4 L1140.8,597.0 L1143.8,596.5 L1146.8,596.1 L1149.8,595.7 L1152.8,595.2 L1155.8,594.8 L1158.8,594.4 L1161.8,593.9 L1164.8,593.5 L1167.8,593.0 L1170.8,592.6 L1173.8,592.2 L1176.8,591.7 L1179.8,591.3 L1182.8,590.9 L1185.8,590.4 L1188.8,590.0 L1191.8,589.6 L1194.7,589.1 L1197.7,588.7 L1200.7,588.3 L1203.7,587.9 L1206.7,587.4 L1209.7,587.0 L1212.7,586.6 L1215.7,586.2 L1218.7,585.7 L1221.7,585.3 L1224.7,584.9 L1227.7,584.5 L1230.7,584.0 L1233.7,583.6 L1236.7,583.2 L1239.7,582.8 L1242.7,582.3 L1245.6,581.9 L1248.6,581.5 L1251.6,581.1 L1254.6,580.7 L1257.6,580.2 L1260.6,579.8 L1263.6,579.4 L1266.6,579.0 L1269.6,578.6 L1272.6,578.2 L1275.6,577.8 L1278.6,577.3 L1281.6,576.9 L1284.6,576.5 L1287.6,576.1 L1290.6,575.7 L1293.6,575.3 L1296.6,574.9 L1299.5,574.5 L1302.5,574.0 L1305.5,573.6 L1308.5,573.2 L1311.5,572.8 L1314.5,572.4 L1317.5,572.0 L1320.5,571.6 L1323.5,571.2" fill="none" stroke="#000" stroke-width="0.9"/>
<path d="M796.5,620.5 L799.5,619.9 L802.5,619.4 L805.5,618.9 L808.5,618.4 L811.5,617.9 L814.5,617.4 L817.5,616.9 L820.5,616.4 L823.4,615.9 L826.4,615.4 L829.4,614.9 L832.4,614.4 L835.4,613.9 L838.4,613.4 L841.4,612.9 L844.4,612.4 L847.4,611.8 L850.4,611.3 L853.4,610.8 L856.4,610.3 L859.4,609.8 L862.4,609.3 L865.4,608.8 L868.4,608.3 L871.4,607.8 L874.4,607.3 L877.3,606.8 L880.3,606.3 L883.3,605.8 L886.3,605.3 L889.3,604.8 L892.3,604.3 L895.3,603.7 L898.3,603.2 L901.3,602.7 L904.3,602.2 L907.3,601.7 L910.3,601.2 L913.3,600.7 L916.3,600.2 L919.3,599.7 L922.3,599.2 L925.3,598.7 L928.2,598.2 L931.2,597.7 L934.2,597.2 L937.2,596.7 L940.2,596.2 L943.2,595.6 L946.2,595.1 L949.2,594.6 L952.2,594.1 L955.2,593.6 L958.2,593.1 L961.2,592.6 L964.2,592.1 L967.2,591.6 L970.2,591.1 L973.2,590.6 L976.2,590.1 L979.2,589.6 L982.1,589.1 L985.1,588.6 L988.1,588.1 L991.1,587.6 L994.1,587.0 L997.1,586.5 L1000.1,586.0 L1003.1,585.5 L1006.1,585.0 L1009.1,584.5 L1012.1,584.0 L1015.1,583.5 L1018.1,583.0 L1021.1,582.5 L1024.1,582.0 L1027.1,581.5 L1030.1,581.0 L1033.1,580.5 L1036.0,580.0 L1039.0,579.5 L1042.0,578.9 L1045.0,578.4 L1048.0,577.9 L1051.0,577.4 L1054.0,576.9 L1057.0,576.4 L1060.0,575.9 L1063.0,575.4 L1066.0,574.9 L1069.0,574.4 L1072.0,573.9 L1075.0,573.4 L1078.0,572.9 L1081.0,572.4 L1084.0,571.9 L1086.9,571.4 L1089.9,570.8 L1092.9,570.3 L1095.9,569.8 L1098.9,569.3 L1101.9,568.8 L1104.9,568.3 L1107.9,567.8 L1110.9,567.3 L1113.9,566.8 L1116.9,566.3 L1119.9,565.8 L1122.9,565.3 L1125.9,564.8 L1128.9,564.3 L1131.9,563.8 L1134.9,563.3 L1137.9,562.7 L1140.8,562.2 L1143.8,561.7 L1146.8,561.2 L1149.8,560.7 L1152.8,560.2 L1155.8,559.7 L1158.8,559.2 L1161.8,558.7 L1164.8,558.2 L1167.8,557.7 L1170.8,557.2 L1173.8,556.7 L1176.8,556.2 L1179.8,555.7 L1182.8,555.2 L1185.8,554.6 L1188.8,554.1 L1191.8,553.6 L1194.7,553.1 L1197.7,552.6 L1200.7,552.1 L1203.7,551.6 L1206.7,551.1 L1209.7,550.6 L1212.7,550.1 L1215.7,549.6 L1218.7,549.1 L1221.7,548.6 L1224.7,548.1 L1227.7,547.6 L1230.7,547.1 L1233.7,546.6 L1236.7,546.0 L1239.7,545.5 L1242.7,545.0 L1245.6,544.5 L1248.6,544.0 L1251.6,543.5 L1254.6,543.0 L1257.6,542.5 L1260.6,542.0 L1263.6,541.5 L1266.6,541.0 L1269.6,540.5 L1272.6,540.0 L1275.6,539.5 L1278.6,539.0 L1281.6,538.5 L1284.6,537.9 L1287.6,537.4 L1290.6,536.9 L1293.6,536.4 L1296.6,535.9 L1299.5,535.4 L1302.5,534.9 L1305.5,534.4 L1308.5,533.9 L1311.5,533.4 L1314.5,532.9 L1317.5,532.4 L1320.5,531.9 L1323.5,531.4" fill="none" stroke="#000" stroke-width="0.9"/>
</g>
<text x="1258.95" y="1004.41" transform="rotate(-8.69 1258.95 998.69)" font-size="16.1" text-anchor="middle" fill="#000">0.0003</text>
<text x="886.40" y="986.33" transform="rotate(-8.53 886.40 980.62)" font-size="16.1" text-anchor="middle" fill="#000">0.00025</text>
<text x="1076.70" y="957.72" transform="rotate(-8.57 1076.70 952.00)" font-size="16.1" text-anchor="middle" fill="#000">0.00025</text>
<text x="881.85" y="921.41" transform="rotate(-8.51 881.85 915.69)" font-size="16.1" text-anchor="middle" fill="#000">0.0002</text>
<text x="1072.15" y="892.43" transform="rotate(-8.80 1072.15 886.71)" font-size="16.1" text-anchor="middle" fill="#000">0.0002</text>
<text x="1261.95" y="862.54" transform="rotate(-9.09 1261.95 856.82)" font-size="16.1" text-anchor="middle" fill="#000">0.0002</text>
<text x="886.40" y="861.88" transform="rotate(-8.76 886.40 856.16)" font-size="16.1" text-anchor="middle" fill="#000">0.00015</text>
<text x="1076.70" y="832.13" transform="rotate(-9.01 1076.70 826.42)" font-size="16.1" text-anchor="middle" fill="#000">0.00015</text>
<text x="881.85" y="809.50" transform="rotate(-8.84 881.85 803.78)" font-size="16.1" text-anchor="middle" fill="#000">0.0001</text>
<text x="1072.15" y="779.38" transform="rotate(-9.14 1072.15 773.67)" font-size="16.1" text-anchor="middle" fill="#000">0.0001</text>
<text x="1261.95" y="748.33" transform="rotate(-9.44 1261.95 742.61)" font-size="16.1" text-anchor="middle" fill="#000">0.0001</text>
<text x="885.90" y="760.69" transform="rotate(-9.03 885.90 754.98)" font-size="16.1" text-anchor="middle" fill="#000">5e-05</text>
<text x="1076.15" y="730.40" transform="rotate(-9.06 1076.15 724.69)" font-size="16.1" text-anchor="middle" fill="#000">5e-05</text>
<text x="1265.95" y="700.06" transform="rotate(-9.10 1265.95 694.34)" font-size="16.1" text-anchor="middle" fill="#000">5e-05</text>
<text x="901.95" y="714.41" transform="rotate(-9.33 901.95 708.69)" font-size="16.1" text-anchor="middle" fill="#000">0</text>
<text x="1092.60" y="683.75" transform="rotate(-8.94 1092.60 678.03)" font-size="16.1" text-anchor="middle" fill="#000">0</text>
<text x="1283.05" y="654.42" transform="rotate(-8.56 1283.05 648.71)" font-size="16.1" text-anchor="middle" fill="#000">0</text>
<text x="882.35" y="678.78" transform="rotate(-9.48 882.35 673.07)" font-size="16.1" text-anchor="middle" fill="#000">-5e-05</text>
<text x="1072.15" y="648.32" transform="rotate(-8.76 1072.15 642.60)" font-size="16.1" text-anchor="middle" fill="#000">-5e-05</text>
<text x="1261.45" y="620.37" transform="rotate(-8.04 1261.45 614.66)" font-size="16.1" text-anchor="middle" fill="#000">-5e-05</text>
<text x="902.45" y="639.73" transform="rotate(-9.27 902.45 634.01)" font-size="16.1" text-anchor="middle" fill="#000">-0.0001</text>
<text x="1092.25" y="609.94" transform="rotate(-8.56 1092.25 604.23)" font-size="16.1" text-anchor="middle" fill="#000">-0.0001</text>
<g clip-path="url(#clipc11)">
<path d="M804.50,705.40 H1320.50" stroke="#000" stroke-width="3" stroke-dasharray="9.7 3.68" fill="none"/>
<path d="M889.40,1011.80 V590.20" stroke="#000" stroke-width="3" stroke-dasharray="9.7 3.68" fill="none"/>
<path d="M1146.00,1011.80 V590.20" stroke="#000" stroke-width="3" stroke-dasharray="9.7 3.68" fill="none"/>
</g>
<path d="M889.67,1011.80 V1006.30 M889.67,595.20 V600.70 M974.83,1011.80 V1006.30 M974.83,595.20 V600.70 M1060.00,1011.80 V1006.30 M1060.00,595.20 V600.70 M1145.17,1011.80 V1006.30 M1145.17,595.20 V600.70 M1230.33,1011.80 V1006.30 M1230.33,595.20 V600.70 M804.50,606.77 H810.00 M1315.50,606.77 H1310.00 M804.50,664.63 H810.00 M1315.50,664.63 H1310.00 M804.50,722.49 H810.00 M1315.50,722.49 H1310.00 M804.50,780.36 H810.00 M1315.50,780.36 H1310.00 M804.50,838.22 H810.00 M1315.50,838.22 H1310.00 M804.50,896.08 H810.00 M1315.50,896.08 H1310.00 M804.50,953.94 H810.00 M1315.50,953.94 H1310.00" stroke="#262626" stroke-opacity="0.9" stroke-width="1" fill="none"/>
<rect x="804.50" y="595.20" width="511.00" height="416.60" fill="none" stroke="#262626" stroke-opacity="0.7" stroke-width="0.9"/>
<text x="804.50" y="1038.10" font-size="20" text-anchor="middle" fill="#262626">0</text>
<text x="889.67" y="1038.10" font-size="20" text-anchor="middle" fill="#262626">5</text>
<text x="974.83" y="1038.10" font-size="20" text-anchor="middle" fill="#262626">10</text>
<text x="1060.00" y="1038.10" font-size="20" text-anchor="middle" fill="#262626">15</text>
<text x="1145.17" y="1038.10" font-size="20" text-anchor="middle" fill="#262626">20</text>
<text x="1230.33" y="1038.10" font-size="20" text-anchor="middle" fill="#262626">25</text>
<text x="1315.50" y="1038.10" font-size="20" text-anchor="middle" fill="#262626">30</text>
<text x="797.70" y="614.07" font-size="20" text-anchor="end" fill="#262626">265</text>
<text x="797.70" y="671.93" font-size="20" text-anchor="end" fill="#262626">270</text>
<text x="797.70" y="729.79" font-size="20" text-anchor="end" fill="#262626">275</text>
<text x="797.70" y="787.66" font-size="20" text-anchor="end" fill="#262626">280</text>
<text x="797.70" y="845.52" font-size="20" text-anchor="end" fill="#262626">285</text>
<text x="797.70" y="903.38" font-size="20" text-anchor="end" fill="#262626">290</text>
<text x="797.70" y="961.24" font-size="20" text-anchor="end" fill="#262626">295</text>
<text x="797.70" y="1019.10" font-size="20" text-anchor="end" fill="#262626">300</text>
<text x="1060.00" y="1064.70" font-size="22" text-anchor="middle" fill="#262626">Salinity (g/kg)</text>
<text x="755.70" y="803.50" font-size="22" text-anchor="middle" fill="#262626" transform="rotate(-90 755.70 803.50)">Temperature (K)</text>
<text x="1060.00" y="590.00" font-size="22.3" font-weight="bold" text-anchor="middle" fill="#000">Thermal Expansivity <tspan font-family="'Liberation Serif', serif" font-style="italic" font-weight="normal">&#945;</tspan> (1/K)</text>
<text x="814.90" y="570.60" font-size="31" font-weight="bold" fill="#000">(e)</text>
<clipPath id="clipc21"><rect x="1476.80" y="595.20" width="511.00" height="416.60"/></clipPath>
<g clip-path="url(#clipc21)">
<rect x="1476.80" y="595.20" width="511.00" height="416.60" fill="#008068"/>
<path d="M1942.3,587.2 L1942.0,590.2 L1941.7,593.2 L1941.3,596.2 L1941.1,599.1 L1940.8,602.1 L1940.5,605.1 L1940.3,608.1 L1940.1,611.1 L1939.9,614.1 L1939.7,617.0 L1939.5,620.0 L1939.4,623.0 L1939.2,626.0 L1939.1,629.0 L1939.0,632.0 L1938.9,634.9 L1938.8,637.9 L1938.8,640.9 L1938.7,643.9 L1938.7,646.9 L1938.7,649.9 L1938.7,652.8 L1938.7,655.8 L1938.8,658.8 L1938.8,661.8 L1938.9,664.8 L1938.9,667.8 L1939.0,670.7 L1939.1,673.7 L1939.2,676.7 L1939.4,679.7 L1939.5,682.7 L1939.7,685.7 L1939.8,688.6 L1940.0,691.6 L1940.2,694.6 L1940.4,697.6 L1940.6,700.6 L1940.9,703.6 L1941.1,706.5 L1941.4,709.5 L1941.6,712.5 L1941.9,715.5 L1942.2,718.5 L1942.5,721.5 L1942.8,724.4 L1943.1,727.4 L1943.5,730.4 L1943.8,733.4 L1944.2,736.4 L1944.5,739.4 L1944.9,742.3 L1945.3,745.3 L1945.7,748.3 L1946.1,751.3 L1946.5,754.3 L1946.9,757.3 L1947.4,760.2 L1947.8,763.2 L1948.3,766.2 L1948.7,769.2 L1949.2,772.2 L1949.7,775.2 L1950.1,778.1 L1950.6,781.1 L1951.1,784.1 L1951.6,787.1 L1952.1,790.1 L1952.7,793.1 L1953.2,796.0 L1953.7,799.0 L1954.3,802.0 L1954.8,805.0 L1955.4,808.0 L1955.9,811.0 L1956.5,813.9 L1957.1,816.9 L1957.7,819.9 L1958.2,822.9 L1958.8,825.9 L1959.4,828.9 L1960.0,831.8 L1960.6,834.8 L1961.2,837.8 L1961.9,840.8 L1962.5,843.8 L1963.1,846.8 L1963.7,849.7 L1964.4,852.7 L1965.0,855.7 L1965.6,858.7 L1966.3,861.7 L1966.9,864.7 L1967.6,867.6 L1968.2,870.6 L1968.9,873.6 L1969.6,876.6 L1970.2,879.6 L1970.9,882.6 L1971.6,885.5 L1972.2,888.5 L1972.9,891.5 L1973.6,894.5 L1974.2,897.5 L1974.9,900.5 L1975.6,903.4 L1976.3,906.4 L1977.0,909.4 L1977.6,912.4 L1978.3,915.4 L1979.0,918.4 L1979.7,921.3 L1980.4,924.3 L1981.1,927.3 L1981.7,930.3 L1982.4,933.3 L1983.1,936.3 L1983.8,939.2 L1984.5,942.2 L1985.2,945.2 L1985.8,948.2 L1986.5,951.2 L1987.2,954.2 L1987.9,957.1 L1988.5,960.1 L1989.2,963.1 L1989.9,966.1 L1990.5,969.1 L1991.2,972.1 L1991.9,975.0 L1992.5,978.0 L1993.2,981.0 L1993.8,984.0 L1994.5,987.0 L1995.1,990.0 L1995.8,992.9 L1996.4,995.9 L1997.1,998.9 L1997.7,1001.9 L1998.3,1004.9 L1999.0,1007.9 L1999.6,1010.8 L2000.2,1013.8 L2000.8,1016.8 L2001.4,1019.8 L1416.8,1019.8 L1416.8,587.2 Z" fill="#168b68" stroke="#168b68" stroke-width="0.6"/>
<path d="M1893.5,587.2 L1892.9,590.2 L1892.3,593.2 L1891.7,596.2 L1891.1,599.1 L1890.6,602.1 L1890.1,605.1 L1889.6,608.1 L1889.1,611.1 L1888.7,614.1 L1888.2,617.0 L1887.8,620.0 L1887.4,623.0 L1887.1,626.0 L1886.7,629.0 L1886.4,632.0 L1886.0,634.9 L1885.7,637.9 L1885.4,640.9 L1885.2,643.9 L1884.9,646.9 L1884.7,649.9 L1884.5,652.8 L1884.2,655.8 L1884.1,658.8 L1883.9,661.8 L1883.7,664.8 L1883.6,667.8 L1883.5,670.7 L1883.4,673.7 L1883.3,676.7 L1883.2,679.7 L1883.1,682.7 L1883.1,685.7 L1883.1,688.6 L1883.0,691.6 L1883.0,694.6 L1883.0,697.6 L1883.1,700.6 L1883.1,703.6 L1883.2,706.5 L1883.2,709.5 L1883.3,712.5 L1883.4,715.5 L1883.5,718.5 L1883.6,721.5 L1883.8,724.4 L1883.9,727.4 L1884.0,730.4 L1884.2,733.4 L1884.4,736.4 L1884.6,739.4 L1884.8,742.3 L1885.0,745.3 L1885.2,748.3 L1885.5,751.3 L1885.7,754.3 L1886.0,757.3 L1886.2,760.2 L1886.5,763.2 L1886.8,766.2 L1887.1,769.2 L1887.4,772.2 L1887.7,775.2 L1888.0,778.1 L1888.4,781.1 L1888.7,784.1 L1889.0,787.1 L1889.4,790.1 L1889.8,793.1 L1890.1,796.0 L1890.5,799.0 L1890.9,802.0 L1891.3,805.0 L1891.7,808.0 L1892.1,811.0 L1892.6,813.9 L1893.0,816.9 L1893.4,819.9 L1893.9,822.9 L1894.3,825.9 L1894.8,828.9 L1895.2,831.8 L1895.7,834.8 L1896.2,837.8 L1896.6,840.8 L1897.1,843.8 L1897.6,846.8 L1898.1,849.7 L1898.6,852.7 L1899.1,855.7 L1899.6,858.7 L1900.1,861.7 L1900.6,864.7 L1901.1,867.6 L1901.6,870.6 L1902.2,873.6 L1902.7,876.6 L1903.2,879.6 L1903.8,882.6 L1904.3,885.5 L1904.8,888.5 L1905.4,891.5 L1905.9,894.5 L1906.4,897.5 L1907.0,900.5 L1907.5,903.4 L1908.1,906.4 L1908.6,909.4 L1909.2,912.4 L1909.7,915.4 L1910.3,918.4 L1910.8,921.3 L1911.4,924.3 L1912.0,927.3 L1912.5,930.3 L1913.1,933.3 L1913.6,936.3 L1914.2,939.2 L1914.7,942.2 L1915.3,945.2 L1915.8,948.2 L1916.4,951.2 L1916.9,954.2 L1917.5,957.1 L1918.0,960.1 L1918.5,963.1 L1919.1,966.1 L1919.6,969.1 L1920.2,972.1 L1920.7,975.0 L1921.2,978.0 L1921.7,981.0 L1922.3,984.0 L1922.8,987.0 L1923.3,990.0 L1923.8,992.9 L1924.3,995.9 L1924.8,998.9 L1925.3,1001.9 L1925.8,1004.9 L1926.3,1007.9 L1926.8,1010.8 L1927.3,1013.8 L1927.7,1016.8 L1928.2,1019.8 L1416.8,1019.8 L1416.8,587.2 Z" fill="#309868" stroke="#309868" stroke-width="0.6"/>
<path d="M1845.2,587.2 L1844.3,590.2 L1843.5,593.2 L1842.7,596.2 L1842.0,599.1 L1841.2,602.1 L1840.5,605.1 L1839.8,608.1 L1839.1,611.1 L1838.4,614.1 L1837.7,617.0 L1837.1,620.0 L1836.5,623.0 L1835.9,626.0 L1835.3,629.0 L1834.8,632.0 L1834.2,634.9 L1833.7,637.9 L1833.2,640.9 L1832.7,643.9 L1832.3,646.9 L1831.8,649.9 L1831.4,652.8 L1831.0,655.8 L1830.6,658.8 L1830.2,661.8 L1829.9,664.8 L1829.5,667.8 L1829.2,670.7 L1828.9,673.7 L1828.6,676.7 L1828.3,679.7 L1828.0,682.7 L1827.8,685.7 L1827.6,688.6 L1827.3,691.6 L1827.1,694.6 L1827.0,697.6 L1826.8,700.6 L1826.6,703.6 L1826.5,706.5 L1826.4,709.5 L1826.3,712.5 L1826.2,715.5 L1826.1,718.5 L1826.0,721.5 L1825.9,724.4 L1825.9,727.4 L1825.9,730.4 L1825.8,733.4 L1825.8,736.4 L1825.8,739.4 L1825.9,742.3 L1825.9,745.3 L1825.9,748.3 L1826.0,751.3 L1826.1,754.3 L1826.1,757.3 L1826.2,760.2 L1826.3,763.2 L1826.4,766.2 L1826.6,769.2 L1826.7,772.2 L1826.8,775.2 L1827.0,778.1 L1827.1,781.1 L1827.3,784.1 L1827.5,787.1 L1827.7,790.1 L1827.9,793.1 L1828.1,796.0 L1828.3,799.0 L1828.6,802.0 L1828.8,805.0 L1829.0,808.0 L1829.3,811.0 L1829.6,813.9 L1829.8,816.9 L1830.1,819.9 L1830.4,822.9 L1830.7,825.9 L1831.0,828.9 L1831.3,831.8 L1831.6,834.8 L1831.9,837.8 L1832.3,840.8 L1832.6,843.8 L1832.9,846.8 L1833.3,849.7 L1833.6,852.7 L1834.0,855.7 L1834.4,858.7 L1834.7,861.7 L1835.1,864.7 L1835.5,867.6 L1835.9,870.6 L1836.2,873.6 L1836.6,876.6 L1837.0,879.6 L1837.4,882.6 L1837.8,885.5 L1838.3,888.5 L1838.7,891.5 L1839.1,894.5 L1839.5,897.5 L1839.9,900.5 L1840.4,903.4 L1840.8,906.4 L1841.2,909.4 L1841.6,912.4 L1842.1,915.4 L1842.5,918.4 L1843.0,921.3 L1843.4,924.3 L1843.8,927.3 L1844.3,930.3 L1844.7,933.3 L1845.2,936.3 L1845.6,939.2 L1846.1,942.2 L1846.5,945.2 L1847.0,948.2 L1847.4,951.2 L1847.8,954.2 L1848.3,957.1 L1848.7,960.1 L1849.2,963.1 L1849.6,966.1 L1850.1,969.1 L1850.5,972.1 L1851.0,975.0 L1851.4,978.0 L1851.8,981.0 L1852.3,984.0 L1852.7,987.0 L1853.1,990.0 L1853.6,992.9 L1854.0,995.9 L1854.4,998.9 L1854.8,1001.9 L1855.3,1004.9 L1855.7,1007.9 L1856.1,1010.8 L1856.5,1013.8 L1856.9,1016.8 L1857.3,1019.8 L1416.8,1019.8 L1416.8,587.2 Z" fill="#4aa568" stroke="#4aa568" stroke-width="0.6"/>
<path d="M1797.2,587.2 L1796.1,590.2 L1795.1,593.2 L1794.1,596.2 L1793.1,599.1 L1792.1,602.1 L1791.2,605.1 L1790.2,608.1 L1789.3,611.1 L1788.4,614.1 L1787.6,617.0 L1786.7,620.0 L1785.9,623.0 L1785.1,626.0 L1784.3,629.0 L1783.6,632.0 L1782.8,634.9 L1782.1,637.9 L1781.4,640.9 L1780.7,643.9 L1780.0,646.9 L1779.4,649.9 L1778.7,652.8 L1778.1,655.8 L1777.5,658.8 L1777.0,661.8 L1776.4,664.8 L1775.9,667.8 L1775.3,670.7 L1774.8,673.7 L1774.3,676.7 L1773.9,679.7 L1773.4,682.7 L1773.0,685.7 L1772.6,688.6 L1772.2,691.6 L1771.8,694.6 L1771.4,697.6 L1771.0,700.6 L1770.7,703.6 L1770.4,706.5 L1770.1,709.5 L1769.8,712.5 L1769.5,715.5 L1769.2,718.5 L1769.0,721.5 L1768.7,724.4 L1768.5,727.4 L1768.3,730.4 L1768.1,733.4 L1767.9,736.4 L1767.8,739.4 L1767.6,742.3 L1767.5,745.3 L1767.3,748.3 L1767.2,751.3 L1767.1,754.3 L1767.0,757.3 L1767.0,760.2 L1766.9,763.2 L1766.8,766.2 L1766.8,769.2 L1766.8,772.2 L1766.8,775.2 L1766.8,778.1 L1766.8,781.1 L1766.8,784.1 L1766.8,787.1 L1766.8,790.1 L1766.9,793.1 L1766.9,796.0 L1767.0,799.0 L1767.1,802.0 L1767.2,805.0 L1767.3,808.0 L1767.4,811.0 L1767.5,813.9 L1767.6,816.9 L1767.7,819.9 L1767.9,822.9 L1768.0,825.9 L1768.2,828.9 L1768.4,831.8 L1768.5,834.8 L1768.7,837.8 L1768.9,840.8 L1769.1,843.8 L1769.3,846.8 L1769.5,849.7 L1769.7,852.7 L1770.0,855.7 L1770.2,858.7 L1770.4,861.7 L1770.7,864.7 L1770.9,867.6 L1771.2,870.6 L1771.4,873.6 L1771.7,876.6 L1772.0,879.6 L1772.3,882.6 L1772.5,885.5 L1772.8,888.5 L1773.1,891.5 L1773.4,894.5 L1773.7,897.5 L1774.0,900.5 L1774.3,903.4 L1774.7,906.4 L1775.0,909.4 L1775.3,912.4 L1775.6,915.4 L1775.9,918.4 L1776.3,921.3 L1776.6,924.3 L1776.9,927.3 L1777.3,930.3 L1777.6,933.3 L1778.0,936.3 L1778.3,939.2 L1778.6,942.2 L1779.0,945.2 L1779.3,948.2 L1779.7,951.2 L1780.0,954.2 L1780.4,957.1 L1780.7,960.1 L1781.1,963.1 L1781.4,966.1 L1781.8,969.1 L1782.1,972.1 L1782.5,975.0 L1782.8,978.0 L1783.2,981.0 L1783.5,984.0 L1783.9,987.0 L1784.2,990.0 L1784.6,992.9 L1784.9,995.9 L1785.3,998.9 L1785.6,1001.9 L1786.0,1004.9 L1786.3,1007.9 L1786.6,1010.8 L1787.0,1013.8 L1787.3,1016.8 L1787.6,1019.8 L1416.8,1019.8 L1416.8,587.2 Z" fill="#64b168" stroke="#64b168" stroke-width="0.6"/>
<path d="M1751.6,587.2 L1750.3,590.2 L1749.1,593.2 L1747.8,596.2 L1746.6,599.1 L1745.4,602.1 L1744.2,605.1 L1743.1,608.1 L1741.9,611.1 L1740.8,614.1 L1739.7,617.0 L1738.7,620.0 L1737.6,623.0 L1736.6,626.0 L1735.6,629.0 L1734.6,632.0 L1733.6,634.9 L1732.7,637.9 L1731.8,640.9 L1730.8,643.9 L1730.0,646.9 L1729.1,649.9 L1728.3,652.8 L1727.4,655.8 L1726.6,658.8 L1725.8,661.8 L1725.1,664.8 L1724.3,667.8 L1723.6,670.7 L1722.9,673.7 L1722.2,676.7 L1721.5,679.7 L1720.8,682.7 L1720.2,685.7 L1719.6,688.6 L1719.0,691.6 L1718.4,694.6 L1717.8,697.6 L1717.2,700.6 L1716.7,703.6 L1716.2,706.5 L1715.7,709.5 L1715.2,712.5 L1714.7,715.5 L1714.2,718.5 L1713.8,721.5 L1713.4,724.4 L1712.9,727.4 L1712.6,730.4 L1712.2,733.4 L1711.8,736.4 L1711.4,739.4 L1711.1,742.3 L1710.8,745.3 L1710.5,748.3 L1710.2,751.3 L1709.9,754.3 L1709.6,757.3 L1709.4,760.2 L1709.1,763.2 L1708.9,766.2 L1708.7,769.2 L1708.5,772.2 L1708.3,775.2 L1708.1,778.1 L1707.9,781.1 L1707.8,784.1 L1707.6,787.1 L1707.5,790.1 L1707.4,793.1 L1707.3,796.0 L1707.2,799.0 L1707.1,802.0 L1707.0,805.0 L1706.9,808.0 L1706.9,811.0 L1706.8,813.9 L1706.8,816.9 L1706.8,819.9 L1706.8,822.9 L1706.8,825.9 L1706.8,828.9 L1706.8,831.8 L1706.8,834.8 L1706.8,837.8 L1706.9,840.8 L1706.9,843.8 L1707.0,846.8 L1707.0,849.7 L1707.1,852.7 L1707.2,855.7 L1707.3,858.7 L1707.4,861.7 L1707.5,864.7 L1707.6,867.6 L1707.7,870.6 L1707.8,873.6 L1708.0,876.6 L1708.1,879.6 L1708.3,882.6 L1708.4,885.5 L1708.6,888.5 L1708.7,891.5 L1708.9,894.5 L1709.1,897.5 L1709.3,900.5 L1709.4,903.4 L1709.6,906.4 L1709.8,909.4 L1710.0,912.4 L1710.2,915.4 L1710.4,918.4 L1710.7,921.3 L1710.9,924.3 L1711.1,927.3 L1711.3,930.3 L1711.6,933.3 L1711.8,936.3 L1712.0,939.2 L1712.3,942.2 L1712.5,945.2 L1712.7,948.2 L1713.0,951.2 L1713.2,954.2 L1713.5,957.1 L1713.7,960.1 L1714.0,963.1 L1714.2,966.1 L1714.5,969.1 L1714.8,972.1 L1715.0,975.0 L1715.3,978.0 L1715.5,981.0 L1715.8,984.0 L1716.1,987.0 L1716.3,990.0 L1716.6,992.9 L1716.9,995.9 L1717.1,998.9 L1717.4,1001.9 L1717.6,1004.9 L1717.9,1007.9 L1718.2,1010.8 L1718.4,1013.8 L1718.7,1016.8 L1718.9,1019.8 L1416.8,1019.8 L1416.8,587.2 Z" fill="#7ebe68" stroke="#7ebe68" stroke-width="0.6"/>
<path d="M1704.0,587.2 L1702.4,590.2 L1700.9,593.2 L1699.4,596.2 L1697.9,599.1 L1696.5,602.1 L1695.0,605.1 L1693.6,608.1 L1692.3,611.1 L1690.9,614.1 L1689.6,617.0 L1688.3,620.0 L1687.0,623.0 L1685.8,626.0 L1684.6,629.0 L1683.4,632.0 L1682.2,634.9 L1681.1,637.9 L1679.9,640.9 L1678.8,643.9 L1677.8,646.9 L1676.7,649.9 L1675.7,652.8 L1674.7,655.8 L1673.7,658.8 L1672.7,661.8 L1671.8,664.8 L1670.9,667.8 L1670.0,670.7 L1669.1,673.7 L1668.3,676.7 L1667.4,679.7 L1666.6,682.7 L1665.8,685.7 L1665.1,688.6 L1664.3,691.6 L1663.6,694.6 L1662.9,697.6 L1662.2,700.6 L1661.5,703.6 L1660.8,706.5 L1660.2,709.5 L1659.6,712.5 L1659.0,715.5 L1658.4,718.5 L1657.8,721.5 L1657.2,724.4 L1656.7,727.4 L1656.2,730.4 L1655.7,733.4 L1655.2,736.4 L1654.7,739.4 L1654.3,742.3 L1653.8,745.3 L1653.4,748.3 L1653.0,751.3 L1652.6,754.3 L1652.2,757.3 L1651.8,760.2 L1651.4,763.2 L1651.1,766.2 L1650.8,769.2 L1650.4,772.2 L1650.1,775.2 L1649.8,778.1 L1649.5,781.1 L1649.3,784.1 L1649.0,787.1 L1648.8,790.1 L1648.5,793.1 L1648.3,796.0 L1648.1,799.0 L1647.9,802.0 L1647.7,805.0 L1647.5,808.0 L1647.3,811.0 L1647.1,813.9 L1647.0,816.9 L1646.8,819.9 L1646.7,822.9 L1646.5,825.9 L1646.4,828.9 L1646.3,831.8 L1646.2,834.8 L1646.1,837.8 L1646.0,840.8 L1645.9,843.8 L1645.8,846.8 L1645.8,849.7 L1645.7,852.7 L1645.7,855.7 L1645.6,858.7 L1645.6,861.7 L1645.5,864.7 L1645.5,867.6 L1645.5,870.6 L1645.5,873.6 L1645.5,876.6 L1645.5,879.6 L1645.5,882.6 L1645.5,885.5 L1645.6,888.5 L1645.6,891.5 L1645.6,894.5 L1645.7,897.5 L1645.7,900.5 L1645.8,903.4 L1645.8,906.4 L1645.9,909.4 L1646.0,912.4 L1646.1,915.4 L1646.1,918.4 L1646.2,921.3 L1646.3,924.3 L1646.4,927.3 L1646.5,930.3 L1646.6,933.3 L1646.7,936.3 L1646.8,939.2 L1647.0,942.2 L1647.1,945.2 L1647.2,948.2 L1647.3,951.2 L1647.5,954.2 L1647.6,957.1 L1647.8,960.1 L1647.9,963.1 L1648.0,966.1 L1648.2,969.1 L1648.3,972.1 L1648.5,975.0 L1648.7,978.0 L1648.8,981.0 L1649.0,984.0 L1649.1,987.0 L1649.3,990.0 L1649.5,992.9 L1649.6,995.9 L1649.8,998.9 L1650.0,1001.9 L1650.2,1004.9 L1650.3,1007.9 L1650.5,1010.8 L1650.7,1013.8 L1650.9,1016.8 L1651.1,1019.8 L1416.8,1019.8 L1416.8,587.2 Z" fill="#98cb68" stroke="#98cb68" stroke-width="0.6"/>
<path d="M1658.2,587.2 L1656.5,590.2 L1654.8,593.2 L1653.1,596.2 L1651.5,599.1 L1649.9,602.1 L1648.3,605.1 L1646.7,608.1 L1645.2,611.1 L1643.7,614.1 L1642.2,617.0 L1640.7,620.0 L1639.3,623.0 L1637.9,626.0 L1636.5,629.0 L1635.1,632.0 L1633.8,634.9 L1632.4,637.9 L1631.1,640.9 L1629.9,643.9 L1628.6,646.9 L1627.4,649.9 L1626.2,652.8 L1625.0,655.8 L1623.8,658.8 L1622.7,661.8 L1621.6,664.8 L1620.5,667.8 L1619.4,670.7 L1618.3,673.7 L1617.3,676.7 L1616.3,679.7 L1615.3,682.7 L1614.3,685.7 L1613.4,688.6 L1612.4,691.6 L1611.5,694.6 L1610.6,697.6 L1609.7,700.6 L1608.9,703.6 L1608.0,706.5 L1607.2,709.5 L1606.4,712.5 L1605.6,715.5 L1604.8,718.5 L1604.1,721.5 L1603.4,724.4 L1602.6,727.4 L1601.9,730.4 L1601.2,733.4 L1600.6,736.4 L1599.9,739.4 L1599.3,742.3 L1598.7,745.3 L1598.0,748.3 L1597.5,751.3 L1596.9,754.3 L1596.3,757.3 L1595.8,760.2 L1595.2,763.2 L1594.7,766.2 L1594.2,769.2 L1593.7,772.2 L1593.2,775.2 L1592.8,778.1 L1592.3,781.1 L1591.9,784.1 L1591.4,787.1 L1591.0,790.1 L1590.6,793.1 L1590.2,796.0 L1589.8,799.0 L1589.5,802.0 L1589.1,805.0 L1588.8,808.0 L1588.4,811.0 L1588.1,813.9 L1587.8,816.9 L1587.5,819.9 L1587.2,822.9 L1586.9,825.9 L1586.6,828.9 L1586.4,831.8 L1586.1,834.8 L1585.9,837.8 L1585.6,840.8 L1585.4,843.8 L1585.2,846.8 L1585.0,849.7 L1584.8,852.7 L1584.6,855.7 L1584.4,858.7 L1584.3,861.7 L1584.1,864.7 L1584.0,867.6 L1583.8,870.6 L1583.7,873.6 L1583.5,876.6 L1583.4,879.6 L1583.3,882.6 L1583.2,885.5 L1583.1,888.5 L1583.0,891.5 L1583.0,894.5 L1582.9,897.5 L1582.8,900.5 L1582.8,903.4 L1582.7,906.4 L1582.7,909.4 L1582.6,912.4 L1582.6,915.4 L1582.6,918.4 L1582.6,921.3 L1582.6,924.3 L1582.6,927.3 L1582.6,930.3 L1582.6,933.3 L1582.6,936.3 L1582.6,939.2 L1582.6,942.2 L1582.7,945.2 L1582.7,948.2 L1582.7,951.2 L1582.8,954.2 L1582.8,957.1 L1582.9,960.1 L1583.0,963.1 L1583.0,966.1 L1583.1,969.1 L1583.2,972.1 L1583.3,975.0 L1583.3,978.0 L1583.4,981.0 L1583.5,984.0 L1583.6,987.0 L1583.7,990.0 L1583.8,992.9 L1583.9,995.9 L1584.0,998.9 L1584.1,1001.9 L1584.3,1004.9 L1584.4,1007.9 L1584.5,1010.8 L1584.6,1013.8 L1584.7,1016.8 L1584.9,1019.8 L1416.8,1019.8 L1416.8,587.2 Z" fill="#b1d868" stroke="#b1d868" stroke-width="0.6"/>
<path d="M1613.0,587.2 L1611.1,590.2 L1609.3,593.2 L1607.4,596.2 L1605.6,599.1 L1603.8,602.1 L1602.1,605.1 L1600.4,608.1 L1598.6,611.1 L1597.0,614.1 L1595.3,617.0 L1593.7,620.0 L1592.1,623.0 L1590.5,626.0 L1589.0,629.0 L1587.4,632.0 L1585.9,634.9 L1584.4,637.9 L1583.0,640.9 L1581.6,643.9 L1580.1,646.9 L1578.8,649.9 L1577.4,652.8 L1576.0,655.8 L1574.7,658.8 L1573.4,661.8 L1572.1,664.8 L1570.9,667.8 L1569.7,670.7 L1568.4,673.7 L1567.2,676.7 L1566.1,679.7 L1564.9,682.7 L1563.8,685.7 L1562.7,688.6 L1561.6,691.6 L1560.5,694.6 L1559.4,697.6 L1558.4,700.6 L1557.4,703.6 L1556.4,706.5 L1555.4,709.5 L1554.4,712.5 L1553.5,715.5 L1552.6,718.5 L1551.6,721.5 L1550.8,724.4 L1549.9,727.4 L1549.0,730.4 L1548.2,733.4 L1547.3,736.4 L1546.5,739.4 L1545.7,742.3 L1544.9,745.3 L1544.2,748.3 L1543.4,751.3 L1542.7,754.3 L1541.9,757.3 L1541.2,760.2 L1540.5,763.2 L1539.9,766.2 L1539.2,769.2 L1538.5,772.2 L1537.9,775.2 L1537.3,778.1 L1536.6,781.1 L1536.0,784.1 L1535.4,787.1 L1534.8,790.1 L1534.3,793.1 L1533.7,796.0 L1533.2,799.0 L1532.6,802.0 L1532.1,805.0 L1531.6,808.0 L1531.1,811.0 L1530.6,813.9 L1530.1,816.9 L1529.6,819.9 L1529.2,822.9 L1528.7,825.9 L1528.3,828.9 L1527.8,831.8 L1527.4,834.8 L1527.0,837.8 L1526.6,840.8 L1526.2,843.8 L1525.8,846.8 L1525.4,849.7 L1525.1,852.7 L1524.7,855.7 L1524.4,858.7 L1524.1,861.7 L1523.7,864.7 L1523.4,867.6 L1523.1,870.6 L1522.8,873.6 L1522.6,876.6 L1522.3,879.6 L1522.0,882.6 L1521.8,885.5 L1521.5,888.5 L1521.3,891.5 L1521.1,894.5 L1520.9,897.5 L1520.7,900.5 L1520.5,903.4 L1520.3,906.4 L1520.1,909.4 L1520.0,912.4 L1519.8,915.4 L1519.7,918.4 L1519.6,921.3 L1519.4,924.3 L1519.3,927.3 L1519.2,930.3 L1519.1,933.3 L1519.0,936.3 L1519.0,939.2 L1518.9,942.2 L1518.8,945.2 L1518.8,948.2 L1518.7,951.2 L1518.7,954.2 L1518.7,957.1 L1518.7,960.1 L1518.7,963.1 L1518.7,966.1 L1518.7,969.1 L1518.7,972.1 L1518.8,975.0 L1518.8,978.0 L1518.9,981.0 L1518.9,984.0 L1519.0,987.0 L1519.1,990.0 L1519.2,992.9 L1519.3,995.9 L1519.4,998.9 L1519.5,1001.9 L1519.6,1004.9 L1519.7,1007.9 L1519.9,1010.8 L1520.0,1013.8 L1520.2,1016.8 L1520.4,1019.8 L1416.8,1019.8 L1416.8,587.2 Z" fill="#cbe568" stroke="#cbe568" stroke-width="0.6"/>
<path d="M1567.8,587.2 L1565.9,590.2 L1563.9,593.2 L1562.0,596.2 L1560.1,599.1 L1558.3,602.1 L1556.4,605.1 L1554.6,608.1 L1552.8,611.1 L1551.0,614.1 L1549.2,617.0 L1547.5,620.0 L1545.8,623.0 L1544.1,626.0 L1542.4,629.0 L1540.7,632.0 L1539.1,634.9 L1537.5,637.9 L1535.9,640.9 L1534.3,643.9 L1532.8,646.9 L1531.2,649.9 L1529.7,652.8 L1528.2,655.8 L1526.8,658.8 L1525.3,661.8 L1523.9,664.8 L1522.4,667.8 L1521.0,670.7 L1519.7,673.7 L1518.3,676.7 L1517.0,679.7 L1515.7,682.7 L1514.4,685.7 L1513.1,688.6 L1511.8,691.6 L1510.6,694.6 L1509.3,697.6 L1508.1,700.6 L1506.9,703.6 L1505.8,706.5 L1504.6,709.5 L1503.5,712.5 L1502.3,715.5 L1501.2,718.5 L1500.2,721.5 L1499.1,724.4 L1498.0,727.4 L1497.0,730.4 L1496.0,733.4 L1495.0,736.4 L1494.0,739.4 L1493.0,742.3 L1492.1,745.3 L1491.2,748.3 L1490.2,751.3 L1489.3,754.3 L1488.4,757.3 L1487.6,760.2 L1486.7,763.2 L1485.9,766.2 L1485.1,769.2 L1484.3,772.2 L1483.5,775.2 L1482.7,778.1 L1481.9,781.1 L1481.2,784.1 L1480.4,787.1 L1479.7,790.1 L1479.0,793.1 L1478.3,796.0 L1477.6,799.0 L1477.0,802.0 L1476.3,805.0 L1475.7,808.0 L1475.1,811.0 L1474.5,813.9 L1473.9,816.9 L1473.3,819.9 L1472.7,822.9 L1472.2,825.9 L1471.7,828.9 L1471.1,831.8 L1470.6,834.8 L1470.1,837.8 L1469.6,840.8 L1469.2,843.8 L1468.7,846.8 L1468.2,849.7 L1467.8,852.7 L1467.4,855.7 L1467.0,858.7 L1466.6,861.7 L1466.2,864.7 L1465.8,867.6 L1465.4,870.6 L1465.1,873.6 L1464.7,876.6 L1464.4,879.6 L1464.1,882.6 L1463.7,885.5 L1463.4,888.5 L1463.2,891.5 L1462.9,894.5 L1462.6,897.5 L1462.3,900.5 L1462.1,903.4 L1461.9,906.4 L1461.6,909.4 L1461.4,912.4 L1461.2,915.4 L1461.0,918.4 L1460.8,921.3 L1460.6,924.3 L1460.5,927.3 L1460.3,930.3 L1460.1,933.3 L1460.0,936.3 L1459.9,939.2 L1459.7,942.2 L1459.6,945.2 L1459.5,948.2 L1459.4,951.2 L1459.3,954.2 L1459.2,957.1 L1459.1,960.1 L1459.1,963.1 L1459.0,966.1 L1458.9,969.1 L1458.9,972.1 L1458.9,975.0 L1458.8,978.0 L1458.8,981.0 L1458.8,984.0 L1458.8,987.0 L1458.8,990.0 L1458.8,992.9 L1458.8,995.9 L1458.8,998.9 L1458.8,1001.9 L1458.8,1004.9 L1458.9,1007.9 L1458.9,1010.8 L1459.0,1013.8 L1459.0,1016.8 L1459.1,1019.8 L1416.8,1019.8 L1416.8,587.2 Z" fill="#e5f268" stroke="#e5f268" stroke-width="0.6"/>
<path d="M1525.0,587.2 L1522.5,590.2 L1520.1,593.2 L1517.8,596.2 L1515.5,599.1 L1513.2,602.1 L1511.0,605.1 L1508.8,608.1 L1506.7,611.1 L1504.6,614.1 L1502.6,617.0 L1500.6,620.0 L1498.7,623.0 L1496.8,626.0 L1494.9,629.0 L1493.1,632.0 L1491.3,634.9 L1489.6,637.9 L1487.9,640.9 L1486.3,643.9 L1484.7,646.9 L1483.1,649.9 L1481.5,652.8 L1480.1,655.8 L1478.6,658.8 L1477.2,661.8 L1475.8,664.8 L1474.4,667.8 L1473.1,670.7 L1471.8,673.7 L1470.6,676.7 L1469.4,679.7 L1468.2,682.7 L1467.0,685.7 L1465.9,688.6 L1464.9,691.6 L1463.8,694.6 L1462.8,697.6 L1461.8,700.6 L1460.8,703.6 L1459.9,706.5 L1459.0,709.5 L1458.1,712.5 L1457.3,715.5 L1456.5,718.5 L1455.7,721.5 L1454.9,724.4 L1454.2,727.4 L1453.5,730.4 L1452.8,733.4 L1452.1,736.4 L1451.5,739.4 L1450.9,742.3 L1450.3,745.3 L1449.7,748.3 L1449.2,751.3 L1448.6,754.3 L1448.1,757.3 L1447.7,760.2 L1447.2,763.2 L1446.8,766.2 L1446.3,769.2 L1445.9,772.2 L1445.5,775.2 L1445.2,778.1 L1444.8,781.1 L1444.5,784.1 L1444.2,787.1 L1443.9,790.1 L1443.6,793.1 L1443.3,796.0 L1443.0,799.0 L1442.8,802.0 L1442.6,805.0 L1442.3,808.0 L1442.1,811.0 L1441.9,813.9 L1441.7,816.9 L1441.6,819.9 L1441.4,822.9 L1441.3,825.9 L1441.1,828.9 L1441.0,831.8 L1440.8,834.8 L1440.7,837.8 L1440.6,840.8 L1440.5,843.8 L1440.4,846.8 L1440.3,849.7 L1440.2,852.7 L1440.1,855.7 L1440.1,858.7 L1440.0,861.7 L1439.9,864.7 L1439.8,867.6 L1439.8,870.6 L1439.7,873.6 L1439.6,876.6 L1439.6,879.6 L1439.5,882.6 L1439.4,885.5 L1439.4,888.5 L1439.3,891.5 L1439.3,894.5 L1439.2,897.5 L1439.1,900.5 L1439.0,903.4 L1439.0,906.4 L1438.9,909.4 L1438.8,912.4 L1438.7,915.4 L1438.6,918.4 L1438.5,921.3 L1438.4,924.3 L1438.3,927.3 L1438.1,930.3 L1438.0,933.3 L1437.9,936.3 L1437.7,939.2 L1437.6,942.2 L1437.4,945.2 L1437.2,948.2 L1437.0,951.2 L1436.8,954.2 L1436.6,957.1 L1436.4,960.1 L1436.1,963.1 L1435.9,966.1 L1435.6,969.1 L1435.3,972.1 L1435.0,975.0 L1434.7,978.0 L1434.4,981.0 L1434.1,984.0 L1433.7,987.0 L1433.3,990.0 L1432.9,992.9 L1432.5,995.9 L1432.1,998.9 L1431.6,1001.9 L1431.1,1004.9 L1430.6,1007.9 L1430.1,1010.8 L1429.6,1013.8 L1429.0,1016.8 L1428.5,1019.8 L1416.8,1019.8 L1416.8,587.2 Z" fill="#ffff68" stroke="#ffff68" stroke-width="0.6"/>
<path d="M1942.3,587.2 L1942.0,590.2 L1941.7,593.2 L1941.3,596.2 L1941.1,599.1 L1940.8,602.1 L1940.5,605.1 L1940.3,608.1 L1940.1,611.1 L1939.9,614.1 L1939.7,617.0 L1939.5,620.0 L1939.4,623.0 L1939.2,626.0 L1939.1,629.0 L1939.0,632.0 L1938.9,634.9 L1938.8,637.9 L1938.8,640.9 L1938.7,643.9 L1938.7,646.9 L1938.7,649.9 L1938.7,652.8 L1938.7,655.8 L1938.8,658.8 L1938.8,661.8 L1938.9,664.8 L1938.9,667.8 L1939.0,670.7 L1939.1,673.7 L1939.2,676.7 L1939.4,679.7 L1939.5,682.7 L1939.7,685.7 L1939.8,688.6 L1940.0,691.6 L1940.2,694.6 M1945.3,745.3 L1945.7,748.3 L1946.1,751.3 L1946.5,754.3 L1946.9,757.3 L1947.4,760.2 L1947.8,763.2 L1948.3,766.2 L1948.7,769.2 L1949.2,772.2 L1949.7,775.2 L1950.1,778.1 L1950.6,781.1 L1951.1,784.1 L1951.6,787.1 L1952.1,790.1 L1952.7,793.1 L1953.2,796.0 L1953.7,799.0 L1954.3,802.0 L1954.8,805.0 L1955.4,808.0 L1955.9,811.0 L1956.5,813.9 L1957.1,816.9 L1957.7,819.9 L1958.2,822.9 L1958.8,825.9 L1959.4,828.9 L1960.0,831.8 L1960.6,834.8 L1961.2,837.8 L1961.9,840.8 L1962.5,843.8 L1963.1,846.8 L1963.7,849.7 L1964.4,852.7 L1965.0,855.7 L1965.6,858.7 L1966.3,861.7 L1966.9,864.7 L1967.6,867.6 L1968.2,870.6 L1968.9,873.6 L1969.6,876.6 L1970.2,879.6 L1970.9,882.6 L1971.6,885.5 M1982.4,933.3 L1983.1,936.3 L1983.8,939.2 L1984.5,942.2 L1985.2,945.2 L1985.8,948.2 L1986.5,951.2 L1987.2,954.2 L1987.9,957.1 L1988.5,960.1 L1989.2,963.1 L1989.9,966.1 L1990.5,969.1 L1991.2,972.1 L1991.9,975.0 L1992.5,978.0 L1993.2,981.0 L1993.8,984.0 L1994.5,987.0 L1995.1,990.0 L1995.8,992.9 L1996.4,995.9 L1997.1,998.9 L1997.7,1001.9 L1998.3,1004.9 L1999.0,1007.9 L1999.6,1010.8 L2000.2,1013.8 L2000.8,1016.8 L2001.4,1019.8" fill="none" stroke="#000" stroke-width="0.9"/>
<path d="M1893.5,587.2 L1892.9,590.2 L1892.3,593.2 L1891.7,596.2 L1891.1,599.1 L1890.6,602.1 L1890.1,605.1 L1889.6,608.1 L1889.1,611.1 L1888.7,614.1 L1888.2,617.0 L1887.8,620.0 L1887.4,623.0 L1887.1,626.0 L1886.7,629.0 L1886.4,632.0 L1886.0,634.9 L1885.7,637.9 L1885.4,640.9 L1885.2,643.9 L1884.9,646.9 L1884.7,649.9 L1884.5,652.8 L1884.2,655.8 L1884.1,658.8 L1883.9,661.8 L1883.7,664.8 L1883.6,667.8 L1883.5,670.7 L1883.4,673.7 L1883.3,676.7 L1883.2,679.7 L1883.1,682.7 L1883.1,685.7 L1883.1,688.6 L1883.0,691.6 L1883.0,694.6 L1883.0,697.6 L1883.1,700.6 L1883.1,703.6 L1883.2,706.5 L1883.2,709.5 L1883.3,712.5 L1883.4,715.5 L1883.5,718.5 L1883.6,721.5 L1883.8,724.4 L1883.9,727.4 L1884.0,730.4 L1884.2,733.4 L1884.4,736.4 M1888.7,784.1 L1889.0,787.1 L1889.4,790.1 L1889.8,793.1 L1890.1,796.0 L1890.5,799.0 L1890.9,802.0 L1891.3,805.0 L1891.7,808.0 L1892.1,811.0 L1892.6,813.9 L1893.0,816.9 L1893.4,819.9 L1893.9,822.9 L1894.3,825.9 L1894.8,828.9 L1895.2,831.8 L1895.7,834.8 L1896.2,837.8 L1896.6,840.8 L1897.1,843.8 L1897.6,846.8 L1898.1,849.7 L1898.6,852.7 L1899.1,855.7 L1899.6,858.7 L1900.1,861.7 L1900.6,864.7 L1901.1,867.6 L1901.6,870.6 L1902.2,873.6 L1902.7,876.6 L1903.2,879.6 L1903.8,882.6 L1904.3,885.5 L1904.8,888.5 L1905.4,891.5 L1905.9,894.5 L1906.4,897.5 L1907.0,900.5 L1907.5,903.4 L1908.1,906.4 L1908.6,909.4 L1909.2,912.4 L1909.7,915.4 L1910.3,918.4 L1910.8,921.3 L1911.4,924.3 M1920.7,975.0 L1921.2,978.0 L1921.7,981.0 L1922.3,984.0 L1922.8,987.0 L1923.3,990.0 L1923.8,992.9 L1924.3,995.9 L1924.8,998.9 L1925.3,1001.9 L1925.8,1004.9 L1926.3,1007.9 L1926.8,1010.8 L1927.3,1013.8 L1927.7,1016.8 L1928.2,1019.8" fill="none" stroke="#000" stroke-width="0.9"/>
<path d="M1845.2,587.2 L1844.3,590.2 L1843.5,593.2 L1842.7,596.2 L1842.0,599.1 L1841.2,602.1 L1840.5,605.1 L1839.8,608.1 L1839.1,611.1 L1838.4,614.1 L1837.7,617.0 L1837.1,620.0 L1836.5,623.0 L1835.9,626.0 L1835.3,629.0 L1834.8,632.0 L1834.2,634.9 L1833.7,637.9 L1833.2,640.9 L1832.7,643.9 L1832.3,646.9 L1831.8,649.9 L1831.4,652.8 L1831.0,655.8 L1830.6,658.8 L1830.2,661.8 L1829.9,664.8 L1829.5,667.8 L1829.2,670.7 L1828.9,673.7 L1828.6,676.7 L1828.3,679.7 L1828.0,682.7 L1827.8,685.7 L1827.6,688.6 L1827.3,691.6 L1827.1,694.6 L1827.0,697.6 L1826.8,700.6 L1826.6,703.6 L1826.5,706.5 L1826.4,709.5 L1826.3,712.5 L1826.2,715.5 L1826.1,718.5 L1826.0,721.5 L1825.9,724.4 L1825.9,727.4 L1825.9,730.4 L1825.8,733.4 M1827.1,781.1 L1827.3,784.1 L1827.5,787.1 L1827.7,790.1 L1827.9,793.1 L1828.1,796.0 L1828.3,799.0 L1828.6,802.0 L1828.8,805.0 L1829.0,808.0 L1829.3,811.0 L1829.6,813.9 L1829.8,816.9 L1830.1,819.9 L1830.4,822.9 L1830.7,825.9 L1831.0,828.9 L1831.3,831.8 L1831.6,834.8 L1831.9,837.8 L1832.3,840.8 L1832.6,843.8 L1832.9,846.8 L1833.3,849.7 L1833.6,852.7 L1834.0,855.7 L1834.4,858.7 L1834.7,861.7 L1835.1,864.7 L1835.5,867.6 L1835.9,870.6 L1836.2,873.6 L1836.6,876.6 L1837.0,879.6 L1837.4,882.6 L1837.8,885.5 L1838.3,888.5 L1838.7,891.5 L1839.1,894.5 L1839.5,897.5 L1839.9,900.5 L1840.4,903.4 L1840.8,906.4 L1841.2,909.4 L1841.6,912.4 L1842.1,915.4 L1842.5,918.4 L1843.0,921.3 L1843.4,924.3 M1851.0,975.0 L1851.4,978.0 L1851.8,981.0 L1852.3,984.0 L1852.7,987.0 L1853.1,990.0 L1853.6,992.9 L1854.0,995.9 L1854.4,998.9 L1854.8,1001.9 L1855.3,1004.9 L1855.7,1007.9 L1856.1,1010.8 L1856.5,1013.8 L1856.9,1016.8 L1857.3,1019.8" fill="none" stroke="#000" stroke-width="0.9"/>
<path d="M1797.2,587.2 L1796.1,590.2 L1795.1,593.2 L1794.1,596.2 L1793.1,599.1 L1792.1,602.1 L1791.2,605.1 L1790.2,608.1 L1789.3,611.1 L1788.4,614.1 L1787.6,617.0 L1786.7,620.0 L1785.9,623.0 L1785.1,626.0 L1784.3,629.0 L1783.6,632.0 L1782.8,634.9 L1782.1,637.9 L1781.4,640.9 L1780.7,643.9 L1780.0,646.9 L1779.4,649.9 L1778.7,652.8 L1778.1,655.8 L1777.5,658.8 L1777.0,661.8 L1776.4,664.8 L1775.9,667.8 L1775.3,670.7 L1774.8,673.7 L1774.3,676.7 L1773.9,679.7 L1773.4,682.7 L1773.0,685.7 L1772.6,688.6 L1772.2,691.6 L1771.8,694.6 L1771.4,697.6 L1771.0,700.6 L1770.7,703.6 L1770.4,706.5 L1770.1,709.5 L1769.8,712.5 L1769.5,715.5 L1769.2,718.5 L1769.0,721.5 L1768.7,724.4 L1768.5,727.4 L1768.3,730.4 L1768.1,733.4 M1766.8,781.1 L1766.8,784.1 L1766.8,787.1 L1766.8,790.1 L1766.9,793.1 L1766.9,796.0 L1767.0,799.0 L1767.1,802.0 L1767.2,805.0 L1767.3,808.0 L1767.4,811.0 L1767.5,813.9 L1767.6,816.9 L1767.7,819.9 L1767.9,822.9 L1768.0,825.9 L1768.2,828.9 L1768.4,831.8 L1768.5,834.8 L1768.7,837.8 L1768.9,840.8 L1769.1,843.8 L1769.3,846.8 L1769.5,849.7 L1769.7,852.7 L1770.0,855.7 L1770.2,858.7 L1770.4,861.7 L1770.7,864.7 L1770.9,867.6 L1771.2,870.6 L1771.4,873.6 L1771.7,876.6 L1772.0,879.6 L1772.3,882.6 L1772.5,885.5 L1772.8,888.5 L1773.1,891.5 L1773.4,894.5 L1773.7,897.5 L1774.0,900.5 L1774.3,903.4 L1774.7,906.4 L1775.0,909.4 L1775.3,912.4 L1775.6,915.4 L1775.9,918.4 L1776.3,921.3 L1776.6,924.3 M1782.5,975.0 L1782.8,978.0 L1783.2,981.0 L1783.5,984.0 L1783.9,987.0 L1784.2,990.0 L1784.6,992.9 L1784.9,995.9 L1785.3,998.9 L1785.6,1001.9 L1786.0,1004.9 L1786.3,1007.9 L1786.6,1010.8 L1787.0,1013.8 L1787.3,1016.8 L1787.6,1019.8" fill="none" stroke="#000" stroke-width="0.9"/>
<path d="M1751.6,587.2 L1750.3,590.2 L1749.1,593.2 L1747.8,596.2 L1746.6,599.1 L1745.4,602.1 L1744.2,605.1 L1743.1,608.1 L1741.9,611.1 L1740.8,614.1 L1739.7,617.0 L1738.7,620.0 L1737.6,623.0 L1736.6,626.0 L1735.6,629.0 L1734.6,632.0 L1733.6,634.9 L1732.7,637.9 L1731.8,640.9 L1730.8,643.9 L1730.0,646.9 L1729.1,649.9 L1728.3,652.8 L1727.4,655.8 L1726.6,658.8 L1725.8,661.8 L1725.1,664.8 L1724.3,667.8 L1723.6,670.7 L1722.9,673.7 L1722.2,676.7 L1721.5,679.7 L1720.8,682.7 L1720.2,685.7 L1719.6,688.6 L1719.0,691.6 L1718.4,694.6 L1717.8,697.6 L1717.2,700.6 L1716.7,703.6 L1716.2,706.5 L1715.7,709.5 L1715.2,712.5 L1714.7,715.5 L1714.2,718.5 L1713.8,721.5 L1713.4,724.4 L1712.9,727.4 L1712.6,730.4 L1712.2,733.4 M1707.9,781.1 L1707.8,784.1 L1707.6,787.1 L1707.5,790.1 L1707.4,793.1 L1707.3,796.0 L1707.2,799.0 L1707.1,802.0 L1707.0,805.0 L1706.9,808.0 L1706.9,811.0 L1706.8,813.9 L1706.8,816.9 L1706.8,819.9 L1706.8,822.9 L1706.8,825.9 L1706.8,828.9 L1706.8,831.8 L1706.8,834.8 L1706.8,837.8 L1706.9,840.8 L1706.9,843.8 L1707.0,846.8 L1707.0,849.7 L1707.1,852.7 L1707.2,855.7 L1707.3,858.7 L1707.4,861.7 L1707.5,864.7 L1707.6,867.6 L1707.7,870.6 L1707.8,873.6 L1708.0,876.6 L1708.1,879.6 L1708.3,882.6 L1708.4,885.5 L1708.6,888.5 L1708.7,891.5 L1708.9,894.5 L1709.1,897.5 L1709.3,900.5 L1709.4,903.4 L1709.6,906.4 L1709.8,909.4 L1710.0,912.4 L1710.2,915.4 L1710.4,918.4 L1710.7,921.3 L1710.9,924.3 M1714.8,972.1 L1715.0,975.0 L1715.3,978.0 L1715.5,981.0 L1715.8,984.0 L1716.1,987.0 L1716.3,990.0 L1716.6,992.9 L1716.9,995.9 L1717.1,998.9 L1717.4,1001.9 L1717.6,1004.9 L1717.9,1007.9 L1718.2,1010.8 L1718.4,1013.8 L1718.7,1016.8 L1718.9,1019.8" fill="none" stroke="#000" stroke-width="0.9"/>
<path d="M1704.0,587.2 L1702.4,590.2 L1700.9,593.2 L1699.4,596.2 L1697.9,599.1 L1696.5,602.1 L1695.0,605.1 L1693.6,608.1 L1692.3,611.1 L1690.9,614.1 L1689.6,617.0 L1688.3,620.0 L1687.0,623.0 L1685.8,626.0 L1684.6,629.0 L1683.4,632.0 L1682.2,634.9 L1681.1,637.9 L1679.9,640.9 L1678.8,643.9 L1677.8,646.9 L1676.7,649.9 L1675.7,652.8 L1674.7,655.8 L1673.7,658.8 L1672.7,661.8 L1671.8,664.8 L1670.9,667.8 L1670.0,670.7 L1669.1,673.7 L1668.3,676.7 L1667.4,679.7 L1666.6,682.7 L1665.8,685.7 L1665.1,688.6 L1664.3,691.6 L1663.6,694.6 L1662.9,697.6 L1662.2,700.6 L1661.5,703.6 L1660.8,706.5 L1660.2,709.5 L1659.6,712.5 L1659.0,715.5 L1658.4,718.5 L1657.8,721.5 L1657.2,724.4 L1656.7,727.4 L1656.2,730.4 L1655.7,733.4 M1649.5,781.1 L1649.3,784.1 L1649.0,787.1 L1648.8,790.1 L1648.5,793.1 L1648.3,796.0 L1648.1,799.0 L1647.9,802.0 L1647.7,805.0 L1647.5,808.0 L1647.3,811.0 L1647.1,813.9 L1647.0,816.9 L1646.8,819.9 L1646.7,822.9 L1646.5,825.9 L1646.4,828.9 L1646.3,831.8 L1646.2,834.8 L1646.1,837.8 L1646.0,840.8 L1645.9,843.8 L1645.8,846.8 L1645.8,849.7 L1645.7,852.7 L1645.7,855.7 L1645.6,858.7 L1645.6,861.7 L1645.5,864.7 L1645.5,867.6 L1645.5,870.6 L1645.5,873.6 L1645.5,876.6 L1645.5,879.6 L1645.5,882.6 L1645.5,885.5 L1645.6,888.5 L1645.6,891.5 L1645.6,894.5 L1645.7,897.5 L1645.7,900.5 L1645.8,903.4 L1645.8,906.4 L1645.9,909.4 L1646.0,912.4 L1646.1,915.4 L1646.1,918.4 L1646.2,921.3 L1646.3,924.3 M1648.3,972.1 L1648.5,975.0 L1648.7,978.0 L1648.8,981.0 L1649.0,984.0 L1649.1,987.0 L1649.3,990.0 L1649.5,992.9 L1649.6,995.9 L1649.8,998.9 L1650.0,1001.9 L1650.2,1004.9 L1650.3,1007.9 L1650.5,1010.8 L1650.7,1013.8 L1650.9,1016.8 L1651.1,1019.8" fill="none" stroke="#000" stroke-width="0.9"/>
<path d="M1658.2,587.2 L1656.5,590.2 L1654.8,593.2 L1653.1,596.2 L1651.5,599.1 L1649.9,602.1 L1648.3,605.1 L1646.7,608.1 L1645.2,611.1 L1643.7,614.1 L1642.2,617.0 L1640.7,620.0 L1639.3,623.0 L1637.9,626.0 L1636.5,629.0 L1635.1,632.0 L1633.8,634.9 L1632.4,637.9 L1631.1,640.9 L1629.9,643.9 L1628.6,646.9 L1627.4,649.9 L1626.2,652.8 L1625.0,655.8 L1623.8,658.8 L1622.7,661.8 L1621.6,664.8 L1620.5,667.8 L1619.4,670.7 L1618.3,673.7 L1617.3,676.7 L1616.3,679.7 L1615.3,682.7 L1614.3,685.7 L1613.4,688.6 L1612.4,691.6 L1611.5,694.6 L1610.6,697.6 L1609.7,700.6 L1608.9,703.6 L1608.0,706.5 L1607.2,709.5 L1606.4,712.5 L1605.6,715.5 L1604.8,718.5 L1604.1,721.5 L1603.4,724.4 L1602.6,727.4 L1601.9,730.4 L1601.2,733.4 M1592.3,781.1 L1591.9,784.1 L1591.4,787.1 L1591.0,790.1 L1590.6,793.1 L1590.2,796.0 L1589.8,799.0 L1589.5,802.0 L1589.1,805.0 L1588.8,808.0 L1588.4,811.0 L1588.1,813.9 L1587.8,816.9 L1587.5,819.9 L1587.2,822.9 L1586.9,825.9 L1586.6,828.9 L1586.4,831.8 L1586.1,834.8 L1585.9,837.8 L1585.6,840.8 L1585.4,843.8 L1585.2,846.8 L1585.0,849.7 L1584.8,852.7 L1584.6,855.7 L1584.4,858.7 L1584.3,861.7 L1584.1,864.7 L1584.0,867.6 L1583.8,870.6 L1583.7,873.6 L1583.5,876.6 L1583.4,879.6 L1583.3,882.6 L1583.2,885.5 L1583.1,888.5 L1583.0,891.5 L1583.0,894.5 L1582.9,897.5 L1582.8,900.5 L1582.8,903.4 L1582.7,906.4 L1582.7,909.4 L1582.6,912.4 L1582.6,915.4 L1582.6,918.4 L1582.6,921.3 M1583.2,972.1 L1583.3,975.0 L1583.3,978.0 L1583.4,981.0 L1583.5,984.0 L1583.6,987.0 L1583.7,990.0 L1583.8,992.9 L1583.9,995.9 L1584.0,998.9 L1584.1,1001.9 L1584.3,1004.9 L1584.4,1007.9 L1584.5,1010.8 L1584.6,1013.8 L1584.7,1016.8 L1584.9,1019.8" fill="none" stroke="#000" stroke-width="0.9"/>
<path d="M1613.0,587.2 L1611.1,590.2 L1609.3,593.2 L1607.4,596.2 L1605.6,599.1 L1603.8,602.1 L1602.1,605.1 L1600.4,608.1 L1598.6,611.1 L1597.0,614.1 L1595.3,617.0 L1593.7,620.0 L1592.1,623.0 L1590.5,626.0 L1589.0,629.0 L1587.4,632.0 L1585.9,634.9 L1584.4,637.9 L1583.0,640.9 L1581.6,643.9 L1580.1,646.9 L1578.8,649.9 L1577.4,652.8 L1576.0,655.8 L1574.7,658.8 L1573.4,661.8 L1572.1,664.8 L1570.9,667.8 L1569.7,670.7 L1568.4,673.7 L1567.2,676.7 L1566.1,679.7 L1564.9,682.7 L1563.8,685.7 L1562.7,688.6 L1561.6,691.6 L1560.5,694.6 L1559.4,697.6 L1558.4,700.6 L1557.4,703.6 L1556.4,706.5 L1555.4,709.5 L1554.4,712.5 L1553.5,715.5 L1552.6,718.5 L1551.6,721.5 L1550.8,724.4 L1549.9,727.4 L1549.0,730.4 L1548.2,733.4 M1536.6,781.1 L1536.0,784.1 L1535.4,787.1 L1534.8,790.1 L1534.3,793.1 L1533.7,796.0 L1533.2,799.0 L1532.6,802.0 L1532.1,805.0 L1531.6,808.0 L1531.1,811.0 L1530.6,813.9 L1530.1,816.9 L1529.6,819.9 L1529.2,822.9 L1528.7,825.9 L1528.3,828.9 L1527.8,831.8 L1527.4,834.8 L1527.0,837.8 L1526.6,840.8 L1526.2,843.8 L1525.8,846.8 L1525.4,849.7 L1525.1,852.7 L1524.7,855.7 L1524.4,858.7 L1524.1,861.7 L1523.7,864.7 L1523.4,867.6 L1523.1,870.6 L1522.8,873.6 L1522.6,876.6 L1522.3,879.6 L1522.0,882.6 L1521.8,885.5 L1521.5,888.5 L1521.3,891.5 L1521.1,894.5 L1520.9,897.5 L1520.7,900.5 L1520.5,903.4 L1520.3,906.4 L1520.1,909.4 L1520.0,912.4 L1519.8,915.4 L1519.7,918.4 L1519.6,921.3 M1518.7,972.1 L1518.8,975.0 L1518.8,978.0 L1518.9,981.0 L1518.9,984.0 L1519.0,987.0 L1519.1,990.0 L1519.2,992.9 L1519.3,995.9 L1519.4,998.9 L1519.5,1001.9 L1519.6,1004.9 L1519.7,1007.9 L1519.9,1010.8 L1520.0,1013.8 L1520.2,1016.8 L1520.4,1019.8" fill="none" stroke="#000" stroke-width="0.9"/>
<path d="M1567.8,587.2 L1565.9,590.2 L1563.9,593.2 L1562.0,596.2 L1560.1,599.1 L1558.3,602.1 L1556.4,605.1 L1554.6,608.1 L1552.8,611.1 L1551.0,614.1 L1549.2,617.0 L1547.5,620.0 L1545.8,623.0 L1544.1,626.0 L1542.4,629.0 L1540.7,632.0 L1539.1,634.9 L1537.5,637.9 L1535.9,640.9 L1534.3,643.9 L1532.8,646.9 L1531.2,649.9 L1529.7,652.8 L1528.2,655.8 L1526.8,658.8 L1525.3,661.8 L1523.9,664.8 L1522.4,667.8 L1521.0,670.7 L1519.7,673.7 L1518.3,676.7 L1517.0,679.7 L1515.7,682.7 L1514.4,685.7 L1513.1,688.6 L1511.8,691.6 L1510.6,694.6 L1509.3,697.6 L1508.1,700.6 L1506.9,703.6 L1505.8,706.5 L1504.6,709.5 L1503.5,712.5 L1502.3,715.5 L1501.2,718.5 L1500.2,721.5 M1485.9,766.2 L1485.1,769.2 L1484.3,772.2 L1483.5,775.2 L1482.7,778.1 L1481.9,781.1 L1481.2,784.1 L1480.4,787.1 L1479.7,790.1 L1479.0,793.1 L1478.3,796.0 L1477.6,799.0 L1477.0,802.0 L1476.3,805.0 L1475.7,808.0 L1475.1,811.0 L1474.5,813.9 L1473.9,816.9 L1473.3,819.9 L1472.7,822.9 L1472.2,825.9 L1471.7,828.9 L1471.1,831.8 L1470.6,834.8 L1470.1,837.8 L1469.6,840.8 L1469.2,843.8 L1468.7,846.8 L1468.2,849.7 L1467.8,852.7 L1467.4,855.7 L1467.0,858.7 L1466.6,861.7 L1466.2,864.7 L1465.8,867.6 L1465.4,870.6 L1465.1,873.6 L1464.7,876.6 L1464.4,879.6 L1464.1,882.6 L1463.7,885.5 L1463.4,888.5 L1463.2,891.5 L1462.9,894.5 L1462.6,897.5 L1462.3,900.5 L1462.1,903.4 L1461.9,906.4 L1461.6,909.4 L1461.4,912.4 L1461.2,915.4 L1461.0,918.4 L1460.8,921.3 L1460.6,924.3 L1460.5,927.3 L1460.3,930.3 L1460.1,933.3 L1460.0,936.3 L1459.9,939.2 L1459.7,942.2 L1459.6,945.2 L1459.5,948.2 L1459.4,951.2 L1459.3,954.2 L1459.2,957.1 L1459.1,960.1 L1459.1,963.1 L1459.0,966.1 L1458.9,969.1 L1458.9,972.1 L1458.9,975.0 L1458.8,978.0 L1458.8,981.0 L1458.8,984.0 L1458.8,987.0 L1458.8,990.0 L1458.8,992.9 L1458.8,995.9 L1458.8,998.9 L1458.8,1001.9 L1458.8,1004.9 L1458.9,1007.9 L1458.9,1010.8 L1459.0,1013.8 L1459.0,1016.8 L1459.1,1019.8" fill="none" stroke="#000" stroke-width="0.9"/>
<path d="M1525.0,587.2 L1522.5,590.2 L1520.1,593.2 L1517.8,596.2 L1515.5,599.1 L1513.2,602.1 L1511.0,605.1 L1508.8,608.1 L1506.7,611.1 L1504.6,614.1 L1502.6,617.0 L1500.6,620.0 L1498.7,623.0 L1496.8,626.0 L1494.9,629.0 L1493.1,632.0 L1491.3,634.9 L1489.6,637.9 L1487.9,640.9 L1486.3,643.9 L1484.7,646.9 L1483.1,649.9 L1481.5,652.8 L1480.1,655.8 L1478.6,658.8 L1477.2,661.8 L1475.8,664.8 L1474.4,667.8 L1473.1,670.7 L1471.8,673.7 L1470.6,676.7 L1469.4,679.7 L1468.2,682.7 L1467.0,685.7 L1465.9,688.6 L1464.9,691.6 L1463.8,694.6 L1462.8,697.6 L1461.8,700.6 L1460.8,703.6 L1459.9,706.5 L1459.0,709.5 L1458.1,712.5 L1457.3,715.5 L1456.5,718.5 L1455.7,721.5 L1454.9,724.4 L1454.2,727.4 L1453.5,730.4 L1452.8,733.4 L1452.1,736.4 L1451.5,739.4 L1450.9,742.3 L1450.3,745.3 L1449.7,748.3 L1449.2,751.3 L1448.6,754.3 L1448.1,757.3 L1447.7,760.2 L1447.2,763.2 L1446.8,766.2 L1446.3,769.2 L1445.9,772.2 L1445.5,775.2 L1445.2,778.1 L1444.8,781.1 L1444.5,784.1 L1444.2,787.1 L1443.9,790.1 L1443.6,793.1 L1443.3,796.0 L1443.0,799.0 L1442.8,802.0 L1442.6,805.0 L1442.3,808.0 L1442.1,811.0 L1441.9,813.9 L1441.7,816.9 L1441.6,819.9 L1441.4,822.9 L1441.3,825.9 L1441.1,828.9 L1441.0,831.8 L1440.8,834.8 L1440.7,837.8 L1440.6,840.8 L1440.5,843.8 L1440.4,846.8 L1440.3,849.7 L1440.2,852.7 L1440.1,855.7 L1440.1,858.7 L1440.0,861.7 L1439.9,864.7 L1439.8,867.6 L1439.8,870.6 L1439.7,873.6 L1439.6,876.6 L1439.6,879.6 L1439.5,882.6 L1439.4,885.5 L1439.4,888.5 L1439.3,891.5 L1439.3,894.5 L1439.2,897.5 L1439.1,900.5 L1439.0,903.4 L1439.0,906.4 L1438.9,909.4 L1438.8,912.4 L1438.7,915.4 L1438.6,918.4 L1438.5,921.3 L1438.4,924.3 L1438.3,927.3 L1438.1,930.3 L1438.0,933.3 L1437.9,936.3 L1437.7,939.2 L1437.6,942.2 L1437.4,945.2 L1437.2,948.2 L1437.0,951.2 L1436.8,954.2 L1436.6,957.1 L1436.4,960.1 L1436.1,963.1 L1435.9,966.1 L1435.6,969.1 L1435.3,972.1 L1435.0,975.0 L1434.7,978.0 L1434.4,981.0 L1434.1,984.0 L1433.7,987.0 L1433.3,990.0 L1432.9,992.9 L1432.5,995.9 L1432.1,998.9 L1431.6,1001.9 L1431.1,1004.9 L1430.6,1007.9 L1430.1,1010.8 L1429.6,1013.8 L1429.0,1016.8 L1428.5,1019.8" fill="none" stroke="#000" stroke-width="0.9"/>
</g>
<text x="1942.32" y="725.32" transform="rotate(84.27 1942.32 719.60)" font-size="16.1" text-anchor="middle" fill="#000">4000</text>
<text x="1976.98" y="915.22" transform="rotate(77.14 1976.98 909.50)" font-size="16.1" text-anchor="middle" fill="#000">4000</text>
<text x="1886.18" y="765.52" transform="rotate(84.84 1886.18 759.80)" font-size="16.1" text-anchor="middle" fill="#000">4020</text>
<text x="1916.10" y="955.42" transform="rotate(79.59 1916.10 949.70)" font-size="16.1" text-anchor="middle" fill="#000">4020</text>
<text x="1826.14" y="763.02" transform="rotate(88.40 1826.14 757.30)" font-size="16.1" text-anchor="middle" fill="#000">4040</text>
<text x="1847.18" y="955.42" transform="rotate(81.48 1847.18 949.70)" font-size="16.1" text-anchor="middle" fill="#000">4040</text>
<text x="1767.03" y="763.22" transform="rotate(-88.42 1767.03 757.50)" font-size="16.1" text-anchor="middle" fill="#000">4060</text>
<text x="1779.51" y="955.42" transform="rotate(83.33 1779.51 949.70)" font-size="16.1" text-anchor="middle" fill="#000">4060</text>
<text x="1709.70" y="762.02" transform="rotate(-84.87 1709.70 756.30)" font-size="16.1" text-anchor="middle" fill="#000">4080</text>
<text x="1712.78" y="954.42" transform="rotate(85.30 1712.78 948.70)" font-size="16.1" text-anchor="middle" fill="#000">4080</text>
<text x="1652.30" y="762.02" transform="rotate(-82.65 1652.30 756.30)" font-size="16.1" text-anchor="middle" fill="#000">4100</text>
<text x="1647.22" y="953.92" transform="rotate(87.55 1647.22 948.20)" font-size="16.1" text-anchor="middle" fill="#000">4100</text>
<text x="1596.49" y="762.02" transform="rotate(-79.35 1596.49 756.30)" font-size="16.1" text-anchor="middle" fill="#000">4120</text>
<text x="1582.69" y="952.92" transform="rotate(89.28 1582.69 947.20)" font-size="16.1" text-anchor="middle" fill="#000">4120</text>
<text x="1542.18" y="762.02" transform="rotate(-76.38 1542.18 756.30)" font-size="16.1" text-anchor="middle" fill="#000">4140</text>
<text x="1518.82" y="951.92" transform="rotate(-89.05 1518.82 946.20)" font-size="16.1" text-anchor="middle" fill="#000">4140</text>
<text x="1492.38" y="750.12" transform="rotate(-72.38 1492.38 744.40)" font-size="16.1" text-anchor="middle" fill="#000">4160</text>
<path d="M1561.97,1011.80 V1006.30 M1561.97,595.20 V600.70 M1647.13,1011.80 V1006.30 M1647.13,595.20 V600.70 M1732.30,1011.80 V1006.30 M1732.30,595.20 V600.70 M1817.47,1011.80 V1006.30 M1817.47,595.20 V600.70 M1902.63,1011.80 V1006.30 M1902.63,595.20 V600.70 M1476.80,606.77 H1482.30 M1987.80,606.77 H1982.30 M1476.80,664.63 H1482.30 M1987.80,664.63 H1982.30 M1476.80,722.49 H1482.30 M1987.80,722.49 H1982.30 M1476.80,780.36 H1482.30 M1987.80,780.36 H1982.30 M1476.80,838.22 H1482.30 M1987.80,838.22 H1982.30 M1476.80,896.08 H1482.30 M1987.80,896.08 H1982.30 M1476.80,953.94 H1482.30 M1987.80,953.94 H1982.30" stroke="#262626" stroke-opacity="0.9" stroke-width="1" fill="none"/>
<rect x="1476.80" y="595.20" width="511.00" height="416.60" fill="none" stroke="#262626" stroke-opacity="0.7" stroke-width="0.9"/>
<text x="1476.80" y="1038.10" font-size="20" text-anchor="middle" fill="#262626">0</text>
<text x="1561.97" y="1038.10" font-size="20" text-anchor="middle" fill="#262626">5</text>
<text x="1647.13" y="1038.10" font-size="20" text-anchor="middle" fill="#262626">10</text>
<text x="1732.30" y="1038.10" font-size="20" text-anchor="middle" fill="#262626">15</text>
<text x="1817.47" y="1038.10" font-size="20" text-anchor="middle" fill="#262626">20</text>
<text x="1902.63" y="1038.10" font-size="20" text-anchor="middle" fill="#262626">25</text>
<text x="1987.80" y="1038.10" font-size="20" text-anchor="middle" fill="#262626">30</text>
<text x="1470.00" y="614.07" font-size="20" text-anchor="end" fill="#262626">265</text>
<text x="1470.00" y="671.93" font-size="20" text-anchor="end" fill="#262626">270</text>
<text x="1470.00" y="729.79" font-size="20" text-anchor="end" fill="#262626">275</text>
<text x="1470.00" y="787.66" font-size="20" text-anchor="end" fill="#262626">280</text>
<text x="1470.00" y="845.52" font-size="20" text-anchor="end" fill="#262626">285</text>
<text x="1470.00" y="903.38" font-size="20" text-anchor="end" fill="#262626">290</text>
<text x="1470.00" y="961.24" font-size="20" text-anchor="end" fill="#262626">295</text>
<text x="1470.00" y="1019.10" font-size="20" text-anchor="end" fill="#262626">300</text>
<text x="1732.30" y="1064.70" font-size="22" text-anchor="middle" fill="#262626">Salinity (g/kg)</text>
<text x="1428.00" y="803.50" font-size="22" text-anchor="middle" fill="#262626" transform="rotate(-90 1428.00 803.50)">Temperature (K)</text>
<text x="1732.30" y="580.10" font-size="22.3" font-weight="bold" text-anchor="middle" fill="#000"><tspan letter-spacing="0.17">Heat Capacity C</tspan><tspan dy="9.8" font-size="16">p</tspan><tspan dy="-9.8" letter-spacing="0.17"> (J/kg/K)</tspan></text>
<text x="1485.40" y="570.60" font-size="31" font-weight="bold" fill="#000">(f)</text>
<text x="30" y="250.9" font-size="40" font-weight="bold" text-anchor="middle" fill="#000" transform="rotate(-90 30 250.9)">1 MPa</text>
<text x="30" y="795.8" font-size="40" font-weight="bold" text-anchor="middle" fill="#000" transform="rotate(-90 30 795.8)">10 MPa</text>
</svg>
</body></html>
